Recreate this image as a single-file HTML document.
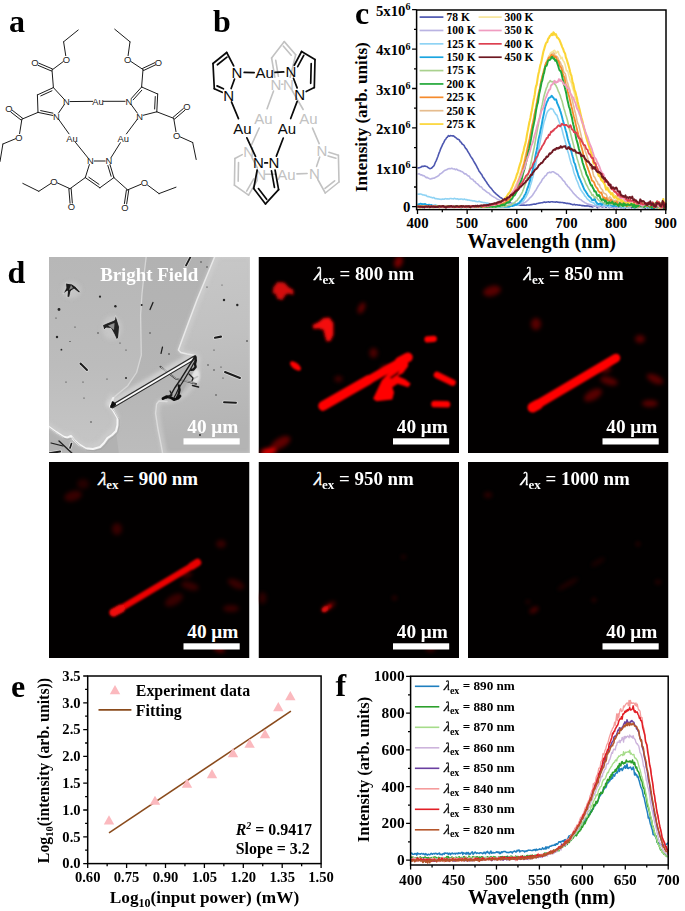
<!DOCTYPE html>
<html><head><meta charset="utf-8"><title>Figure</title>
<style>
html,body{margin:0;padding:0;background:#fff;}
body{width:685px;height:911px;overflow:hidden;font-family:"Liberation Serif",serif;}
svg{display:block;}
text{white-space:pre;}
</style></head><body>
<svg width="685" height="911" viewBox="0 0 685 911">
<rect width="685" height="911" fill="#fff"/>
<g stroke-linecap="round">
<line x1="64.22" y1="104.66" x2="58.48" y2="113.14" stroke="#1c1c1c" stroke-width="1" />
<line x1="52.78" y1="115.45" x2="38" y2="112.4" stroke="#1c1c1c" stroke-width="1" />
<line x1="52.95" y1="113.14" x2="40.68" y2="110.61" stroke="#1c1c1c" stroke-width="1" />
<line x1="38" y1="112.4" x2="37.4" y2="94.9" stroke="#1c1c1c" stroke-width="1" />
<line x1="37.4" y1="94.9" x2="53.4" y2="87.6" stroke="#1c1c1c" stroke-width="1" />
<line x1="40.75" y1="95.9" x2="51.95" y2="90.79" stroke="#1c1c1c" stroke-width="1" />
<line x1="53.4" y1="87.6" x2="63.79" y2="98.88" stroke="#1c1c1c" stroke-width="1" />
<line x1="53.4" y1="87.6" x2="52" y2="70" stroke="#1c1c1c" stroke-width="1" />
<line x1="52.45" y1="68.94" x2="38.86" y2="63.18" stroke="#1c1c1c" stroke-width="1" />
<line x1="51.55" y1="71.06" x2="37.96" y2="65.3" stroke="#1c1c1c" stroke-width="1" />
<line x1="52" y1="70" x2="63.34" y2="61.52" stroke="#1c1c1c" stroke-width="1" />
<line x1="65.74" y1="55.64" x2="63.6" y2="41.8" stroke="#1c1c1c" stroke-width="1" />
<line x1="63.6" y1="41.8" x2="78.2" y2="30" stroke="#1c1c1c" stroke-width="1" />
<line x1="38" y1="112.4" x2="21.9" y2="119.2" stroke="#1c1c1c" stroke-width="1" />
<line x1="22.61" y1="118.29" x2="12.43" y2="110.37" stroke="#1c1c1c" stroke-width="1" />
<line x1="21.19" y1="120.11" x2="11.01" y2="112.18" stroke="#1c1c1c" stroke-width="1" />
<line x1="21.9" y1="119.2" x2="19.59" y2="133.65" stroke="#1c1c1c" stroke-width="1" />
<line x1="15.58" y1="138.72" x2="2.9" y2="144" stroke="#1c1c1c" stroke-width="1" />
<line x1="2.9" y1="144" x2="0" y2="161.5" stroke="#1c1c1c" stroke-width="1" />
<line x1="130.97" y1="104.3" x2="137.43" y2="113.2" stroke="#1c1c1c" stroke-width="1" />
<line x1="143.18" y1="115.28" x2="156.8" y2="111.8" stroke="#1c1c1c" stroke-width="1" />
<line x1="156.8" y1="111.8" x2="157.7" y2="94" stroke="#1c1c1c" stroke-width="1" />
<line x1="154.64" y1="109.01" x2="155.27" y2="96.55" stroke="#1c1c1c" stroke-width="1" />
<line x1="157.7" y1="94" x2="141.6" y2="87" stroke="#1c1c1c" stroke-width="1" />
<line x1="141.6" y1="87" x2="131.27" y2="98.54" stroke="#1c1c1c" stroke-width="1" />
<line x1="141.76" y1="90.27" x2="133.18" y2="99.85" stroke="#1c1c1c" stroke-width="1" />
<line x1="141.6" y1="87" x2="143" y2="69.5" stroke="#1c1c1c" stroke-width="1" />
<line x1="143.49" y1="70.54" x2="155.64" y2="64.82" stroke="#1c1c1c" stroke-width="1" />
<line x1="142.51" y1="68.46" x2="154.66" y2="62.74" stroke="#1c1c1c" stroke-width="1" />
<line x1="143" y1="69.5" x2="130.68" y2="61.34" stroke="#1c1c1c" stroke-width="1" />
<line x1="128.1" y1="55.63" x2="130" y2="41.8" stroke="#1c1c1c" stroke-width="1" />
<line x1="130" y1="41.8" x2="114.7" y2="29.2" stroke="#1c1c1c" stroke-width="1" />
<line x1="156.8" y1="111.8" x2="173.7" y2="118.3" stroke="#1c1c1c" stroke-width="1" />
<line x1="174.45" y1="119.17" x2="184.84" y2="110.28" stroke="#1c1c1c" stroke-width="1" />
<line x1="172.95" y1="117.43" x2="183.34" y2="108.53" stroke="#1c1c1c" stroke-width="1" />
<line x1="173.7" y1="118.3" x2="175.98" y2="131.65" stroke="#1c1c1c" stroke-width="1" />
<line x1="179.98" y1="136.81" x2="192.7" y2="142.5" stroke="#1c1c1c" stroke-width="1" />
<line x1="192.7" y1="142.5" x2="196.2" y2="159.5" stroke="#1c1c1c" stroke-width="1" />
<line x1="70" y1="101.56" x2="92.64" y2="101.35" stroke="#1c1c1c" stroke-width="1" />
<line x1="103.36" y1="101.3" x2="125.1" y2="101.3" stroke="#1c1c1c" stroke-width="1" />
<line x1="94.2" y1="161" x2="105.2" y2="161" stroke="#1c1c1c" stroke-width="1" />
<line x1="109.97" y1="164.54" x2="113.9" y2="177.6" stroke="#1c1c1c" stroke-width="1" />
<line x1="107.85" y1="165.49" x2="111.11" y2="176.3" stroke="#1c1c1c" stroke-width="1" />
<line x1="113.9" y1="177.6" x2="99.9" y2="187.8" stroke="#1c1c1c" stroke-width="1" />
<line x1="99.9" y1="187.8" x2="85.3" y2="177.6" stroke="#1c1c1c" stroke-width="1" />
<line x1="99.03" y1="184.38" x2="88.81" y2="177.24" stroke="#1c1c1c" stroke-width="1" />
<line x1="85.3" y1="177.6" x2="89.39" y2="164.53" stroke="#1c1c1c" stroke-width="1" />
<line x1="85.3" y1="177.6" x2="70" y2="188.7" stroke="#1c1c1c" stroke-width="1" />
<line x1="68.85" y1="188.79" x2="70.05" y2="203.21" stroke="#1c1c1c" stroke-width="1" />
<line x1="71.15" y1="188.61" x2="72.34" y2="203.02" stroke="#1c1c1c" stroke-width="1" />
<line x1="70" y1="188.7" x2="57.37" y2="182.94" stroke="#1c1c1c" stroke-width="1" />
<line x1="50.9" y1="183.42" x2="38.8" y2="191.3" stroke="#1c1c1c" stroke-width="1" />
<line x1="38.8" y1="191.3" x2="22.8" y2="183.4" stroke="#1c1c1c" stroke-width="1" />
<line x1="113.9" y1="177.6" x2="127.6" y2="189.9" stroke="#1c1c1c" stroke-width="1" />
<line x1="126.46" y1="189.73" x2="124.41" y2="203.57" stroke="#1c1c1c" stroke-width="1" />
<line x1="128.74" y1="190.07" x2="126.68" y2="203.91" stroke="#1c1c1c" stroke-width="1" />
<line x1="127.6" y1="189.9" x2="141.09" y2="184.23" stroke="#1c1c1c" stroke-width="1" />
<line x1="147.47" y1="185.01" x2="159" y2="193.6" stroke="#1c1c1c" stroke-width="1" />
<line x1="159" y1="193.6" x2="176" y2="187.2" stroke="#1c1c1c" stroke-width="1" />
<line x1="58.55" y1="119.21" x2="68.98" y2="133.83" stroke="#1c1c1c" stroke-width="1" />
<line x1="75.47" y1="142.38" x2="88.18" y2="158.12" stroke="#1c1c1c" stroke-width="1" />
<line x1="137.39" y1="119.17" x2="126.41" y2="133.9" stroke="#1c1c1c" stroke-width="1" />
<line x1="120.35" y1="142.75" x2="110.87" y2="157.87" stroke="#1c1c1c" stroke-width="1" />
</g>
<g font-family='"Liberation Sans", sans-serif' font-size="9.4" font-weight="normal" fill="#1c1c1c" text-anchor="middle">
<text x="66.3" y="104.98">N</text>
<text x="56.4" y="119.58">N</text>
<text x="35" y="66.18">O</text>
<text x="66.3" y="62.68">O</text>
<text x="8.8" y="112.38">O</text>
<text x="19" y="140.68">O</text>
<text x="98" y="104.68">Au</text>
<text x="128.8" y="104.68">N</text>
<text x="139.6" y="119.58">N</text>
<text x="158.5" y="65.58">O</text>
<text x="127.6" y="62.68">O</text>
<text x="186.9" y="110.38">O</text>
<text x="176.6" y="138.68">O</text>
<text x="72.1" y="141.58">Au</text>
<text x="123.2" y="141.58">Au</text>
<text x="90.5" y="164.38">N</text>
<text x="108.9" y="164.38">N</text>
<text x="71.5" y="210.18">O</text>
<text x="54" y="184.78">O</text>
<text x="125" y="210.78">O</text>
<text x="144.5" y="186.18">O</text>
</g>
<g stroke-linecap="round">
<line x1="281.6" y1="84.3" x2="282.9" y2="84.3" stroke="#c2c2c2" stroke-width="1.6" />
<line x1="290.2" y1="77.3" x2="295.7" y2="54.7" stroke="#c2c2c2" stroke-width="1.6" />
<line x1="295.7" y1="54.7" x2="284.3" y2="41.6" stroke="#c2c2c2" stroke-width="1.6" />
<line x1="291.2" y1="55.16" x2="283.22" y2="45.99" stroke="#c2c2c2" stroke-width="1.6" />
<line x1="284.3" y1="41.6" x2="271.6" y2="58" stroke="#c2c2c2" stroke-width="1.6" />
<line x1="271.6" y1="58" x2="274.81" y2="77.2" stroke="#c2c2c2" stroke-width="1.6" />
<line x1="275.73" y1="60.27" x2="278.41" y2="76.29" stroke="#c2c2c2" stroke-width="1.6" />
<line x1="251.95" y1="157.67" x2="257.35" y2="167.93" stroke="#c2c2c2" stroke-width="1.6" />
<line x1="257.08" y1="180.52" x2="248.6" y2="195.1" stroke="#c2c2c2" stroke-width="1.6" />
<line x1="253.73" y1="178.92" x2="246.67" y2="191.05" stroke="#c2c2c2" stroke-width="1.6" />
<line x1="248.6" y1="195.1" x2="234.4" y2="185.2" stroke="#c2c2c2" stroke-width="1.6" />
<line x1="234.4" y1="185.2" x2="234.9" y2="158.5" stroke="#c2c2c2" stroke-width="1.6" />
<line x1="238.17" y1="181.26" x2="238.52" y2="162.57" stroke="#c2c2c2" stroke-width="1.6" />
<line x1="234.9" y1="158.5" x2="242.23" y2="154.65" stroke="#c2c2c2" stroke-width="1.6" />
<line x1="319.71" y1="157.03" x2="316.59" y2="166.37" stroke="#c2c2c2" stroke-width="1.6" />
<line x1="317.8" y1="179.49" x2="325.3" y2="193" stroke="#c2c2c2" stroke-width="1.6" />
<line x1="325.3" y1="193" x2="339" y2="182" stroke="#c2c2c2" stroke-width="1.6" />
<line x1="325.04" y1="188.46" x2="334.63" y2="180.76" stroke="#c2c2c2" stroke-width="1.6" />
<line x1="339" y1="182" x2="338.4" y2="155.2" stroke="#c2c2c2" stroke-width="1.6" />
<line x1="338.4" y1="155.2" x2="328.89" y2="152.3" stroke="#c2c2c2" stroke-width="1.6" />
<line x1="335.89" y1="158.3" x2="328.09" y2="155.93" stroke="#c2c2c2" stroke-width="1.6" />
<line x1="273.53" y1="91.06" x2="267.08" y2="108.69" stroke="#c2c2c2" stroke-width="1.6" />
<line x1="259.18" y1="128.01" x2="251.58" y2="144.74" stroke="#c2c2c2" stroke-width="1.6" />
<line x1="292.12" y1="90.52" x2="303.15" y2="109.48" stroke="#c2c2c2" stroke-width="1.6" />
<line x1="312.52" y1="128.09" x2="319.16" y2="143.58" stroke="#c2c2c2" stroke-width="1.6" />
<line x1="296.93" y1="173.89" x2="307.11" y2="173.48" stroke="#c2c2c2" stroke-width="1.6" />
<line x1="265.2" y1="174.3" x2="276.06" y2="174.3" stroke="#c2c2c2" stroke-width="1.6" />
</g>
<g font-family='"Liberation Sans", sans-serif' font-size="15" font-weight="normal" fill="#c2c2c2" text-anchor="middle">
<text x="276" y="89.7">N</text>
<text x="288.5" y="89.7">N</text>
<text x="263.5" y="123.9">Au</text>
<text x="308.4" y="123.9">Au</text>
<text x="286.5" y="179.7">Au</text>
<text x="248.6" y="156.7">N</text>
<text x="260.7" y="179.7">N</text>
<text x="322" y="155.6">N</text>
<text x="314.3" y="178.6">N</text>
</g>
<g stroke-linecap="round">
<line x1="234.56" y1="79.07" x2="231.14" y2="88.53" stroke="#0a0a0a" stroke-width="1.7" />
<line x1="222.15" y1="92.3" x2="214.3" y2="88.7" stroke="#0a0a0a" stroke-width="1.7" />
<line x1="223.42" y1="88.81" x2="217.02" y2="85.88" stroke="#0a0a0a" stroke-width="1.7" />
<line x1="214.3" y1="88.7" x2="213" y2="63.5" stroke="#0a0a0a" stroke-width="1.7" />
<line x1="213" y1="63.5" x2="226.7" y2="52.5" stroke="#0a0a0a" stroke-width="1.7" />
<line x1="217.37" y1="64.74" x2="226.96" y2="57.04" stroke="#0a0a0a" stroke-width="1.7" />
<line x1="226.7" y1="52.5" x2="233.68" y2="65.91" stroke="#0a0a0a" stroke-width="1.7" />
<line x1="293.47" y1="78.32" x2="297.13" y2="87.88" stroke="#0a0a0a" stroke-width="1.7" />
<line x1="306.19" y1="91.49" x2="314.3" y2="87.6" stroke="#0a0a0a" stroke-width="1.7" />
<line x1="314.3" y1="87.6" x2="315" y2="59.6" stroke="#0a0a0a" stroke-width="1.7" />
<line x1="310.71" y1="83.31" x2="311.2" y2="63.71" stroke="#0a0a0a" stroke-width="1.7" />
<line x1="315" y1="59.6" x2="301.6" y2="51.5" stroke="#0a0a0a" stroke-width="1.7" />
<line x1="301.6" y1="51.5" x2="294.28" y2="65.24" stroke="#0a0a0a" stroke-width="1.7" />
<line x1="303.77" y1="55.3" x2="297.69" y2="66.72" stroke="#0a0a0a" stroke-width="1.7" />
<line x1="244.2" y1="72.46" x2="254.16" y2="72.67" stroke="#0a0a0a" stroke-width="1.7" />
<line x1="275.03" y1="72.38" x2="283.71" y2="71.96" stroke="#0a0a0a" stroke-width="1.7" />
<line x1="264.8" y1="162.9" x2="267.5" y2="162.9" stroke="#0a0a0a" stroke-width="1.7" />
<line x1="275.07" y1="169.99" x2="278.6" y2="189.6" stroke="#0a0a0a" stroke-width="1.7" />
<line x1="271.49" y1="170.94" x2="274.43" y2="187.31" stroke="#0a0a0a" stroke-width="1.7" />
<line x1="278.6" y1="189.6" x2="265.5" y2="203.9" stroke="#0a0a0a" stroke-width="1.7" />
<line x1="265.5" y1="203.9" x2="253.7" y2="188.5" stroke="#0a0a0a" stroke-width="1.7" />
<line x1="266.67" y1="199.34" x2="258.41" y2="188.56" stroke="#0a0a0a" stroke-width="1.7" />
<line x1="253.7" y1="188.5" x2="257.17" y2="169.98" stroke="#0a0a0a" stroke-width="1.7" />
<line x1="231.48" y1="101.94" x2="238.47" y2="118.67" stroke="#0a0a0a" stroke-width="1.7" />
<line x1="246.88" y1="137.78" x2="255.48" y2="156.36" stroke="#0a0a0a" stroke-width="1.7" />
<line x1="297.16" y1="101.34" x2="290.68" y2="118.53" stroke="#0a0a0a" stroke-width="1.7" />
<line x1="283.28" y1="138.05" x2="276.37" y2="156.17" stroke="#0a0a0a" stroke-width="1.7" />
</g>
<g font-family='"Liberation Sans", sans-serif' font-size="15" font-weight="normal" fill="#0a0a0a" text-anchor="middle">
<text x="237" y="77.7">N</text>
<text x="228.7" y="100.7">N</text>
<text x="264.6" y="78.3">Au</text>
<text x="290.9" y="77">N</text>
<text x="299.7" y="100">N</text>
<text x="242.5" y="133.7">Au</text>
<text x="287" y="133.7">Au</text>
<text x="258.5" y="168.3">N</text>
<text x="273.8" y="168.3">N</text>
</g>
<defs><clipPath id="clipc"><rect x="416.6" y="10" width="251.4" height="199.6"/></clipPath></defs>
<g clip-path="url(#clipc)">
<polyline points="417.5,168.3 418.12,168.01 418.74,167.81 419.36,167.76 419.98,167.54 420.6,167.31 421.22,166.98 421.84,166.37 422.46,166.27 423.09,166.45 423.71,166.17 424.33,165.95 424.95,166.03 425.57,166.34 426.19,166.52 426.81,166.48 427.43,167 428.05,167.52 428.67,167.95 429.29,168.39 429.91,168.59 430.53,168.49 431.15,168.31 431.77,167.94 432.39,167.21 433.02,166.59 433.64,166.14 434.26,165.13 434.88,163.47 435.5,162 436.12,160.82 436.74,159.41 437.36,157.73 437.98,156.2 438.6,154.19 439.22,152.59 439.84,151.22 440.46,149.32 441.08,147.93 441.7,146.69 442.32,145.15 442.95,143.79 443.57,142.85 444.19,141.7 444.81,140.06 445.43,139.47 446.05,138.73 446.67,137.59 447.29,137.31 447.91,136.34 448.53,135.61 449.15,136.08 449.77,136.09 450.39,135.63 451.01,135.72 451.63,135.77 452.25,135.86 452.88,136.03 453.5,135.88 454.12,136.45 454.74,137.03 455.36,137.32 455.98,137.71 456.6,138.29 457.22,138.91 457.84,139.18 458.46,139.38 459.08,139.65 459.7,140.76 460.32,141.84 460.94,142.08 461.56,143.05 462.19,144.04 462.81,144.39 463.43,144.82 464.05,145.49 464.67,146.68 465.29,147.79 465.91,148.67 466.53,149.21 467.15,150.2 467.77,151.53 468.39,152.36 469.01,153.32 469.63,154.44 470.25,155.66 470.87,156.66 471.49,157.58 472.12,158.41 472.74,159.27 473.36,160.56 473.98,161.63 474.6,162.77 475.22,163.77 475.84,164.79 476.46,165.95 477.08,167.24 477.7,168.34 478.32,169.47 478.94,170.9 479.56,171.72 480.18,172.58 480.8,173.53 481.42,174.07 482.05,175.23 482.67,176.65 483.29,177.48 483.91,178.28 484.53,179.29 485.15,180.32 485.77,181.12 486.39,181.93 487.01,183.05 487.63,184 488.25,184.7 488.87,185.66 489.49,186.45 490.11,187.21 490.73,187.9 491.35,188.53 491.98,189.37 492.6,190.18 493.22,190.9 493.84,191.74 494.46,192.51 495.08,192.88 495.7,193.6 496.32,194.15 496.94,194.68 497.56,195.25 498.18,195.69 498.8,196.21 499.42,196.61 500.04,197.34 500.66,197.69 501.28,197.83 501.9,198.4 502.53,198.99 503.15,199.39 503.77,199.84 504.39,200.08 505.01,200.39 505.63,200.83 506.25,201.18 506.87,201.53 507.49,201.87 508.11,201.97 508.73,202.12 509.35,202.4 509.97,202.62 510.59,202.99 511.21,203.24 511.83,203.42 512.46,203.58 513.08,203.74 513.7,203.93 514.32,204.17 514.94,204.36 515.56,204.22 516.18,204.33 516.8,204.68 517.42,204.69 518.04,204.57 518.66,204.81 519.28,205.02 519.9,205.02 520.52,205.21 521.14,205.13 521.76,205.02 522.39,205.11 523.01,205.19 523.63,205.17 524.25,205.16 524.87,205.2 525.49,205.24 526.11,205.31 526.73,205.07 527.35,204.97 527.97,205.02 528.59,204.93 529.21,204.94 529.83,204.91 530.45,204.75 531.07,204.65 531.69,204.64 532.32,204.52 532.94,204.31 533.56,204.15 534.18,204.12 534.8,204.12 535.42,204.16 536.04,203.92 536.66,203.59 537.28,203.57 537.9,203.48 538.52,203.28 539.14,203.13 539.76,203 540.38,202.99 541,202.82 541.62,202.78 542.25,202.73 542.87,202.46 543.49,202.35 544.11,202.12 544.73,201.97 545.35,202.16 545.97,202.38 546.59,202.12 547.21,201.99 547.83,202.01 548.45,201.79 549.07,201.9 549.69,202.15 550.31,201.95 550.93,201.73 551.56,201.78 552.18,201.78 552.8,201.85 553.42,202.01 554.04,201.97 554.66,201.94 555.28,202.12 555.9,202.02 556.52,201.91 557.14,201.97 557.76,202.11 558.38,202.27 559,202.33 559.62,202.42 560.24,202.38 560.86,202.45 561.49,202.52 562.11,202.5 562.73,202.43 563.35,202.68 563.97,202.87 564.59,202.85 565.21,203.03 565.83,203.25 566.45,203.39 567.07,203.29 567.69,203.36 568.31,203.53 568.93,203.65 569.55,203.66 570.17,203.74 570.79,204.14 571.41,204.3 572.04,204.38 572.66,204.71 573.28,204.68 573.9,204.37 574.52,204.42 575.14,204.74 575.76,204.91 576.38,204.81 577,204.8 577.62,204.98 578.24,205.08 578.86,205.17 579.48,205.17 580.1,205.21 580.72,205.33 581.35,205.54 581.97,205.59 582.59,205.62 583.21,205.64 583.83,205.75 584.45,205.91 585.07,205.86 585.69,206.02 586.31,205.92 586.93,205.74 587.55,205.97 588.17,206.07 588.79,206.04 589.41,206.36 590.03,206.41 590.65,206.23 591.27,206.28 591.9,206.83 592.52,207.04 593.14,206.6 593.76,205.87 594.38,205.63 595,206.27 595.62,205.68 596.24,205.98 596.86,206.99 597.48,207.66 598.1,206.66 598.72,205.24 599.34,205.59 599.96,205.76 600.58,206.18 601.21,206.43 601.83,206.62 602.45,206.85 603.07,206.7 603.69,205.82 604.31,205.57 604.93,206.39 605.55,206.98 606.17,207.28 606.79,206.16 607.41,205.57 608.03,206.37 608.65,206.81 609.27,207.42 609.89,207.28 610.51,206.26 611.13,206.43 611.76,207 612.38,206.92 613,206.74 613.62,207.45 614.24,207.63 614.86,207.25 615.48,206.68 616.1,206.63 616.72,206.79 617.34,205.61 617.96,206.07 618.58,207.17 619.2,206.91 619.82,206.6 620.44,207.21 621.07,206.97 621.69,205.42 622.31,205.79 622.93,206.94 623.55,207.34 624.17,207.07 624.79,207.18 625.41,207.91 626.03,206.61 626.65,206.51 627.27,206.61 627.89,205.35 628.51,205.78 629.13,206.28 629.75,205.41 630.37,205.79 631,207.11 631.62,207.7 632.24,207.38 632.86,205.91 633.48,205.44 634.1,206.69 634.72,207.63 635.34,207.4 635.96,206.81 636.58,206.66 637.2,206.7 637.82,206.44 638.44,206.7 639.06,206.87 639.68,206.61 640.3,206.64 640.92,206.48 641.55,205.47 642.17,205.43 642.79,206.37 643.41,207.54 644.03,207.37 644.65,207.5 645.27,208.43 645.89,206.99 646.51,205.85 647.13,206.38 647.75,207.83 648.37,208.03 648.99,207.4 649.61,206.73 650.23,204.58 650.86,204.81 651.48,207.15 652.1,208.31 652.72,207.75 653.34,206.91 653.96,207.92 654.58,207.68 655.2,207.71 655.82,206.74 656.44,204.44 657.06,204.4 657.68,206.03 658.3,206.65 658.92,206.26 659.54,207.32 660.16,207.59 660.78,208.76 661.41,209.3 662.03,207.56 662.65,205.89 663.27,206.67 663.89,204.98 664.51,207.75 665.13,209.3 665.75,207.61" fill="none" stroke="#4d57b0" stroke-width="1.6" stroke-linejoin="round"/>
<polyline points="417.5,173.94 418.12,173.96 418.74,173.84 419.36,173.81 419.98,174.44 420.6,174.88 421.22,174.71 421.84,174.7 422.46,175.59 423.09,175.75 423.71,175.59 424.33,175.95 424.95,176.51 425.57,177.19 426.19,177.66 426.81,177.4 427.43,177.48 428.05,177.9 428.67,178.18 429.29,178.61 429.91,178.9 430.53,179.06 431.15,178.53 431.77,178.65 432.39,178.53 433.02,178.06 433.64,178.27 434.26,178.19 434.88,177.78 435.5,177.36 436.12,177.01 436.74,176.78 437.36,176.31 437.98,175.91 438.6,175.65 439.22,174.97 439.84,174.03 440.46,173.86 441.08,173.56 441.7,172.89 442.32,172.63 442.95,171.84 443.57,171.29 444.19,170.73 444.81,170.39 445.43,170.27 446.05,169.8 446.67,169.76 447.29,169.29 447.91,168.92 448.53,168.71 449.15,168.53 449.77,168.81 450.39,168.75 451.01,168.45 451.63,168.21 452.25,168.47 452.88,168.76 453.5,169.02 454.12,168.95 454.74,168.92 455.36,169.63 455.98,169.54 456.6,169.04 457.22,169.58 457.84,170.3 458.46,170.36 459.08,170.62 459.7,170.64 460.32,170.86 460.94,171.42 461.56,171.44 462.19,171.79 462.81,172.19 463.43,172.62 464.05,173.37 464.67,173.96 465.29,173.72 465.91,173.83 466.53,174.63 467.15,175.03 467.77,175.52 468.39,175.99 469.01,176.13 469.63,176.85 470.25,178.06 470.87,178.57 471.49,179.05 472.12,179.23 472.74,179.36 473.36,180.23 473.98,181.19 474.6,181.62 475.22,181.66 475.84,182.66 476.46,183.37 477.08,183.62 477.7,184.08 478.32,184.64 478.94,185.42 479.56,186.04 480.18,186.7 480.8,186.77 481.42,187.03 482.05,187.86 482.67,188.66 483.29,189.42 483.91,189.86 484.53,190.1 485.15,190.57 485.77,191.08 486.39,191.73 487.01,192.21 487.63,192.54 488.25,192.83 488.87,193.04 489.49,193.7 490.11,194.5 490.73,194.93 491.35,195.34 491.98,195.85 492.6,196.19 493.22,196.63 493.84,196.94 494.46,197.21 495.08,197.63 495.7,198 496.32,198.47 496.94,198.9 497.56,199.18 498.18,199.45 498.8,199.72 499.42,199.96 500.04,200.43 500.66,200.7 501.28,200.97 501.9,201.31 502.53,201.46 503.15,201.85 503.77,202.05 504.39,202.04 505.01,202.29 505.63,202.55 506.25,202.77 506.87,203.01 507.49,203.18 508.11,203.31 508.73,203.43 509.35,203.64 509.97,203.77 510.59,203.77 511.21,203.92 511.83,204.08 512.46,204.11 513.08,204.31 513.7,204.38 514.32,204.26 514.94,204.32 515.56,204.34 516.18,204.44 516.8,204.49 517.42,204.35 518.04,204.25 518.66,204.23 519.28,204.32 519.9,204.19 520.52,203.81 521.14,203.61 521.76,203.52 522.39,203.56 523.01,203.26 523.63,202.85 524.25,202.9 524.87,202.52 525.49,202.05 526.11,201.82 526.73,201.29 527.35,200.54 527.97,199.99 528.59,199.54 529.21,198.7 529.83,197.9 530.45,197.43 531.07,196.93 531.69,196.32 532.32,195.59 532.94,194.54 533.56,193.52 534.18,192.66 534.8,191.64 535.42,190.8 536.04,189.98 536.66,188.74 537.28,187.62 537.9,186.52 538.52,185.51 539.14,184.7 539.76,183.67 540.38,182.76 541,182.12 541.62,180.84 542.25,179.58 542.87,178.69 543.49,178.13 544.11,177.42 544.73,176.4 545.35,175.76 545.97,175.44 546.59,174.71 547.21,173.5 547.83,172.87 548.45,172.8 549.07,172.58 549.69,172.05 550.31,172.51 550.93,172.65 551.56,171.93 552.18,171.82 552.8,171.68 553.42,171.74 554.04,172.26 554.66,172.71 555.28,172.91 555.9,173.44 556.52,174.02 557.14,174.14 557.76,174.2 558.38,174.94 559,175.91 559.62,176.42 560.24,176.75 560.86,177.45 561.49,178.1 562.11,178.98 562.73,180.01 563.35,180.6 563.97,181.17 564.59,181.71 565.21,182.9 565.83,184.03 566.45,184.5 567.07,185.25 567.69,186.35 568.31,186.86 568.93,187.33 569.55,188.21 570.17,189.14 570.79,189.83 571.41,190.56 572.04,191.3 572.66,192.13 573.28,193.12 573.9,193.66 574.52,194.33 575.14,194.93 575.76,195.45 576.38,196.28 577,196.9 577.62,197.42 578.24,197.88 578.86,198.45 579.48,199.12 580.1,199.41 580.72,199.59 581.35,199.96 581.97,200.63 582.59,201.23 583.21,201.46 583.83,201.86 584.45,202.46 585.07,202.76 585.69,202.93 586.31,203.31 586.93,203.78 587.55,204.09 588.17,204.11 588.79,204.26 589.41,204.54 590.03,204.65 590.65,204.76 591.27,204.97 591.9,205.06 592.52,205.49 593.14,206.07 593.76,206.26 594.38,205.59 595,205.17 595.62,206.24 596.24,206.49 596.86,206.3 597.48,205.83 598.1,206.6 598.72,207.56 599.34,206.98 599.96,205.18 600.58,204.53 601.21,205.94 601.83,206.1 602.45,205.01 603.07,205.53 603.69,206.81 604.31,206.09 604.93,205.66 605.55,205.96 606.17,206.49 606.79,205.86 607.41,204.73 608.03,205.44 608.65,205.98 609.27,207.33 609.89,207.36 610.51,206.42 611.13,206.53 611.76,206.09 612.38,206.49 613,207.72 613.62,207.36 614.24,206.87 614.86,207.24 615.48,207.17 616.1,207.18 616.72,208.06 617.34,207.25 617.96,205.93 618.58,205.99 619.2,205.1 619.82,205.66 620.44,207.61 621.07,208.09 621.69,207.78 622.31,207.58 622.93,206.92 623.55,207.69 624.17,207.56 624.79,207.3 625.41,207.32 626.03,206.6 626.65,206.92 627.27,206.9 627.89,207.02 628.51,207.29 629.13,207.88 629.75,207.58 630.37,205.76 631,204.72 631.62,205 632.24,205.65 632.86,206.68 633.48,206.3 634.1,205.98 634.72,206.76 635.34,206.89 635.96,206.8 636.58,206.88 637.2,206.97 637.82,207.3 638.44,207.45 639.06,205.72 639.68,205.56 640.3,206.86 640.92,206.55 641.55,206.06 642.17,206.91 642.79,207.38 643.41,206.33 644.03,206.09 644.65,206.5 645.27,205.83 645.89,206.25 646.51,207.03 647.13,206.95 647.75,206.11 648.37,207 648.99,208.46 649.61,207.54 650.23,206.6 650.86,205.73 651.48,205.11 652.1,206.85 652.72,207.4 653.34,206.3 653.96,207.58 654.58,206.82 655.2,207.07 655.82,209.3 656.44,209.24 657.06,208.7 657.68,209.06 658.3,207.01 658.92,205.91 659.54,204.43 660.16,205 660.78,208.87 661.41,209.3 662.03,208.91 662.65,209.3 663.27,207.78 663.89,207 664.51,209.3 665.13,208.58 665.75,205.82" fill="none" stroke="#b9b3e2" stroke-width="1.6" stroke-linejoin="round"/>
<polyline points="417.5,194.3 418.12,194.2 418.74,194.11 419.36,194.1 419.98,194.01 420.6,193.99 421.22,194.2 421.84,194.29 422.46,194.73 423.09,194.96 423.71,194.92 424.33,195.03 424.95,195.4 425.57,195.36 426.19,195.33 426.81,196.02 427.43,196.54 428.05,196.61 428.67,196.56 429.29,196.85 429.91,197.04 430.53,197.24 431.15,197.36 431.77,197.57 432.39,197.85 433.02,197.74 433.64,197.48 434.26,197.94 434.88,198.56 435.5,198.65 436.12,198.56 436.74,198.7 437.36,198.97 437.98,198.86 438.6,198.99 439.22,199.18 439.84,199.13 440.46,199.33 441.08,199.5 441.7,199.24 442.32,198.98 442.95,198.94 443.57,199.23 444.19,199.26 444.81,198.83 445.43,198.65 446.05,198.77 446.67,198.98 447.29,198.84 447.91,198.78 448.53,199.05 449.15,199.07 449.77,198.64 450.39,198.48 451.01,198.52 451.63,198.64 452.25,198.68 452.88,198.71 453.5,198.9 454.12,198.43 454.74,198.31 455.36,198.8 455.98,198.96 456.6,198.86 457.22,198.69 457.84,198.86 458.46,199.36 459.08,199.37 459.7,199.14 460.32,199.13 460.94,198.98 461.56,199 462.19,199.14 462.81,199.43 463.43,199.49 464.05,199.06 464.67,199.14 465.29,199.51 465.91,199.68 466.53,199.52 467.15,199.78 467.77,200.16 468.39,200.03 469.01,199.99 469.63,200.22 470.25,200.38 470.87,200.45 471.49,200.58 472.12,200.65 472.74,200.95 473.36,201.03 473.98,200.83 474.6,201.08 475.22,201.35 475.84,201.21 476.46,201.44 477.08,201.62 477.7,201.73 478.32,201.69 478.94,201.29 479.56,201.27 480.18,201.76 480.8,202.06 481.42,202.12 482.05,202.32 482.67,202.22 483.29,202.53 483.91,202.71 484.53,202.63 485.15,202.68 485.77,202.75 486.39,203.16 487.01,203.25 487.63,203.15 488.25,203.28 488.87,203.42 489.49,203.59 490.11,204.07 490.73,203.96 491.35,203.64 491.98,203.84 492.6,204.02 493.22,203.98 493.84,204.14 494.46,204.48 495.08,204.52 495.7,204.33 496.32,204.58 496.94,204.66 497.56,204.63 498.18,205.03 498.8,204.83 499.42,204.76 500.04,205.19 500.66,205.29 501.28,205.04 501.9,204.88 502.53,205.13 503.15,205.3 503.77,205.19 504.39,205.39 505.01,205.49 505.63,205.44 506.25,205.61 506.87,205.71 507.49,205.66 508.11,205.62 508.73,205.73 509.35,205.81 509.97,205.58 510.59,205.49 511.21,205.52 511.83,205.36 512.46,205.38 513.08,205.19 513.7,205.33 514.32,205.47 514.94,205.31 515.56,205.05 516.18,204.63 516.8,205.01 517.42,205.2 518.04,204.6 518.66,204.09 519.28,203.78 519.9,203.56 520.52,203.2 521.14,202.64 521.76,202.21 522.39,201.57 523.01,201.25 523.63,200.59 524.25,199.59 524.87,198.65 525.49,197.52 526.11,196.73 526.73,195.43 527.35,194.13 527.97,192.93 528.59,191.51 529.21,189.69 529.83,187.51 530.45,185.38 531.07,183.44 531.69,181.24 532.32,178.89 532.94,176.69 533.56,174 534.18,171.05 534.8,168.46 535.42,165.88 536.04,162.85 536.66,159.71 537.28,156.77 537.9,153.33 538.52,149.97 539.14,146.89 539.76,143.78 540.38,140.59 541,137.03 541.62,134.16 542.25,130.57 542.87,127.36 543.49,124.62 544.11,121.74 544.73,120.12 545.35,118.31 545.97,115.81 546.59,113.77 547.21,112.29 547.83,111.05 548.45,110.67 549.07,109.82 549.69,109.43 550.31,108.94 550.93,108.35 551.56,108.94 552.18,109.05 552.8,109.11 553.42,110.18 554.04,111.69 554.66,112.41 555.28,113.52 555.9,114.6 556.52,114.47 557.14,115.88 557.76,117.71 558.38,119.41 559,121.23 559.62,122.63 560.24,124.62 560.86,126.25 561.49,127.65 562.11,129.86 562.73,132.54 563.35,135.1 563.97,137.17 564.59,139.18 565.21,141.38 565.83,143.61 566.45,145.64 567.07,148.51 567.69,151.37 568.31,152.84 568.93,155.12 569.55,157.8 570.17,159.98 570.79,162.29 571.41,164.32 572.04,165.47 572.66,167.27 573.28,170.11 573.9,172.5 574.52,174.21 575.14,175.6 575.76,177.45 576.38,179.5 577,180.77 577.62,182.02 578.24,183.77 578.86,185.58 579.48,187.17 580.1,188.38 580.72,189.73 581.35,190.63 581.97,191.46 582.59,192.55 583.21,193.11 583.83,193.93 584.45,195.32 585.07,196.2 585.69,196.59 586.31,197.57 586.93,198.59 587.55,199.11 588.17,199.79 588.79,200.09 589.41,200.71 590.03,201.57 590.65,201.67 591.27,201.94 591.9,202.26 592.52,202.31 593.14,202.84 593.76,202.62 594.38,204 595,204.9 595.62,204.29 596.24,204.41 596.86,204.05 597.48,204.82 598.1,205.47 598.72,204.62 599.34,204.18 599.96,205.14 600.58,204.27 601.21,202.64 601.83,204.74 602.45,205.97 603.07,203.76 603.69,203.54 604.31,204.92 604.93,205.54 605.55,206.02 606.17,206.07 606.79,206.11 607.41,205.6 608.03,205.54 608.65,206.25 609.27,206.74 609.89,206.54 610.51,206.39 611.13,206.49 611.76,205.4 612.38,205.1 613,205.43 613.62,205.45 614.24,205.72 614.86,206.01 615.48,206.23 616.1,205.74 616.72,206.2 617.34,205.88 617.96,205.25 618.58,206.45 619.2,206.76 619.82,206.73 620.44,206.37 621.07,206.4 621.69,205.85 622.31,205.9 622.93,207.86 623.55,207.84 624.17,207.7 624.79,207.31 625.41,205.56 626.03,205.18 626.65,206.56 627.27,207.37 627.89,205.59 628.51,204.98 629.13,206.01 629.75,205.59 630.37,204.2 631,204.06 631.62,205.4 632.24,205.94 632.86,205.67 633.48,206.24 634.1,207.2 634.72,206.83 635.34,206.77 635.96,206.84 636.58,206.25 637.2,204.88 637.82,205.43 638.44,206.84 639.06,206.46 639.68,206.14 640.3,205.45 640.92,205.99 641.55,207.07 642.17,207.73 642.79,207.79 643.41,206.55 644.03,206 644.65,206.9 645.27,207.14 645.89,206.55 646.51,206.03 647.13,206.42 647.75,206.93 648.37,207.81 648.99,208.53 649.61,206.03 650.23,206.83 650.86,208.45 651.48,206.49 652.1,206.53 652.72,207.48 653.34,207.22 653.96,206.47 654.58,206.5 655.2,208.44 655.82,208.58 656.44,207.52 657.06,208.01 657.68,206.8 658.3,205.4 658.92,204.57 659.54,205.94 660.16,205.9 660.78,203.7 661.41,203.35 662.03,202.99 662.65,204.71 663.27,206.92 663.89,205.51 664.51,207.28 665.13,208.24 665.75,206.98" fill="none" stroke="#8fd3f4" stroke-width="1.6" stroke-linejoin="round"/>
<polyline points="417.5,204.08 418.12,204.29 418.74,204.34 419.36,204.08 419.98,203.82 420.6,203.68 421.22,203.83 421.84,204.03 422.46,204.17 423.09,204.14 423.71,204.11 424.33,204.14 424.95,203.93 425.57,204.1 426.19,204.65 426.81,204.86 427.43,204.95 428.05,205.1 428.67,204.8 429.29,204.71 429.91,205.21 430.53,205.25 431.15,204.96 431.77,205.21 432.39,205.58 433.02,205.68 433.64,205.64 434.26,205.59 434.88,205.55 435.5,205.55 436.12,205.63 436.74,205.68 437.36,205.82 437.98,206.29 438.6,206.46 439.22,206.25 439.84,206.34 440.46,206.3 441.08,206.34 441.7,206.63 442.32,206.41 442.95,206.22 443.57,206.41 444.19,206.4 444.81,206.3 445.43,206.4 446.05,206.9 446.67,207.06 447.29,206.79 447.91,206.85 448.53,206.76 449.15,206.47 449.77,206.57 450.39,206.9 451.01,206.56 451.63,206.47 452.25,206.92 452.88,206.83 453.5,206.6 454.12,206.73 454.74,206.68 455.36,206.65 455.98,206.89 456.6,206.8 457.22,206.57 457.84,206.68 458.46,206.74 459.08,206.67 459.7,206.32 460.32,206.41 460.94,206.61 461.56,206.52 462.19,206.72 462.81,206.62 463.43,206.48 464.05,206.4 464.67,206.48 465.29,206.74 465.91,206.86 466.53,206.7 467.15,206.55 467.77,206.43 468.39,206.45 469.01,206.5 469.63,206.34 470.25,206.47 470.87,206.88 471.49,207.07 472.12,207.06 472.74,206.68 473.36,206.6 473.98,206.65 474.6,206.45 475.22,206.38 475.84,206.33 476.46,206.58 477.08,206.74 477.7,206.72 478.32,206.66 478.94,206.75 479.56,206.78 480.18,206.48 480.8,206.71 481.42,206.9 482.05,206.79 482.67,206.8 483.29,206.56 483.91,206.59 484.53,206.6 485.15,206.81 485.77,206.77 486.39,206.63 487.01,206.7 487.63,206.59 488.25,207.03 488.87,207.16 489.49,206.77 490.11,206.45 490.73,206.45 491.35,206.62 491.98,206.86 492.6,206.7 493.22,206.25 493.84,206.44 494.46,206.72 495.08,206.95 495.7,206.8 496.32,206.2 496.94,206.22 497.56,206.42 498.18,206.44 498.8,206.75 499.42,206.63 500.04,206.66 500.66,206.87 501.28,206.66 501.9,206.5 502.53,206.47 503.15,206.53 503.77,206.67 504.39,206.89 505.01,206.76 505.63,206.65 506.25,206.82 506.87,206.86 507.49,206.71 508.11,206.75 508.73,206.81 509.35,206.72 509.97,206.44 510.59,206.07 511.21,205.72 511.83,205.88 512.46,206.13 513.08,205.65 513.7,205.41 514.32,205.4 514.94,204.91 515.56,204.66 516.18,204.79 516.8,204.61 517.42,204.04 518.04,203.4 518.66,203.2 519.28,202.88 519.9,202.04 520.52,201.18 521.14,200.66 521.76,199.89 522.39,198.86 523.01,198.31 523.63,197.44 524.25,195.98 524.87,194.82 525.49,193.94 526.11,192.48 526.73,190.46 527.35,188.48 527.97,187.25 528.59,185.18 529.21,182.97 529.83,181.17 530.45,178.44 531.07,176.05 531.69,173.78 532.32,171.64 532.94,168.82 533.56,165.89 534.18,163.72 534.8,159.85 535.42,155.92 536.04,152.99 536.66,150.16 537.28,146.97 537.9,142.93 538.52,139.54 539.14,136.65 539.76,134.16 540.38,130.92 541,128 541.62,125.34 542.25,121.5 542.87,118.28 543.49,115.51 544.11,112.49 544.73,109.17 545.35,106.27 545.97,104.81 546.59,102.86 547.21,101.39 547.83,100.48 548.45,98.56 549.07,97.91 549.69,97.64 550.31,97.21 550.93,96.86 551.56,95.74 552.18,96.27 552.8,97.15 553.42,97.67 554.04,98.82 554.66,99.69 555.28,99.57 555.9,99.2 556.52,100.72 557.14,103.16 557.76,104.46 558.38,105.81 559,107.38 559.62,108.87 560.24,110.86 560.86,112.64 561.49,114.92 562.11,117.32 562.73,119.82 563.35,122 563.97,124.13 564.59,126.3 565.21,128.46 565.83,130.73 566.45,132.66 567.07,135.52 567.69,138.3 568.31,140.56 568.93,142.51 569.55,144.16 570.17,146.53 570.79,149.46 571.41,151.64 572.04,154.26 572.66,156.52 573.28,158.54 573.9,161.78 574.52,163.11 575.14,164.18 575.76,167.09 576.38,169.39 577,171.13 577.62,173.01 578.24,175.08 578.86,176.97 579.48,178.24 580.1,179.67 580.72,181.08 581.35,182.6 581.97,183.8 582.59,185.31 583.21,186.99 583.83,188.44 584.45,189.87 585.07,190.4 585.69,191.4 586.31,192.53 586.93,193.31 587.55,194.46 588.17,195.34 588.79,196.03 589.41,196.78 590.03,197.27 590.65,197.73 591.27,198.54 591.9,199.99 592.52,200 593.14,200.01 593.76,200.03 594.38,198.84 595,199.34 595.62,201.27 596.24,202.19 596.86,202.97 597.48,203.68 598.1,204.03 598.72,203.97 599.34,203.86 599.96,203.4 600.58,203.57 601.21,204.29 601.83,204.92 602.45,204 603.07,203.13 603.69,203.17 604.31,203.12 604.93,203.39 605.55,204.09 606.17,204.62 606.79,202.99 607.41,204.18 608.03,205.13 608.65,203.51 609.27,204 609.89,204.58 610.51,204.14 611.13,205.01 611.76,205.54 612.38,205.7 613,206.37 613.62,206.26 614.24,205.97 614.86,205.55 615.48,205.23 616.1,206.17 616.72,205.3 617.34,203.81 617.96,204.56 618.58,205.47 619.2,205.97 619.82,205.46 620.44,205.18 621.07,206.5 621.69,206.33 622.31,203.64 622.93,205.18 623.55,206.32 624.17,205.03 624.79,205.69 625.41,205.12 626.03,205.76 626.65,206.48 627.27,204.94 627.89,205.16 628.51,206.28 629.13,206.11 629.75,206.13 630.37,205.3 631,205.58 631.62,205.99 632.24,206.2 632.86,206.33 633.48,205.67 634.1,207.59 634.72,207.55 635.34,206.66 635.96,206.93 636.58,205.4 637.2,205.81 637.82,207.35 638.44,205.85 639.06,205.17 639.68,205.12 640.3,205 640.92,206.44 641.55,206.68 642.17,205.44 642.79,204.86 643.41,205.59 644.03,206.12 644.65,206.19 645.27,206.57 645.89,205.37 646.51,204.98 647.13,206.92 647.75,207.29 648.37,206.02 648.99,205.19 649.61,205.82 650.23,206.87 650.86,206.77 651.48,207.67 652.1,208.93 652.72,206.72 653.34,205.94 653.96,206.36 654.58,204.62 655.2,204.29 655.82,205.54 656.44,203.86 657.06,203.05 657.68,205.92 658.3,205.84 658.92,204.88 659.54,206.89 660.16,207.35 660.78,206.45 661.41,209.27 662.03,209.3 662.65,206.99 663.27,207.41 663.89,209.3 664.51,209.3 665.13,206.98 665.75,206.26" fill="none" stroke="#1aa5e0" stroke-width="1.9" stroke-linejoin="round"/>
<polyline points="417.5,206.86 418.12,206.77 418.74,206.78 419.36,206.9 419.98,206.55 420.6,206.61 421.22,206.87 421.84,206.62 422.46,206.6 423.09,206.8 423.71,206.71 424.33,206.52 424.95,206.86 425.57,207.13 426.19,206.96 426.81,207 427.43,206.97 428.05,206.94 428.67,206.78 429.29,206.78 429.91,206.81 430.53,206.63 431.15,206.75 431.77,206.78 432.39,206.45 433.02,206.42 433.64,206.74 434.26,206.8 434.88,206.84 435.5,206.79 436.12,206.54 436.74,206.69 437.36,206.85 437.98,206.57 438.6,206.61 439.22,206.74 439.84,206.82 440.46,206.96 441.08,206.89 441.7,206.47 442.32,206.46 442.95,206.83 443.57,206.85 444.19,206.8 444.81,206.63 445.43,206.58 446.05,206.39 446.67,206.39 447.29,206.47 447.91,206.46 448.53,206.58 449.15,206.82 449.77,206.92 450.39,206.73 451.01,206.74 451.63,207.03 452.25,206.88 452.88,206.63 453.5,206.81 454.12,206.8 454.74,206.77 455.36,206.68 455.98,206.82 456.6,207 457.22,206.79 457.84,206.64 458.46,206.73 459.08,206.83 459.7,206.89 460.32,206.82 460.94,206.55 461.56,206.68 462.19,206.64 462.81,206.37 463.43,206.65 464.05,206.65 464.67,206.79 465.29,207.14 465.91,207.12 466.53,206.93 467.15,206.8 467.77,206.82 468.39,206.76 469.01,206.98 469.63,206.93 470.25,206.83 470.87,206.99 471.49,206.85 472.12,206.92 472.74,207.05 473.36,207.03 473.98,206.84 474.6,206.62 475.22,206.54 475.84,206.76 476.46,206.95 477.08,206.94 477.7,206.76 478.32,206.92 478.94,206.81 479.56,206.6 480.18,206.87 480.8,206.76 481.42,206.51 482.05,206.51 482.67,206.51 483.29,206.54 483.91,206.51 484.53,206.36 485.15,206.54 485.77,206.51 486.39,206.48 487.01,206.66 487.63,206.81 488.25,206.86 488.87,206.63 489.49,206.77 490.11,206.78 490.73,206.55 491.35,206.6 491.98,206.95 492.6,207 493.22,206.6 493.84,206.69 494.46,206.76 495.08,206.98 495.7,206.89 496.32,206.64 496.94,206.61 497.56,206.76 498.18,206.77 498.8,206.53 499.42,206.49 500.04,206.57 500.66,206.74 501.28,206.27 501.9,206.26 502.53,206.63 503.15,206.51 503.77,206.5 504.39,206.23 505.01,205.78 505.63,205.96 506.25,206.34 506.87,205.98 507.49,205.46 508.11,205.37 508.73,205.21 509.35,205.27 509.97,205.26 510.59,205.11 511.21,205.04 511.83,204.42 512.46,204 513.08,203.47 513.7,202.97 514.32,202.97 514.94,202.39 515.56,201.51 516.18,200.98 516.8,200.79 517.42,200.12 518.04,198.97 518.66,198.27 519.28,197.71 519.9,196.49 520.52,195.29 521.14,194.48 521.76,193.34 522.39,191.96 523.01,190.42 523.63,188.75 524.25,186.97 524.87,185.12 525.49,183.77 526.11,181.88 526.73,179.35 527.35,177.16 527.97,174.85 528.59,172.65 529.21,170.57 529.83,167.64 530.45,164.96 531.07,162.85 531.69,159.47 532.32,156.14 532.94,153.38 533.56,150.41 534.18,147.47 534.8,144.14 535.42,140.57 536.04,136.8 536.66,133.97 537.28,130.48 537.9,126.77 538.52,123.96 539.14,120.05 539.76,116.44 540.38,113.93 541,110.14 541.62,106.84 542.25,104.43 542.87,101.22 543.49,98.1 544.11,95.78 544.73,93.54 545.35,91.44 545.97,89.38 546.59,87.58 547.21,86.55 547.83,84.15 548.45,82.73 549.07,82.51 549.69,81.09 550.31,80.56 550.93,81.59 551.56,81.48 552.18,81.8 552.8,81.96 553.42,81.47 554.04,82.72 554.66,84.15 555.28,84.7 555.9,85.42 556.52,86.95 557.14,87.95 557.76,89.69 558.38,91.5 559,92.43 559.62,94.03 560.24,95.52 560.86,97.71 561.49,99.54 562.11,101.18 562.73,103.7 563.35,106.27 563.97,108.66 564.59,110.35 565.21,112.6 565.83,115.06 566.45,116.82 567.07,118.96 567.69,121.28 568.31,124.19 568.93,127.49 569.55,129.59 570.17,131.69 570.79,134.17 571.41,136.75 572.04,139.21 572.66,141.45 573.28,144.01 573.9,146.51 574.52,148.97 575.14,151.37 575.76,153.7 576.38,155.77 577,158.15 577.62,160.13 578.24,162.14 578.86,164.35 579.48,166.34 580.1,168.54 580.72,169.96 581.35,171.79 581.97,174.22 582.59,175.99 583.21,177.42 583.83,178.42 584.45,179.83 585.07,181.51 585.69,183.12 586.31,184.55 586.93,185.51 587.55,186.46 588.17,187.85 588.79,189.15 589.41,190.02 590.03,191.28 590.65,192.27 591.27,193.02 591.9,195.36 592.52,195.63 593.14,194.67 593.76,195.98 594.38,197.75 595,197.24 595.62,196.87 596.24,197.69 596.86,197.53 597.48,198.91 598.1,199.71 598.72,199.96 599.34,200.86 599.96,201.13 600.58,201.43 601.21,201.04 601.83,201.26 602.45,202.27 603.07,202.75 603.69,202.7 604.31,203.27 604.93,203.96 605.55,203.65 606.17,203.86 606.79,204.06 607.41,204.23 608.03,203.14 608.65,202.14 609.27,203.16 609.89,204.06 610.51,203.16 611.13,203.03 611.76,204.43 612.38,204.52 613,204.36 613.62,203.79 614.24,204.04 614.86,203.7 615.48,204.25 616.1,205.11 616.72,205.23 617.34,204.63 617.96,204.28 618.58,205.4 619.2,204.71 619.82,203.99 620.44,205.19 621.07,206.14 621.69,206.33 622.31,206.08 622.93,205.37 623.55,205.67 624.17,206.03 624.79,206.07 625.41,206.13 626.03,205.62 626.65,204.35 627.27,205.78 627.89,206.73 628.51,205.88 629.13,205.55 629.75,205.87 630.37,206.26 631,206.32 631.62,205.86 632.24,205.22 632.86,205.73 633.48,205.58 634.1,205.65 634.72,206.76 635.34,206.3 635.96,205.25 636.58,205.7 637.2,205.31 637.82,204.54 638.44,205.74 639.06,206.9 639.68,205.4 640.3,204.15 640.92,205.47 641.55,206.97 642.17,206.93 642.79,206.55 643.41,207.1 644.03,206.81 644.65,206.64 645.27,207.37 645.89,206.12 646.51,205.82 647.13,206.45 647.75,205.61 648.37,204.99 648.99,205.65 649.61,206.23 650.23,206.63 650.86,205.27 651.48,204 652.1,206.45 652.72,207.06 653.34,205.39 653.96,204.91 654.58,203.77 655.2,202.78 655.82,205.21 656.44,206.8 657.06,207.66 657.68,207.32 658.3,205.66 658.92,202.66 659.54,202.65 660.16,208.71 660.78,209.3 661.41,206.92 662.03,207.75 662.65,209.16 663.27,207.96 663.89,206.23 664.51,205.94 665.13,207.82 665.75,206.38" fill="none" stroke="#a9d18e" stroke-width="1.6" stroke-linejoin="round"/>
<polyline points="417.5,206.79 418.12,206.88 418.74,207.02 419.36,207.07 419.98,206.72 420.6,206.87 421.22,206.99 421.84,206.59 422.46,206.64 423.09,206.72 423.71,206.85 424.33,206.67 424.95,206.28 425.57,206.47 426.19,206.96 426.81,207.18 427.43,206.71 428.05,206.24 428.67,206.35 429.29,206.43 429.91,206.59 430.53,206.84 431.15,206.73 431.77,206.63 432.39,206.89 433.02,206.8 433.64,206.31 434.26,206.67 434.88,207.13 435.5,206.87 436.12,206.75 436.74,207.22 437.36,206.97 437.98,206.53 438.6,206.76 439.22,206.42 439.84,206.31 440.46,206.81 441.08,206.81 441.7,206.86 442.32,207.01 442.95,206.76 443.57,206.73 444.19,206.87 444.81,206.49 445.43,206.26 446.05,206.41 446.67,206.47 447.29,206.53 447.91,206.37 448.53,206.45 449.15,206.38 449.77,206.54 450.39,206.91 451.01,206.98 451.63,207 452.25,206.67 452.88,206.36 453.5,206.56 454.12,206.81 454.74,206.76 455.36,206.89 455.98,207.03 456.6,206.89 457.22,206.99 457.84,206.98 458.46,206.68 459.08,206.81 459.7,206.99 460.32,207.11 460.94,206.62 461.56,206.61 462.19,206.66 462.81,206.33 463.43,206.66 464.05,206.96 464.67,206.72 465.29,206.22 465.91,206.56 466.53,206.91 467.15,206.57 467.77,206.46 468.39,206.3 469.01,206.45 469.63,206.7 470.25,206.82 470.87,206.55 471.49,206.46 472.12,207.2 472.74,207.1 473.36,206.74 473.98,206.38 474.6,206.42 475.22,206.75 475.84,206.58 476.46,206.31 477.08,206.42 477.7,206.51 478.32,206.4 478.94,206.63 479.56,206.7 480.18,206.64 480.8,206.8 481.42,206.59 482.05,206.67 482.67,206.66 483.29,206.25 483.91,206.46 484.53,206.74 485.15,206.75 485.77,206.52 486.39,206.33 487.01,206.34 487.63,206.27 488.25,206.39 488.87,206.49 489.49,206.63 490.11,206.5 490.73,206.15 491.35,206.31 491.98,206.08 492.6,205.83 493.22,206.45 493.84,206.49 494.46,206.17 495.08,205.9 495.7,205.11 496.32,205.27 496.94,205.57 497.56,205.38 498.18,205.19 498.8,204.86 499.42,204.51 500.04,204.6 500.66,204.33 501.28,204.09 501.9,204.06 502.53,203.4 503.15,203.01 503.77,203.05 504.39,202.94 505.01,202.46 505.63,201.92 506.25,201.16 506.87,200.89 507.49,200.48 508.11,199.55 508.73,198.9 509.35,198.26 509.97,197.36 510.59,196.59 511.21,195.89 511.83,195 512.46,193.88 513.08,193.38 513.7,192.42 514.32,190.97 514.94,190.11 515.56,189 516.18,188.01 516.8,186.5 517.42,184.77 518.04,183.03 518.66,181.58 519.28,179.66 519.9,177.46 520.52,175.98 521.14,174.27 521.76,172.37 522.39,170.37 523.01,168.12 523.63,165.55 524.25,163.1 524.87,161.04 525.49,158.56 526.11,155.83 526.73,153.05 527.35,149.51 527.97,146.56 528.59,144.34 529.21,142.1 529.83,139.48 530.45,136.49 531.07,132.73 531.69,129.31 532.32,126.38 532.94,123.16 533.56,119.95 534.18,116.01 534.8,113.07 535.42,110.5 536.04,107.35 536.66,103.69 537.28,100.62 537.9,98.29 538.52,95.37 539.14,92.46 539.76,88.73 540.38,84.13 541,81.92 541.62,79.89 542.25,76.69 542.87,75.07 543.49,72.89 544.11,70.19 544.73,68.21 545.35,65.16 545.97,63.83 546.59,62.81 547.21,60.15 547.83,59.18 548.45,58 549.07,56.19 549.69,55.26 550.31,54.74 550.93,53.9 551.56,54.72 552.18,54.13 552.8,51.99 553.42,52.33 554.04,53.16 554.66,54.65 555.28,55.63 555.9,55.87 556.52,56.73 557.14,56.61 557.76,57.56 558.38,59.04 559,60.62 559.62,61.78 560.24,62.07 560.86,63.67 561.49,65.48 562.11,65.79 562.73,67.62 563.35,70.66 563.97,72.23 564.59,73.05 565.21,73.66 565.83,76.03 566.45,79.33 567.07,81.75 567.69,83.14 568.31,85.55 568.93,87.64 569.55,88.97 570.17,91.89 570.79,94.58 571.41,96.71 572.04,98.78 572.66,101.94 573.28,104.55 573.9,106.77 574.52,110 575.14,112.3 575.76,114.59 576.38,117.47 577,120.44 577.62,122.88 578.24,124.28 578.86,125.74 579.48,128.45 580.1,131.13 580.72,133.89 581.35,136.65 581.97,138.71 582.59,141.31 583.21,143.95 583.83,145.8 584.45,147.77 585.07,150.25 585.69,152.13 586.31,153.95 586.93,155.77 587.55,157.66 588.17,159.93 588.79,161.76 589.41,163.54 590.03,165.51 590.65,167.28 591.27,168.58 591.9,169.33 592.52,170.54 593.14,173.64 593.76,176.23 594.38,176.78 595,177.77 595.62,179.11 596.24,180.83 596.86,181.23 597.48,181.95 598.1,184.36 598.72,184.69 599.34,184.32 599.96,186.56 600.58,187.62 601.21,188.63 601.83,189.32 602.45,189.82 603.07,191.85 603.69,192.7 604.31,193.4 604.93,193.73 605.55,193.79 606.17,194.51 606.79,195.56 607.41,198.45 608.03,198.57 608.65,197.96 609.27,198.34 609.89,196.91 610.51,197.32 611.13,198.67 611.76,199.34 612.38,199.54 613,200.11 613.62,200.71 614.24,201.25 614.86,200.44 615.48,200.15 616.1,200.55 616.72,200.93 617.34,201.7 617.96,201.87 618.58,201.83 619.2,201.4 619.82,201.72 620.44,202.81 621.07,203.59 621.69,202.31 622.31,202.14 622.93,203.47 623.55,202.52 624.17,201.79 624.79,202.47 625.41,203.48 626.03,202.47 626.65,202.08 627.27,203.27 627.89,203.69 628.51,204.97 629.13,205.75 629.75,204.71 630.37,203.72 631,204.18 631.62,205.19 632.24,205.98 632.86,205.52 633.48,205.58 634.1,204.88 634.72,203.33 635.34,202.2 635.96,202.41 636.58,204.53 637.2,205.64 637.82,207.42 638.44,207.29 639.06,205.32 639.68,204.4 640.3,203.95 640.92,204.22 641.55,204.49 642.17,204.47 642.79,203.75 643.41,204.83 644.03,206.01 644.65,206.24 645.27,205 645.89,203.39 646.51,203.87 647.13,205.51 647.75,205.95 648.37,205.3 648.99,205.39 649.61,205.38 650.23,205.04 650.86,205.23 651.48,204.95 652.1,204.37 652.72,205.44 653.34,205.81 653.96,205.99 654.58,205.06 655.2,204.89 655.82,205.46 656.44,205.61 657.06,207.7 657.68,206.23 658.3,205.74 658.92,206.04 659.54,204.17 660.16,207.22 660.78,209.12 661.41,207.64 662.03,207.52 662.65,208.54 663.27,206.32 663.89,204.94 664.51,205.48 665.13,205.78 665.75,205.93" fill="none" stroke="#e6bc8e" stroke-width="1.6" stroke-linejoin="round"/>
<polyline points="417.5,206.88 418.12,206.89 418.74,206.57 419.36,206.55 419.98,206.8 420.6,207.07 421.22,206.92 421.84,206.58 422.46,206.68 423.09,206.95 423.71,206.75 424.33,205.97 424.95,206.17 425.57,206.69 426.19,206.53 426.81,207.23 427.43,207.29 428.05,206.84 428.67,206.54 429.29,206.43 429.91,206.95 430.53,206.94 431.15,206.71 431.77,206.79 432.39,206.85 433.02,207.04 433.64,207.08 434.26,206.57 434.88,206.04 435.5,206.05 436.12,206.46 436.74,206.35 437.36,206.17 437.98,206.05 438.6,206.04 439.22,206.47 439.84,206.67 440.46,206.59 441.08,206.58 441.7,206.58 442.32,206.84 442.95,207.4 443.57,207.37 444.19,207.35 444.81,207.17 445.43,206.68 446.05,207.1 446.67,206.94 447.29,206.32 447.91,206.47 448.53,206.27 449.15,205.85 449.77,206.54 450.39,206.74 451.01,206.34 451.63,206.49 452.25,206.37 452.88,206.65 453.5,207.02 454.12,207.04 454.74,207.08 455.36,206.91 455.98,207.07 456.6,207.3 457.22,206.81 457.84,206.58 458.46,206.62 459.08,207.06 459.7,207.34 460.32,207.02 460.94,206.83 461.56,206.83 462.19,206.62 462.81,206.49 463.43,206.71 464.05,206.69 464.67,206.52 465.29,206.64 465.91,206.54 466.53,206.31 467.15,206.55 467.77,206.65 468.39,206.56 469.01,206.32 469.63,206.22 470.25,206.37 470.87,206.39 471.49,206.45 472.12,206.36 472.74,206.39 473.36,207.19 473.98,206.86 474.6,206.33 475.22,206.93 475.84,207 476.46,206.92 477.08,206.36 477.7,206.02 478.32,206.9 478.94,206.88 479.56,206.59 480.18,206.25 480.8,206.4 481.42,207.39 482.05,207.11 482.67,206.63 483.29,206.73 483.91,207.15 484.53,206.92 485.15,205.97 485.77,206.51 486.39,206.6 487.01,206.24 487.63,205.92 488.25,205.63 488.87,206.2 489.49,205.99 490.11,205.76 490.73,206.11 491.35,205.99 491.98,205.89 492.6,206.42 493.22,205.7 493.84,205.25 494.46,205.78 495.08,205.49 495.7,205.58 496.32,205.85 496.94,205.43 497.56,205.04 498.18,204.71 498.8,204.09 499.42,204 500.04,203.9 500.66,203.36 501.28,203.46 501.9,203.24 502.53,202.86 503.15,202.28 503.77,201.52 504.39,201.35 505.01,201.35 505.63,200.83 506.25,200.14 506.87,199.42 507.49,198.63 508.11,198.38 508.73,197.4 509.35,196.23 509.97,195.85 510.59,194.88 511.21,193.89 511.83,193.35 512.46,192.22 513.08,191.28 513.7,190.31 514.32,188.95 514.94,187.11 515.56,185.28 516.18,184.42 516.8,182.92 517.42,181.31 518.04,180.09 518.66,178.11 519.28,176.38 519.9,174.04 520.52,172.14 521.14,171.4 521.76,168.98 522.39,166.57 523.01,164.95 523.63,163.64 524.25,160.82 524.87,156.96 525.49,154.54 526.11,151.91 526.73,148.92 527.35,146.64 527.97,144.2 528.59,141.7 529.21,139.41 529.83,135.72 530.45,132.43 531.07,130.54 531.69,127.55 532.32,123.96 532.94,121.46 533.56,118.08 534.18,114.77 534.8,112.7 535.42,109.99 536.04,105.14 536.66,102.27 537.28,100.06 537.9,95.86 538.52,92.62 539.14,90.73 539.76,88.4 540.38,84.77 541,81.33 541.62,79.12 542.25,77.72 542.87,74.19 543.49,70.34 544.11,68.42 544.73,67.31 545.35,65.2 545.97,62.77 546.59,60.66 547.21,59.86 547.83,58.79 548.45,56.66 549.07,56.23 549.69,54.88 550.31,53.16 550.93,52.81 551.56,51.94 552.18,52.18 552.8,52.21 553.42,50.81 554.04,50.6 554.66,50.27 555.28,51.5 555.9,53.57 556.52,52.95 557.14,52.07 557.76,51.34 558.38,51.87 559,54.64 559.62,55.32 560.24,56.19 560.86,58.7 561.49,57.44 562.11,57.37 562.73,59.84 563.35,60.97 563.97,61.61 564.59,63.23 565.21,65.12 565.83,67.53 566.45,70.82 567.07,70.94 567.69,70.89 568.31,73.27 568.93,75.9 569.55,78.02 570.17,80.52 570.79,81.68 571.41,82.92 572.04,85.61 572.66,87.88 573.28,89.71 573.9,91.8 574.52,94.17 575.14,97.32 575.76,99.67 576.38,100.08 577,102.91 577.62,106.41 578.24,107.94 578.86,109.65 579.48,112.08 580.1,115.66 580.72,117.98 581.35,120.02 581.97,122.91 582.59,124.31 583.21,126.28 583.83,128.37 584.45,128.98 585.07,131.19 585.69,134.44 586.31,137.31 586.93,139.99 587.55,142.12 588.17,144.1 588.79,146.1 589.41,148.12 590.03,149.68 590.65,151.72 591.27,154.05 591.9,157.21 592.52,157.46 593.14,158.05 593.76,159.3 594.38,160.18 595,162.92 595.62,164.81 596.24,167.23 596.86,167.47 597.48,166.88 598.1,170.27 598.72,173.48 599.34,174.36 599.96,176.21 600.58,178.35 601.21,177.58 601.83,178.12 602.45,180.2 603.07,180.65 603.69,182.13 604.31,183.65 604.93,184.24 605.55,186.03 606.17,186.25 606.79,187.24 607.41,187.04 608.03,187.57 608.65,188.29 609.27,189.42 609.89,191.14 610.51,191.91 611.13,193.97 611.76,193.63 612.38,192.8 613,194.4 613.62,194.6 614.24,194.79 614.86,196.04 615.48,195.7 616.1,195.83 616.72,197.8 617.34,197.5 617.96,196.25 618.58,198.06 619.2,199.53 619.82,200.76 620.44,201.32 621.07,200.07 621.69,199.65 622.31,201.1 622.93,201.49 623.55,199.88 624.17,199.98 624.79,201.69 625.41,200.75 626.03,200.23 626.65,201.32 627.27,202.24 627.89,203.52 628.51,204.07 629.13,203.49 629.75,202.98 630.37,202.55 631,202.15 631.62,202.37 632.24,202.72 632.86,203.67 633.48,205.41 634.1,205.17 634.72,204.45 635.34,204.63 635.96,204.25 636.58,204.74 637.2,205.39 637.82,204.69 638.44,203.92 639.06,204.37 639.68,204.17 640.3,203.94 640.92,205.03 641.55,204.91 642.17,202.99 642.79,203.53 643.41,204.06 644.03,202.71 644.65,202.53 645.27,204.08 645.89,203.77 646.51,203.1 647.13,204.76 647.75,205.07 648.37,204.43 648.99,204.22 649.61,204.91 650.23,203.84 650.86,204.35 651.48,206.59 652.1,205.17 652.72,203.43 653.34,203.1 653.96,204.99 654.58,205.03 655.2,203.28 655.82,202.46 656.44,204.5 657.06,206.41 657.68,205.24 658.3,207.6 658.92,208.26 659.54,204.67 660.16,204.34 660.78,206.96 661.41,205.08 662.03,202.57 662.65,202.35 663.27,205.05 663.89,206.71 664.51,203.84 665.13,204.8 665.75,207.77" fill="none" stroke="#f7e59a" stroke-width="1.6" stroke-linejoin="round"/>
<polyline points="417.5,206.53 418.12,206.21 418.74,206.62 419.36,207.48 419.98,207.54 420.6,207.21 421.22,206.94 421.84,206.6 422.46,206.6 423.09,206.88 423.71,206.81 424.33,206.87 424.95,206.91 425.57,206.84 426.19,206.28 426.81,205.98 427.43,206.7 428.05,207.08 428.67,207 429.29,207.13 429.91,207.19 430.53,207 431.15,206.67 431.77,206.61 432.39,206.95 433.02,207.14 433.64,207.22 434.26,206.96 434.88,206.76 435.5,206.51 436.12,206.6 436.74,206.61 437.36,206.43 437.98,206.65 438.6,207.12 439.22,207.38 439.84,206.81 440.46,206.26 441.08,206.37 441.7,206.5 442.32,206.63 442.95,206.86 443.57,206.91 444.19,206.64 444.81,206.43 445.43,206.68 446.05,206.82 446.67,206.65 447.29,206.52 447.91,206.81 448.53,206.52 449.15,206.29 449.77,206.64 450.39,206.39 451.01,206.18 451.63,206.51 452.25,206.61 452.88,206.81 453.5,207.05 454.12,207.3 454.74,206.91 455.36,206.84 455.98,206.95 456.6,206.73 457.22,207.07 457.84,206.94 458.46,206.68 459.08,206.52 459.7,206.21 460.32,206.26 460.94,206.44 461.56,206.64 462.19,206.67 462.81,206.52 463.43,206.76 464.05,206.81 464.67,206.73 465.29,206.67 465.91,206.57 466.53,206.71 467.15,206.95 467.77,206.69 468.39,206.88 469.01,207.16 469.63,206.49 470.25,206.92 470.87,207.38 471.49,206.67 472.12,206.87 472.74,206.47 473.36,206.66 473.98,206.89 474.6,206.03 475.22,206.13 475.84,206.49 476.46,206.6 477.08,206.73 477.7,206.62 478.32,206.65 478.94,206.86 479.56,206.41 480.18,206.56 480.8,206.83 481.42,206.54 482.05,206.72 482.67,206.48 483.29,206.1 483.91,206.62 484.53,206.66 485.15,206.47 485.77,206.55 486.39,206.32 487.01,206.27 487.63,206.02 488.25,205.95 488.87,205.87 489.49,205.64 490.11,205.58 490.73,205.58 491.35,205.75 491.98,205.75 492.6,205.39 493.22,204.8 493.84,204.32 494.46,204.06 495.08,204.26 495.7,204.37 496.32,204.12 496.94,203.83 497.56,203.33 498.18,202.83 498.8,203.01 499.42,203.03 500.04,202.18 500.66,201.57 501.28,201.5 501.9,200.85 502.53,200.39 503.15,200.19 503.77,199.64 504.39,199.41 505.01,198.47 505.63,197.62 506.25,197.21 506.87,196.32 507.49,195.19 508.11,194.15 508.73,193.37 509.35,192.76 509.97,191.74 510.59,190.58 511.21,189.31 511.83,187.61 512.46,186.38 513.08,184.57 513.7,182.98 514.32,181.83 514.94,180.34 515.56,178.88 516.18,176.91 516.8,174.73 517.42,173.46 518.04,171.5 518.66,168.92 519.28,166.81 519.9,164.61 520.52,162.98 521.14,161.12 521.76,157.72 522.39,154.74 523.01,153.19 523.63,150.49 524.25,147.4 524.87,145.34 525.49,143.15 526.11,140.15 526.73,136.24 527.35,132.61 527.97,129.69 528.59,126.41 529.21,122.87 529.83,120.57 530.45,117.68 531.07,113.86 531.69,110.94 532.32,107.49 532.94,103.66 533.56,100.19 534.18,97.44 534.8,94.22 535.42,89.29 536.04,86.26 536.66,84.77 537.28,80.92 537.9,76.63 538.52,73.42 539.14,71.24 539.76,67.99 540.38,64.92 541,63.24 541.62,60.44 542.25,57.29 542.87,54.08 543.49,51.29 544.11,49.43 544.73,47.13 545.35,45.08 545.97,43.25 546.59,42.4 547.21,42.28 547.83,39.64 548.45,38.3 549.07,37.87 549.69,36.23 550.31,35.62 550.93,35.28 551.56,33.8 552.18,34.83 552.8,35.11 553.42,32.35 554.04,33.06 554.66,34.72 555.28,34.71 555.9,34.14 556.52,35.87 557.14,37.6 557.76,37.82 558.38,38.46 559,39.27 559.62,40.31 560.24,41.85 560.86,43.48 561.49,45 562.11,46.87 562.73,48.12 563.35,49.46 563.97,51.74 564.59,52.58 565.21,53.88 565.83,57.42 566.45,58.75 567.07,60.48 567.69,62.91 568.31,64.71 568.93,67.08 569.55,69.27 570.17,72.02 570.79,74.45 571.41,75.57 572.04,79.14 572.66,82.57 573.28,83.78 573.9,86.84 574.52,90.22 575.14,91.28 575.76,93.41 576.38,96.04 577,98.23 577.62,101.72 578.24,104.34 578.86,106.69 579.48,108.97 580.1,111.63 580.72,114.62 581.35,117.27 581.97,119.31 582.59,121.56 583.21,124.96 583.83,127.96 584.45,129.87 585.07,132.24 585.69,134.86 586.31,137.29 586.93,139.52 587.55,141.28 588.17,143.04 588.79,145.36 589.41,147.12 590.03,149.23 590.65,150.91 591.27,152.56 591.9,154.73 592.52,157.76 593.14,162.08 593.76,163.62 594.38,163.15 595,163.33 595.62,166.13 596.24,167.76 596.86,168.51 597.48,170.88 598.1,173.98 598.72,175.82 599.34,175.62 599.96,176.57 600.58,177.54 601.21,180.06 601.83,180.66 602.45,180.53 603.07,181.88 603.69,182.73 604.31,183.41 604.93,185.11 605.55,187.74 606.17,189.57 606.79,188.59 607.41,188 608.03,189.65 608.65,191.18 609.27,191.96 609.89,192.35 610.51,193.26 611.13,194.38 611.76,193.31 612.38,193.27 613,195.67 613.62,197.21 614.24,197.78 614.86,196.92 615.48,196.38 616.1,197.43 616.72,198.3 617.34,198.75 617.96,199.87 618.58,199.17 619.2,198.52 619.82,198.07 620.44,199.1 621.07,201.09 621.69,200.28 622.31,200.6 622.93,202.32 623.55,203 624.17,202.24 624.79,201.6 625.41,201.92 626.03,201.67 626.65,201.13 627.27,201.73 627.89,202.51 628.51,203.03 629.13,202.82 629.75,202.19 630.37,202.63 631,203.04 631.62,203.4 632.24,204.71 632.86,205.24 633.48,203.92 634.1,203.07 634.72,202.62 635.34,202.95 635.96,203.49 636.58,202.74 637.2,202.73 637.82,204.04 638.44,204.86 639.06,204.44 639.68,205.01 640.3,204.84 640.92,203.59 641.55,204.25 642.17,203.69 642.79,203.61 643.41,205.05 644.03,205.06 644.65,205.42 645.27,205.03 645.89,204.6 646.51,203.78 647.13,203.35 647.75,204.14 648.37,204.77 648.99,206.34 649.61,206.31 650.23,205.9 650.86,205.03 651.48,204.3 652.1,203.62 652.72,202.84 653.34,203.63 653.96,204.13 654.58,204.79 655.2,204.34 655.82,203.52 656.44,205.08 657.06,205.61 657.68,201.55 658.3,202.21 658.92,205.86 659.54,206.68 660.16,208.34 660.78,205.83 661.41,203.72 662.03,204.98 662.65,202.36 663.27,198.98 663.89,203.06 664.51,205.31 665.13,202.9 665.75,203.93" fill="none" stroke="#fbd535" stroke-width="2.1" stroke-linejoin="round"/>
<polyline points="417.5,206.62 418.12,206.62 418.74,206.43 419.36,206.32 419.98,206.53 420.6,206.42 421.22,206.33 421.84,206.47 422.46,206.56 423.09,206.34 423.71,206.31 424.33,206.63 424.95,206.86 425.57,206.91 426.19,206.94 426.81,206.86 427.43,206.64 428.05,207.01 428.67,207.05 429.29,206.58 429.91,206.56 430.53,206.83 431.15,206.64 431.77,206.6 432.39,207.03 433.02,207.1 433.64,206.89 434.26,206.53 434.88,206.33 435.5,206.46 436.12,206.87 436.74,207.02 437.36,206.97 437.98,206.88 438.6,207.04 439.22,206.99 439.84,206.57 440.46,206.61 441.08,206.65 441.7,206.78 442.32,207.11 442.95,207.06 443.57,206.61 444.19,206.32 444.81,206.6 445.43,206.57 446.05,206.55 446.67,206.5 447.29,206.36 447.91,206.69 448.53,206.64 449.15,206.7 449.77,206.99 450.39,207.11 451.01,206.91 451.63,206.66 452.25,206.72 452.88,206.78 453.5,206.52 454.12,206.53 454.74,206.9 455.36,206.61 455.98,206.24 456.6,206.4 457.22,206.94 457.84,207.1 458.46,206.7 459.08,206.59 459.7,206.43 460.32,206.67 460.94,206.82 461.56,206.69 462.19,206.58 462.81,206.48 463.43,206.53 464.05,206.63 464.67,207.05 465.29,207.13 465.91,207 466.53,206.98 467.15,206.67 467.77,206.26 468.39,206.42 469.01,206.83 469.63,206.9 470.25,206.84 470.87,206.56 471.49,206.39 472.12,206.56 472.74,206.68 473.36,207.11 473.98,207.17 474.6,207.02 475.22,206.82 475.84,206.61 476.46,206.81 477.08,206.89 477.7,206.48 478.32,206.57 478.94,207 479.56,206.87 480.18,206.82 480.8,206.85 481.42,206.63 482.05,206.25 482.67,206.64 483.29,206.94 483.91,206.61 484.53,206.61 485.15,206.63 485.77,206.66 486.39,206.44 487.01,206.44 487.63,206.61 488.25,206.51 488.87,206.44 489.49,206.43 490.11,206.24 490.73,206.17 491.35,206.27 491.98,206.22 492.6,206.37 493.22,206.44 493.84,206.38 494.46,206.12 495.08,205.98 495.7,206.1 496.32,205.82 496.94,205.43 497.56,205.64 498.18,205.3 498.8,204.82 499.42,204.96 500.04,204.58 500.66,204.34 501.28,204.4 501.9,203.77 502.53,203.58 503.15,203.69 503.77,203.02 504.39,202.83 505.01,202.62 505.63,201.93 506.25,201.02 506.87,200.76 507.49,200.68 508.11,199.82 508.73,199.18 509.35,198.87 509.97,198.1 510.59,197.08 511.21,196.26 511.83,195.19 512.46,194.14 513.08,193.29 513.7,192.38 514.32,191.56 514.94,190.47 515.56,188.94 516.18,187.67 516.8,186.29 517.42,184.9 518.04,183.03 518.66,180.72 519.28,179.43 519.9,178.03 520.52,176.11 521.14,173.93 521.76,171.71 522.39,169.87 523.01,167.82 523.63,165.51 524.25,163.33 524.87,160.73 525.49,158.11 526.11,155.53 526.73,152.6 527.35,149.67 527.97,146.88 528.59,144 529.21,141.32 529.83,138.44 530.45,135.16 531.07,132.19 531.69,128.95 532.32,125.52 532.94,123.05 533.56,120.06 534.18,116.65 534.8,113.1 535.42,110.06 536.04,107.7 536.66,104.41 537.28,100.22 537.9,96.94 538.52,94.49 539.14,91.17 539.76,89.04 540.38,86.09 541,82.24 541.62,79.48 542.25,76.76 542.87,74.35 543.49,72.41 544.11,70.19 544.73,67.93 545.35,64.9 545.97,63.08 546.59,62.23 547.21,61.21 547.83,60.34 548.45,58.18 549.07,57.38 549.69,57.74 550.31,56.63 550.93,55.97 551.56,54.71 552.18,55.61 552.8,56.48 553.42,55.18 554.04,56.24 554.66,57.37 555.28,57.19 555.9,56.79 556.52,58.28 557.14,60.77 557.76,60.92 558.38,60.61 559,62.52 559.62,65.69 560.24,66.34 560.86,67 561.49,68.86 562.11,70.58 562.73,73.15 563.35,75.3 563.97,76.52 564.59,77.81 565.21,81.6 565.83,84.88 566.45,85.51 567.07,87.64 567.69,91.39 568.31,93.7 568.93,95.69 569.55,98.28 570.17,101 570.79,103.68 571.41,106.28 572.04,108.67 572.66,111.44 573.28,114.32 573.9,116.72 574.52,118.79 575.14,121.24 575.76,124.36 576.38,126.91 577,129.33 577.62,131.71 578.24,134.21 578.86,136.49 579.48,138.71 580.1,141.72 580.72,144.64 581.35,146.71 581.97,148.73 582.59,151.27 583.21,154.04 583.83,156.67 584.45,158.25 585.07,159.59 585.69,161.46 586.31,163.94 586.93,165.76 587.55,167.39 588.17,169.32 588.79,170.79 589.41,172.73 590.03,174.57 590.65,176.4 591.27,177.95 591.9,180.48 592.52,180.95 593.14,181.03 593.76,181.98 594.38,183 595,185.17 595.62,186.28 596.24,187.18 596.86,188.02 597.48,188.53 598.1,190.47 598.72,191.55 599.34,191.71 599.96,192.69 600.58,192.91 601.21,192.34 601.83,193.81 602.45,195.75 603.07,197.53 603.69,197.96 604.31,197.36 604.93,199.13 605.55,199.16 606.17,197.89 606.79,198.95 607.41,199.95 608.03,200.47 608.65,200.12 609.27,200.79 609.89,201.76 610.51,199.91 611.13,199.96 611.76,201.13 612.38,201.49 613,202.73 613.62,202.87 614.24,202.09 614.86,202.89 615.48,203.1 616.1,201.87 616.72,201.57 617.34,203.45 617.96,204.84 618.58,204.98 619.2,203.84 619.82,202.59 620.44,202.92 621.07,203.92 621.69,205.16 622.31,204.66 622.93,203.96 623.55,204.6 624.17,204.65 624.79,203.8 625.41,203.81 626.03,204.9 626.65,206.38 627.27,205.96 627.89,204.62 628.51,204.67 629.13,205.07 629.75,205.38 630.37,204.72 631,204.37 631.62,204.77 632.24,205.36 632.86,205.85 633.48,205.19 634.1,205.46 634.72,206.36 635.34,205.97 635.96,204.5 636.58,204.21 637.2,204.08 637.82,204.31 638.44,205.41 639.06,206.2 639.68,206.39 640.3,204.69 640.92,204.16 641.55,204.61 642.17,204.4 642.79,204.87 643.41,205.45 644.03,205.39 644.65,204.88 645.27,204.69 645.89,204.82 646.51,205 647.13,205.85 647.75,206.17 648.37,206.35 648.99,205.44 649.61,206.37 650.23,207.43 650.86,203.68 651.48,203.74 652.1,206.92 652.72,206.68 653.34,204.36 653.96,204.48 654.58,205.16 655.2,204.88 655.82,205.96 656.44,202.53 657.06,201.95 657.68,206.26 658.3,206.97 658.92,205.87 659.54,204.73 660.16,204.2 660.78,204.54 661.41,207.56 662.03,207.06 662.65,205.49 663.27,206.7 663.89,208.49 664.51,208.99 665.13,207.89 665.75,207.08" fill="none" stroke="#f58b2c" stroke-width="1.8" stroke-linejoin="round"/>
<polyline points="417.5,207 418.12,206.99 418.74,206.66 419.36,206.91 419.98,207.06 420.6,207.01 421.22,206.69 421.84,207.04 422.46,207.29 423.09,207.11 423.71,207.13 424.33,206.61 424.95,206.66 425.57,206.8 426.19,206.85 426.81,206.47 427.43,206.11 428.05,206.28 428.67,206.74 429.29,207.2 429.91,206.7 430.53,206.52 431.15,206.79 431.77,206.68 432.39,206.89 433.02,206.8 433.64,206.54 434.26,206.6 434.88,206.74 435.5,206.73 436.12,206.74 436.74,206.65 437.36,206.27 437.98,206.28 438.6,206.4 439.22,206.46 439.84,207.13 440.46,207.09 441.08,206.58 441.7,206.74 442.32,206.74 442.95,207.05 443.57,207.1 444.19,206.68 444.81,206.27 445.43,206.54 446.05,207.02 446.67,206.59 447.29,206.58 447.91,206.45 448.53,206.26 449.15,206.87 449.77,206.68 450.39,206.15 451.01,206.65 451.63,206.67 452.25,206.44 452.88,206.45 453.5,206.47 454.12,207.1 454.74,206.92 455.36,206.4 455.98,206.07 456.6,205.91 457.22,206.2 457.84,206.61 458.46,206.86 459.08,206.87 459.7,206.93 460.32,206.93 460.94,207.28 461.56,207.19 462.19,206.67 462.81,206.18 463.43,206.01 464.05,206.64 464.67,206.68 465.29,206.84 465.91,207.08 466.53,207.21 467.15,206.79 467.77,206.28 468.39,206.82 469.01,206.96 469.63,206.52 470.25,206.4 470.87,206.52 471.49,206.8 472.12,207.01 472.74,206.81 473.36,206.49 473.98,206.68 474.6,207.1 475.22,206.69 475.84,206.65 476.46,206.67 477.08,206.42 477.7,206.46 478.32,206.15 478.94,206.19 479.56,206.39 480.18,206.72 480.8,207.02 481.42,206.69 482.05,206.23 482.67,206.07 483.29,205.91 483.91,206.13 484.53,206.56 485.15,206.41 485.77,206.44 486.39,206.65 487.01,206.87 487.63,206.64 488.25,206.63 488.87,206.72 489.49,206.77 490.11,206.64 490.73,206.53 491.35,206.56 491.98,206.65 492.6,206.89 493.22,206.28 493.84,206.32 494.46,206.51 495.08,206.39 495.7,206.83 496.32,206.61 496.94,205.97 497.56,206.19 498.18,206.07 498.8,205.91 499.42,206.13 500.04,205.85 500.66,205.64 501.28,205.02 501.9,205.03 502.53,205.18 503.15,204.44 503.77,204.79 504.39,205.13 505.01,204.32 505.63,203.75 506.25,203.47 506.87,202.76 507.49,202.53 508.11,202.58 508.73,202.64 509.35,201.86 509.97,200.91 510.59,200.29 511.21,199.39 511.83,199.08 512.46,197.98 513.08,196.6 513.7,195.93 514.32,195.52 514.94,194.82 515.56,193.6 516.18,192.46 516.8,191.38 517.42,189.87 518.04,188.15 518.66,186.69 519.28,185.33 519.9,183.44 520.52,181.52 521.14,180.8 521.76,179.13 522.39,176.37 523.01,173.8 523.63,171.66 524.25,169.73 524.87,167.45 525.49,164.69 526.11,162.04 526.73,159.79 527.35,157.14 527.97,153.91 528.59,150.91 529.21,148.72 529.83,145.24 530.45,141.74 531.07,138.65 531.69,134.97 532.32,131.33 532.94,127.69 533.56,125.04 534.18,122.15 534.8,119.05 535.42,114.83 536.04,110.62 536.66,107.33 537.28,104.3 537.9,102.59 538.52,98.41 539.14,94.12 539.76,91.63 540.38,88.56 541,85.29 541.62,82.14 542.25,80.53 542.87,77.58 543.49,74.47 544.11,72.94 544.73,69.45 545.35,66.58 545.97,65.84 546.59,65.71 547.21,63.89 547.83,61.16 548.45,60.15 549.07,60.25 549.69,59.93 550.31,59.4 550.93,58.49 551.56,57.16 552.18,56.75 552.8,57.88 553.42,58.71 554.04,58.45 554.66,59.54 555.28,60.73 555.9,60.12 556.52,60.98 557.14,62.89 557.76,64.58 558.38,66.5 559,68.79 559.62,70.51 560.24,70.68 560.86,71.42 561.49,73.44 562.11,76.32 562.73,79.14 563.35,82.1 563.97,84.57 564.59,86.37 565.21,89.19 565.83,91.58 566.45,94.3 567.07,98.28 567.69,100.98 568.31,103.64 568.93,106.55 569.55,108.02 570.17,110.29 570.79,113.52 571.41,115.73 572.04,118.11 572.66,121.64 573.28,124.41 573.9,126.82 574.52,130.12 575.14,132.83 575.76,136.08 576.38,139.2 577,141.31 577.62,143.36 578.24,145.98 578.86,148.73 579.48,150.68 580.1,152.52 580.72,154.92 581.35,157.23 581.97,159.82 582.59,162.46 583.21,164.3 583.83,166.3 584.45,168.49 585.07,169.77 585.69,171.5 586.31,174.01 586.93,175.48 587.55,176.3 588.17,177.97 588.79,179.63 589.41,181.19 590.03,183.02 590.65,184.38 591.27,185.53 591.9,185.32 592.52,187.14 593.14,188.35 593.76,189.27 594.38,191.51 595,191.16 595.62,191.44 596.24,192.64 596.86,194.94 597.48,195.62 598.1,195.88 598.72,195.05 599.34,195.12 599.96,197.28 600.58,198.44 601.21,199.38 601.83,199.95 602.45,199.42 603.07,199.16 603.69,199.82 604.31,200.46 604.93,201.5 605.55,200.52 606.17,201.12 606.79,203.41 607.41,202.77 608.03,202.57 608.65,203.35 609.27,202.21 609.89,202.65 610.51,202.85 611.13,202.93 611.76,202.68 612.38,201.53 613,202.93 613.62,204.05 614.24,204.4 614.86,204.24 615.48,203.06 616.1,204.22 616.72,204.45 617.34,204.46 617.96,205.68 618.58,206.05 619.2,204.2 619.82,203.07 620.44,204.33 621.07,204.86 621.69,204.38 622.31,205.35 622.93,206.07 623.55,203.33 624.17,203.63 624.79,205.08 625.41,204.44 626.03,205.01 626.65,205.46 627.27,204.35 627.89,204.27 628.51,204.68 629.13,205.06 629.75,205.13 630.37,204.89 631,204.18 631.62,203.78 632.24,204.9 632.86,206.96 633.48,206.37 634.1,204.33 634.72,205.4 635.34,207.19 635.96,207.36 636.58,205.5 637.2,205.47 637.82,206.38 638.44,205.57 639.06,204.5 639.68,204.68 640.3,205.55 640.92,205.9 641.55,204.81 642.17,203.79 642.79,204.91 643.41,206.51 644.03,206.98 644.65,205.72 645.27,205.69 645.89,205.51 646.51,204.79 647.13,205.19 647.75,204.97 648.37,204.79 648.99,205.97 649.61,206.68 650.23,203.99 650.86,204.73 651.48,207.29 652.1,205.2 652.72,204.88 653.34,206.77 653.96,208.02 654.58,206.65 655.2,204.1 655.82,203.09 656.44,204.15 657.06,204.54 657.68,205.85 658.3,206.97 658.92,206.55 659.54,206.57 660.16,204.67 660.78,203.41 661.41,205.82 662.03,205.55 662.65,204.79 663.27,208.22 663.89,207.81 664.51,208.54 665.13,208.32 665.75,205.53" fill="none" stroke="#21a838" stroke-width="1.95" stroke-linejoin="round"/>
<polyline points="417.5,206.74 418.12,206.63 418.74,206.65 419.36,206.76 419.98,207 420.6,206.99 421.22,206.87 421.84,206.97 422.46,206.81 423.09,206.68 423.71,207 424.33,207.36 424.95,207.09 425.57,206.66 426.19,206.53 426.81,206.44 427.43,206.25 428.05,206.33 428.67,206.6 429.29,206.92 429.91,207.11 430.53,206.99 431.15,206.74 431.77,206.6 432.39,206.65 433.02,206.73 433.64,206.6 434.26,206.53 434.88,206.6 435.5,206.57 436.12,206.75 436.74,207.03 437.36,206.81 437.98,206.51 438.6,206.66 439.22,206.83 439.84,206.31 440.46,206.39 441.08,206.9 441.7,206.69 442.32,206.88 442.95,206.91 443.57,206.3 444.19,206.13 444.81,206.38 445.43,206.45 446.05,206.55 446.67,206.48 447.29,206.53 447.91,206.82 448.53,206.77 449.15,206.49 449.77,206.44 450.39,206.49 451.01,206.98 451.63,206.87 452.25,205.97 452.88,205.94 453.5,206.49 454.12,206.94 454.74,206.82 455.36,206.84 455.98,206.75 456.6,206.66 457.22,206.61 457.84,206.22 458.46,206.83 459.08,207.06 459.7,206.78 460.32,207.13 460.94,207.11 461.56,206.87 462.19,206.52 462.81,206.79 463.43,206.79 464.05,206.05 464.67,206.15 465.29,206.45 465.91,206.57 466.53,206.93 467.15,206.81 467.77,206.48 468.39,206.44 469.01,205.99 469.63,205.98 470.25,206.42 470.87,206.24 471.49,206.61 472.12,207.16 472.74,206.95 473.36,206.84 473.98,206.61 474.6,206.54 475.22,206.31 475.84,205.92 476.46,206.11 477.08,206.49 477.7,206.5 478.32,206.24 478.94,206.57 479.56,206.65 480.18,206.26 480.8,206.26 481.42,206.06 482.05,205.82 482.67,206.29 483.29,206.48 483.91,206.45 484.53,206.31 485.15,206.27 485.77,206.15 486.39,205.84 487.01,205.77 487.63,205.82 488.25,206.26 488.87,205.79 489.49,205.44 490.11,205.43 490.73,205.21 491.35,205.26 491.98,204.86 492.6,204.81 493.22,204.77 493.84,205.02 494.46,204.99 495.08,204.56 495.7,204.61 496.32,204.37 496.94,204.07 497.56,203.51 498.18,203.76 498.8,203.87 499.42,203.37 500.04,202.85 500.66,202.49 501.28,202.33 501.9,202 502.53,201.6 503.15,200.91 503.77,200.75 504.39,200.54 505.01,200.32 505.63,199.79 506.25,198.77 506.87,198.44 507.49,197.82 508.11,197.58 508.73,197.67 509.35,196.85 509.97,195.84 510.59,194.78 511.21,193.92 511.83,193.15 512.46,192.11 513.08,191.34 513.7,190.93 514.32,190.18 514.94,188.31 515.56,187.56 516.18,187.09 516.8,184.94 517.42,183.58 518.04,183 518.66,181.88 519.28,180.09 519.9,178.39 520.52,177.5 521.14,176.19 521.76,174.36 522.39,172.71 523.01,170.77 523.63,169.6 524.25,168.85 524.87,166.9 525.49,164.08 526.11,162.18 526.73,160.87 527.35,158.39 527.97,156.92 528.59,155.51 529.21,153.36 529.83,151.67 530.45,149.39 531.07,146.75 531.69,145.06 532.32,143.76 532.94,141.9 533.56,139.35 534.18,136.72 534.8,134.57 535.42,132.65 536.04,130.82 536.66,127.7 537.28,125.43 537.9,123.44 538.52,120.94 539.14,119.24 539.76,118.1 540.38,115.36 541,112.42 541.62,110.36 542.25,109.43 542.87,108.79 543.49,106.94 544.11,104.66 544.73,101.15 545.35,98.59 545.97,97.42 546.59,95.98 547.21,93.93 547.83,92.63 548.45,91.36 549.07,89.72 549.69,89.85 550.31,88.93 550.93,85.76 551.56,84.7 552.18,84.59 552.8,83.83 553.42,83.24 554.04,81.54 554.66,80.81 555.28,81.58 555.9,82.86 556.52,82.3 557.14,81.43 557.76,82.08 558.38,80.45 559,79.03 559.62,80.76 560.24,80.88 560.86,79.75 561.49,81.04 562.11,81.27 562.73,82.23 563.35,83.88 563.97,84.35 564.59,84.94 565.21,84.31 565.83,85.21 566.45,87.2 567.07,87.87 567.69,88.04 568.31,88.7 568.93,89.38 569.55,90.7 570.17,93.05 570.79,94.14 571.41,94.67 572.04,96.2 572.66,97.41 573.28,97.33 573.9,99.23 574.52,101.63 575.14,102.13 575.76,104.03 576.38,106.72 577,108.54 577.62,109.53 578.24,110.37 578.86,112.32 579.48,114.24 580.1,115.27 580.72,116.6 581.35,119.62 581.97,121.77 582.59,122.83 583.21,124.26 583.83,126.19 584.45,128.57 585.07,130.44 585.69,132.7 586.31,134.27 586.93,135.53 587.55,137.08 588.17,139 588.79,141.11 589.41,142.81 590.03,144.76 590.65,145.79 591.27,147.24 591.9,149.04 592.52,151.21 593.14,153.11 593.76,155.17 594.38,157.2 595,157.81 595.62,158.5 596.24,159.47 596.86,161.54 597.48,162.49 598.1,163.63 598.72,165.26 599.34,166.19 599.96,167.99 600.58,170.1 601.21,171.08 601.83,172.42 602.45,173.59 603.07,173.65 603.69,174.47 604.31,176.69 604.93,179.34 605.55,180.16 606.17,180.35 606.79,180.52 607.41,181.68 608.03,183.56 608.65,183.68 609.27,184.75 609.89,186.24 610.51,185.53 611.13,185.18 611.76,186.71 612.38,188.31 613,190.13 613.62,190.62 614.24,190.58 614.86,191.45 615.48,192.46 616.1,193.21 616.72,193.55 617.34,193.88 617.96,193.31 618.58,193.79 619.2,196.35 619.82,197.71 620.44,198.1 621.07,198.4 621.69,197.37 622.31,196.97 622.93,198.11 623.55,198.55 624.17,199 624.79,200.44 625.41,201.17 626.03,201.1 626.65,199.51 627.27,200.1 627.89,200.47 628.51,198.96 629.13,200.13 629.75,201.25 630.37,201.75 631,201.93 631.62,201.29 632.24,201.45 632.86,201.4 633.48,200.8 634.1,201.38 634.72,202.09 635.34,202.5 635.96,202.62 636.58,203.43 637.2,203.51 637.82,202.77 638.44,203.71 639.06,202.55 639.68,202.72 640.3,204.77 640.92,204.05 641.55,204.83 642.17,205.61 642.79,205.42 643.41,205.6 644.03,204.77 644.65,204.01 645.27,203.28 645.89,203.02 646.51,202.97 647.13,203.13 647.75,204.35 648.37,204 648.99,204.05 649.61,205.51 650.23,203.86 650.86,202.63 651.48,203.81 652.1,203.86 652.72,203.23 653.34,205.36 653.96,206.43 654.58,206.32 655.2,206.16 655.82,205.65 656.44,204.26 657.06,202.84 657.68,205.49 658.3,206.21 658.92,206.78 659.54,206.77 660.16,204.46 660.78,204.16 661.41,207.67 662.03,208.61 662.65,205.11 663.27,204.17 663.89,203.17 664.51,205.64 665.13,206.69 665.75,205.7" fill="none" stroke="#f09cc0" stroke-width="1.8" stroke-linejoin="round"/>
<polyline points="417.5,206.68 418.12,206.62 418.74,206.53 419.36,206.7 419.98,206.79 420.6,206.89 421.22,207.16 421.84,206.87 422.46,206.63 423.09,207.01 423.71,207.15 424.33,206.86 424.95,206.45 425.57,206.27 426.19,206.4 426.81,206.89 427.43,207.04 428.05,206.65 428.67,206.57 429.29,206.58 429.91,206.69 430.53,206.46 431.15,206.16 431.77,206.48 432.39,206.9 433.02,206.53 433.64,206.46 434.26,206.61 434.88,206.18 435.5,206.55 436.12,206.83 436.74,206.73 437.36,206.69 437.98,206.58 438.6,206.33 439.22,206.28 439.84,206.62 440.46,206.53 441.08,206.57 441.7,206.83 442.32,206.4 442.95,206.47 443.57,206.94 444.19,206.79 444.81,206.89 445.43,207.26 446.05,206.9 446.67,206.67 447.29,206.94 447.91,206.87 448.53,206.95 449.15,207.07 449.77,206.87 450.39,206.27 451.01,206.17 451.63,206.46 452.25,206.84 452.88,206.97 453.5,206.92 454.12,206.78 454.74,206.61 455.36,206.74 455.98,206.71 456.6,206.82 457.22,207.06 457.84,206.86 458.46,206.83 459.08,207.14 459.7,206.95 460.32,206.86 460.94,206.76 461.56,206.46 462.19,206.46 462.81,206.6 463.43,206.63 464.05,206.51 464.67,206.83 465.29,206.91 465.91,206.74 466.53,207.01 467.15,206.84 467.77,206.69 468.39,206.58 469.01,206.31 469.63,206.8 470.25,207 470.87,206.24 471.49,206.07 472.12,206.14 472.74,206.26 473.36,206.74 473.98,206.93 474.6,206.54 475.22,206.16 475.84,206.39 476.46,206.58 477.08,206.38 477.7,206.61 478.32,206.68 478.94,206.06 479.56,205.59 480.18,205.85 480.8,205.87 481.42,205.9 482.05,206.31 482.67,206.56 483.29,206.2 483.91,205.82 484.53,205.52 485.15,205.33 485.77,205.64 486.39,205.94 487.01,205.63 487.63,205.29 488.25,205.5 488.87,205.73 489.49,205.44 490.11,204.77 490.73,204.93 491.35,204.97 491.98,204.66 492.6,204.37 493.22,204.28 493.84,204 494.46,203.9 495.08,204.16 495.7,204.03 496.32,204.2 496.94,204.07 497.56,203.21 498.18,202.8 498.8,202.91 499.42,202.66 500.04,202.64 500.66,202.5 501.28,201.74 501.9,201.26 502.53,201.21 503.15,200.85 503.77,200 504.39,199.92 505.01,199.78 505.63,199.63 506.25,199.78 506.87,198.94 507.49,198.1 508.11,197.75 508.73,197.42 509.35,197.04 509.97,196.25 510.59,195.3 511.21,194.98 511.83,195.16 512.46,194.26 513.08,193.17 513.7,192.68 514.32,192.14 514.94,191.1 515.56,190.44 516.18,190.17 516.8,189.91 517.42,189.44 518.04,188.4 518.66,187.49 519.28,186.43 519.9,185.79 520.52,184.59 521.14,183.8 521.76,183.49 522.39,182.24 523.01,181.53 523.63,180.5 524.25,179.01 524.87,178.27 525.49,176.9 526.11,175.76 526.73,175.2 527.35,174.46 527.97,173.98 528.59,172.81 529.21,171.3 529.83,170.13 530.45,168.66 531.07,168.15 531.69,167.64 532.32,166.31 532.94,164.31 533.56,162.71 534.18,162.17 534.8,161.18 535.42,159.49 536.04,158.05 536.66,157.1 537.28,156.51 537.9,154.97 538.52,152.86 539.14,151.9 539.76,150.39 540.38,149.5 541,148.9 541.62,147.38 542.25,145.99 542.87,145.25 543.49,144.3 544.11,143.31 544.73,141.95 545.35,140.27 545.97,139.54 546.59,138.1 547.21,137.79 547.83,137.76 548.45,135.37 549.07,134.54 549.69,135.17 550.31,133.5 550.93,131.69 551.56,132.11 552.18,131.26 552.8,130.47 553.42,130.81 554.04,129.77 554.66,128.77 555.28,128.68 555.9,128.12 556.52,127.61 557.14,126.99 557.76,126.13 558.38,125.47 559,125.39 559.62,126.17 560.24,126.41 560.86,125.73 561.49,124.22 562.11,123.63 562.73,124.7 563.35,124.68 563.97,125.01 564.59,125.08 565.21,124.84 565.83,125.14 566.45,124.86 567.07,125.63 567.69,126.06 568.31,126.78 568.93,127.33 569.55,126.69 570.17,125.11 570.79,125.77 571.41,128.2 572.04,129.55 572.66,129.66 573.28,130.56 573.9,132.06 574.52,131.78 575.14,132.66 575.76,132.83 576.38,132.52 577,134.26 577.62,135.81 578.24,136.97 578.86,138.19 579.48,138.28 580.1,138.28 580.72,139.23 581.35,140.32 581.97,141.67 582.59,142.6 583.21,143.96 583.83,145.1 584.45,144.89 585.07,145.39 585.69,147.22 586.31,148.93 586.93,149.25 587.55,149.48 588.17,151.67 588.79,153.6 589.41,154 590.03,154.46 590.65,155.95 591.27,157.24 591.9,158.01 592.52,157.71 593.14,158.22 593.76,161.27 594.38,162.94 595,163.07 595.62,163.34 596.24,166.04 596.86,167.43 597.48,168.65 598.1,170.4 598.72,171.36 599.34,172.78 599.96,173.3 600.58,174.01 601.21,174.06 601.83,173.7 602.45,175.2 603.07,177.51 603.69,177.65 604.31,179.18 604.93,182.01 605.55,180.88 606.17,179.88 606.79,180.53 607.41,181.95 608.03,184.3 608.65,185.27 609.27,184.75 609.89,185.66 610.51,187.25 611.13,188.37 611.76,189.36 612.38,188.49 613,188.04 613.62,190.03 614.24,191.67 614.86,191.85 615.48,191.34 616.1,192.3 616.72,193.32 617.34,194.49 617.96,195.71 618.58,194.51 619.2,193.57 619.82,195.06 620.44,196.6 621.07,195.76 621.69,195.92 622.31,197.19 622.93,196.99 623.55,196.89 624.17,196.87 624.79,196.83 625.41,198.25 626.03,199.15 626.65,199.13 627.27,200.22 627.89,201.08 628.51,199.88 629.13,200.53 629.75,200.77 630.37,199.82 631,200.77 631.62,200.84 632.24,200.66 632.86,200.45 633.48,201.19 634.1,202.28 634.72,202.36 635.34,201.21 635.96,200.63 636.58,202.55 637.2,203.49 637.82,203.5 638.44,203.42 639.06,202.98 639.68,201.69 640.3,203.07 640.92,203.97 641.55,202.68 642.17,203.85 642.79,204.32 643.41,204.28 644.03,204.25 644.65,203.41 645.27,204.46 645.89,204.35 646.51,203.69 647.13,203.6 647.75,203.08 648.37,203.29 648.99,203.19 649.61,203.31 650.23,203.74 650.86,205.42 651.48,204.94 652.1,203.58 652.72,202.22 653.34,204.86 653.96,207.23 654.58,204.14 655.2,205.29 655.82,206.76 656.44,203.01 657.06,201.07 657.68,204.59 658.3,204.6 658.92,202.01 659.54,202.8 660.16,203.83 660.78,204.55 661.41,206.29 662.03,207.41 662.65,205.16 663.27,204.21 663.89,202.53 664.51,203.22 665.13,209.3 665.75,209.3" fill="none" stroke="#dd4050" stroke-width="1.8" stroke-linejoin="round"/>
<polyline points="417.5,206.65 418.12,206.58 418.74,206.62 419.36,206.87 419.98,206.57 420.6,206.54 421.22,206.7 421.84,206.62 422.46,207.02 423.09,206.67 423.71,206.94 424.33,207.41 424.95,206.8 425.57,206.69 426.19,206.63 426.81,206.58 427.43,206.82 428.05,206.36 428.67,206.31 429.29,206.79 429.91,206.97 430.53,207.09 431.15,206.73 431.77,206.46 432.39,206.59 433.02,206.85 433.64,206.71 434.26,206.92 434.88,207.13 435.5,206.83 436.12,206.93 436.74,206.85 437.36,206.81 437.98,207.01 438.6,206.5 439.22,206.18 439.84,206.3 440.46,206.44 441.08,206.49 441.7,206.34 442.32,206.28 442.95,205.95 443.57,206.25 444.19,206.69 444.81,206.65 445.43,207.43 446.05,207.71 446.67,206.97 447.29,206.55 447.91,206.67 448.53,206.57 449.15,206.18 449.77,206.5 450.39,206.47 451.01,206.02 451.63,206.21 452.25,206.78 452.88,206.56 453.5,206.39 454.12,206.77 454.74,206.71 455.36,206.74 455.98,206.53 456.6,206.26 457.22,206.22 457.84,206.26 458.46,206.67 459.08,206.82 459.7,206.46 460.32,206.51 460.94,206.07 461.56,206.03 462.19,206.75 462.81,206.45 463.43,206.16 464.05,206.4 464.67,206.59 465.29,206.48 465.91,206.25 466.53,206.16 467.15,206.38 467.77,206.44 468.39,206.18 469.01,206.09 469.63,206.89 470.25,207.22 470.87,206.71 471.49,206.55 472.12,206.33 472.74,206.06 473.36,205.94 473.98,206.12 474.6,206.22 475.22,205.79 475.84,205.88 476.46,206.15 477.08,205.65 477.7,205.6 478.32,206.31 478.94,206.26 479.56,205.86 480.18,205.9 480.8,205.54 481.42,205.35 482.05,205.57 482.67,205.41 483.29,205.19 483.91,205.28 484.53,205.23 485.15,205.12 485.77,205.17 486.39,205.23 487.01,205.05 487.63,205.06 488.25,205.24 488.87,204.63 489.49,204.29 490.11,204.45 490.73,204.3 491.35,204.16 491.98,203.98 492.6,203.82 493.22,203.85 493.84,203.5 494.46,203.3 495.08,203.1 495.7,203.2 496.32,203.49 496.94,202.62 497.56,202.2 498.18,202.37 498.8,202.02 499.42,201.88 500.04,201.71 500.66,201.74 501.28,201.61 501.9,200.96 502.53,200.43 503.15,199.76 503.77,199.81 504.39,199.31 505.01,198.91 505.63,199.52 506.25,199.65 506.87,198.36 507.49,197.38 508.11,197.58 508.73,197.37 509.35,197.09 509.97,196.11 510.59,195.4 511.21,194.83 511.83,194.41 512.46,195.13 513.08,194.36 513.7,193.29 514.32,193.11 514.94,192.02 515.56,191.5 516.18,191.08 516.8,190.45 517.42,190.48 518.04,189.75 518.66,189.12 519.28,188.29 519.9,187.16 520.52,186.92 521.14,186.41 521.76,185.59 522.39,185.24 523.01,184.46 523.63,183.77 524.25,183.19 524.87,182.76 525.49,182.25 526.11,181.03 526.73,180.65 527.35,180.25 527.97,179.42 528.59,178.24 529.21,177.57 529.83,176.94 530.45,175.27 531.07,174.54 531.69,175.07 532.32,174.4 532.94,172.51 533.56,171.91 534.18,171.11 534.8,169.93 535.42,169.46 536.04,169.08 536.66,168.73 537.28,167.97 537.9,166.94 538.52,165.81 539.14,164.88 539.76,164.52 540.38,163.95 541,162.87 541.62,162.98 542.25,162.84 542.87,161.73 543.49,160.75 544.11,159.79 544.73,159.14 545.35,158.79 545.97,157.66 546.59,156.41 547.21,157.02 547.83,156.57 548.45,155.7 549.07,154.21 549.69,153.29 550.31,153.91 550.93,153.1 551.56,152.5 552.18,152.1 552.8,150.66 553.42,150.07 554.04,150.06 554.66,149.16 555.28,149.84 555.9,149.18 556.52,147.9 557.14,148.03 557.76,148.68 558.38,148.52 559,147.56 559.62,148.18 560.24,146.92 560.86,146.14 561.49,147.53 562.11,147.67 562.73,146.95 563.35,146.37 563.97,146.57 564.59,146.55 565.21,146.07 565.83,147.58 566.45,148.81 567.07,148.74 567.69,148.52 568.31,147.26 568.93,147.09 569.55,148.73 570.17,149.48 570.79,148.49 571.41,148.86 572.04,149.77 572.66,149.56 573.28,150.84 573.9,150.88 574.52,149.97 575.14,150.44 575.76,151.55 576.38,152.68 577,152.86 577.62,152.7 578.24,152.76 578.86,153.27 579.48,152.78 580.1,152.62 580.72,154.48 581.35,156.04 581.97,155.24 582.59,155.59 583.21,156.32 583.83,155.86 584.45,157.44 585.07,158.99 585.69,159.25 586.31,160.14 586.93,161.28 587.55,161.65 588.17,161.35 588.79,162 589.41,163.15 590.03,163.8 590.65,165 591.27,164.71 591.9,166.18 592.52,168.77 593.14,166.81 593.76,168.14 594.38,168.76 595,167.08 595.62,169.05 596.24,170.64 596.86,171.53 597.48,171.93 598.1,171.57 598.72,172.49 599.34,172.07 599.96,172.52 600.58,173.21 601.21,173.74 601.83,176.54 602.45,177.51 603.07,176.75 603.69,178.81 604.31,178.75 604.93,178.15 605.55,179.57 606.17,180.97 606.79,181.83 607.41,181.48 608.03,182.4 608.65,183.17 609.27,185.18 609.89,184.74 610.51,184.53 611.13,187.85 611.76,188.28 612.38,187.78 613,187.16 613.62,187.75 614.24,188.47 614.86,189.02 615.48,188.07 616.1,187.44 616.72,188.12 617.34,189.77 617.96,191.2 618.58,191.61 619.2,192.12 619.82,191.36 620.44,193.39 621.07,195.13 621.69,195.22 622.31,195.88 622.93,195.96 623.55,195.94 624.17,196.83 624.79,196.43 625.41,195.37 626.03,196.72 626.65,197.83 627.27,197.23 627.89,197.32 628.51,198.12 629.13,197.7 629.75,196.92 630.37,197.3 631,198.31 631.62,197.67 632.24,196.6 632.86,198.5 633.48,200.02 634.1,199.17 634.72,199.87 635.34,200.63 635.96,200.27 636.58,201.23 637.2,201.62 637.82,202.4 638.44,202.8 639.06,203.27 639.68,201.54 640.3,199.37 640.92,200.24 641.55,201.21 642.17,201.52 642.79,201.02 643.41,201.15 644.03,201.53 644.65,202.95 645.27,203.4 645.89,203.27 646.51,204.51 647.13,205.11 647.75,204.08 648.37,202.49 648.99,204.01 649.61,203.53 650.23,201.14 650.86,203.05 651.48,204.91 652.1,204.73 652.72,203.39 653.34,203.75 653.96,206.01 654.58,205.34 655.2,206.5 655.82,206.85 656.44,203.18 657.06,203.01 657.68,203.49 658.3,203.27 658.92,203.36 659.54,203.84 660.16,205.98 660.78,206.56 661.41,205.56 662.03,203.47 662.65,200.95 663.27,202.17 663.89,205.82 664.51,207.67 665.13,206.85 665.75,203.45" fill="none" stroke="#6e1822" stroke-width="1.95" stroke-linejoin="round"/>
</g>
<rect x="416.6" y="10" width="249.4" height="199.6" fill="none" stroke="#000" stroke-width="1.5"/>
<path d="M416.6 206.7h-4.5 M416.6 187h-2.6 M416.6 167.3h-4.5 M416.6 147.6h-2.6 M416.6 127.9h-4.5 M416.6 108.2h-2.6 M416.6 88.5h-4.5 M416.6 68.8h-2.6 M416.6 49.1h-4.5 M416.6 29.4h-2.6 M416.6 9.7h-4.5 M417.5 209.6v4.5 M442.32 209.6v2.6 M467.15 209.6v4.5 M491.98 209.6v2.6 M516.8 209.6v4.5 M541.62 209.6v2.6 M566.45 209.6v4.5 M591.27 209.6v2.6 M616.1 209.6v4.5 M640.92 209.6v2.6 M665.75 209.6v4.5" stroke="#000" stroke-width="1.3" fill="none"/>
<g font-family='"Liberation Serif", serif' font-weight="bold" font-size="14.8" fill="#000">
<text x="410.5" y="211.5" text-anchor="end">0</text>
<text x="410.5" y="173.5" text-anchor="end">1x10<tspan font-size="10" dy="-5.8">6</tspan></text>
<text x="410.5" y="134.1" text-anchor="end">2x10<tspan font-size="10" dy="-5.8">6</tspan></text>
<text x="410.5" y="94.7" text-anchor="end">3x10<tspan font-size="10" dy="-5.8">6</tspan></text>
<text x="410.5" y="55.3" text-anchor="end">4x10<tspan font-size="10" dy="-5.8">6</tspan></text>
<text x="410.5" y="15.9" text-anchor="end">5x10<tspan font-size="10" dy="-5.8">6</tspan></text>
<text x="417.5" y="227.6" text-anchor="middle">400</text>
<text x="467.15" y="227.6" text-anchor="middle">500</text>
<text x="516.8" y="227.6" text-anchor="middle">600</text>
<text x="566.45" y="227.6" text-anchor="middle">700</text>
<text x="616.1" y="227.6" text-anchor="middle">800</text>
<text x="665.75" y="227.6" text-anchor="middle">900</text>
</g>
<text x="541.7" y="248.3" text-anchor="middle" font-family='"Liberation Serif", serif' font-weight="bold" font-size="20.2" fill="#000">Wavelength (nm)</text>
<text transform="translate(366.8,117.2) rotate(-90)" text-anchor="middle" font-family='"Liberation Serif", serif' font-weight="bold" font-size="17" fill="#000">Intensity (arb. units)</text>
<g font-family='"Liberation Serif", serif' font-weight="bold" font-size="11.5" fill="#000">
<line x1="419.6" x2="443.4" y1="17.1" y2="17.1" stroke="#4d57b0" stroke-width="1.7"/>
<text x="446.5" y="21">78 K</text>
<line x1="419.6" x2="443.4" y1="30.47" y2="30.47" stroke="#b9b3e2" stroke-width="1.7"/>
<text x="446.5" y="34.37">100 K</text>
<line x1="419.6" x2="443.4" y1="43.84" y2="43.84" stroke="#8fd3f4" stroke-width="1.7"/>
<text x="446.5" y="47.74">125 K</text>
<line x1="419.6" x2="443.4" y1="57.21" y2="57.21" stroke="#1aa5e0" stroke-width="1.7"/>
<text x="446.5" y="61.11">150 K</text>
<line x1="419.6" x2="443.4" y1="70.58" y2="70.58" stroke="#a9d18e" stroke-width="1.7"/>
<text x="446.5" y="74.48">175 K</text>
<line x1="419.6" x2="443.4" y1="83.95" y2="83.95" stroke="#21a838" stroke-width="1.7"/>
<text x="446.5" y="87.85">200 K</text>
<line x1="419.6" x2="443.4" y1="97.32" y2="97.32" stroke="#f58b2c" stroke-width="1.7"/>
<text x="446.5" y="101.22">225 K</text>
<line x1="419.6" x2="443.4" y1="110.69" y2="110.69" stroke="#e6bc8e" stroke-width="1.7"/>
<text x="446.5" y="114.59">250 K</text>
<line x1="419.6" x2="443.4" y1="124.06" y2="124.06" stroke="#fbd535" stroke-width="1.7"/>
<text x="446.5" y="127.96">275 K</text>
<line x1="478.6" x2="501.7" y1="17.1" y2="17.1" stroke="#f7e59a" stroke-width="1.7"/>
<text x="504.4" y="21">300 K</text>
<line x1="478.6" x2="501.7" y1="30.47" y2="30.47" stroke="#f09cc0" stroke-width="1.7"/>
<text x="504.4" y="34.37">350 K</text>
<line x1="478.6" x2="501.7" y1="43.84" y2="43.84" stroke="#dd4050" stroke-width="1.7"/>
<text x="504.4" y="47.74">400 K</text>
<line x1="478.6" x2="501.7" y1="57.21" y2="57.21" stroke="#6e1822" stroke-width="1.7"/>
<text x="504.4" y="61.11">450 K</text>
</g>
<defs>
<clipPath id="cd0"><rect x="49" y="257" width="200.5" height="196"/></clipPath>
<clipPath id="cd1"><rect x="258.5" y="257" width="200.5" height="196"/></clipPath>
<clipPath id="cd2"><rect x="468" y="257" width="200.5" height="196"/></clipPath>
<clipPath id="cd3"><rect x="49" y="462" width="200.5" height="196"/></clipPath>
<clipPath id="cd4"><rect x="258.5" y="462" width="200.5" height="196"/></clipPath>
<clipPath id="cd5"><rect x="468" y="462" width="200.5" height="196"/></clipPath>
<filter id="bl03" x="-20%" y="-20%" width="140%" height="140%"><feGaussianBlur stdDeviation="0.45"/></filter>
<filter id="bl05" x="-20%" y="-20%" width="140%" height="140%"><feGaussianBlur stdDeviation="0.6"/></filter>
<filter id="bl1" x="-20%" y="-20%" width="140%" height="140%"><feGaussianBlur stdDeviation="1.1"/></filter>
<filter id="bl15" x="-30%" y="-30%" width="160%" height="160%"><feGaussianBlur stdDeviation="1.6"/></filter>
<filter id="bl2" x="-50%" y="-50%" width="200%" height="200%"><feGaussianBlur stdDeviation="2.2"/></filter>
<linearGradient id="gL" gradientUnits="userSpaceOnUse" x1="0" y1="0" x2="0" y2="196"><stop offset="0" stop-color="#b7b7b7"/><stop offset="0.55" stop-color="#bcbcbc"/><stop offset="1" stop-color="#c6c6c6"/></linearGradient>
<linearGradient id="gM" gradientUnits="userSpaceOnUse" x1="0" y1="0" x2="0" y2="196"><stop offset="0" stop-color="#b2b2b2"/><stop offset="0.6" stop-color="#b5b5b5"/><stop offset="1" stop-color="#bcbcbc"/></linearGradient>
<linearGradient id="gR" gradientUnits="userSpaceOnUse" x1="0" y1="0" x2="30" y2="196"><stop offset="0" stop-color="#c9c9c9"/><stop offset="0.5" stop-color="#c1c1c1"/><stop offset="1" stop-color="#b4b4b4"/></linearGradient>
</defs>
<g clip-path="url(#cd0)">
<rect x="49" y="257" width="200.5" height="196" fill="#b5b5b5"/>
<g transform="translate(49 257)">
<rect x="-1" y="-1" width="203" height="199" fill="url(#gM)"/>
<path d="M-2 -2 L97.4 -2 L95 18 L93 36.5 L91.6 58 L92.3 98 L87.6 115.5 L78.8 128.7 L70 136 L64.2 141 L61 149 L64 153 L68.6 161 L68.5 168 L67 174 L63 178 L58.4 181.2 L55 186 L51 190 L44 192 L36.5 191.4 L30 187.5 L24.8 182.7 L21.9 179 L18 180.6 L14.6 179.8 L7 175 L-2 168.5 Z" fill="url(#gL)"/>
<path d="M-2 168.5 L7 175 L14.6 179.8 L18 180.6 L21.9 179 L24.8 182.7 L30 187.5 L36.5 191.4 L44 192 L51 190 L55 186 L58.4 181.2 L63 178 L67 174 L70 198 L-2 198 Z" fill="#b2b2b2"/>
<path d="M166.4 -2 L158.4 17.5 L148.2 42.3 L139.4 65.7 L131.4 87.6 L129.4 93 L131.8 95.6 L138 97 L146 98.5 L148 102 L146.5 108 L147.5 114 L143 120 L146 126 L140 130 L136 136 L128 141 L118 144.5 L110 144 L107.6 147 L106.6 156.4 L108.8 171 L111.7 185.6 L114 198 L202 198 L202 -2 Z" fill="url(#gR)"/>
<g fill="none" stroke-linecap="round" stroke-linejoin="round" filter="url(#bl2)">
<path d="M166.4 -2 L158.4 17.5 L148.2 42.3 L139.4 65.7 L131.4 87.6 L129.4 93 L131.8 95.6 L138 97 L146 98.5 L148 102 L146.5 108 L147.5 114 L143 120 L146 126 L140 130 L136 136 L128 141 L118 144.5 L110 144 L107.6 147 L106.6 156.4 L108.8 171 L111.7 185.6 L114 198 L202 198 L202 -2 Z" stroke="#d2d2d2" stroke-width="3" transform="translate(1.5 0)"/>
<path d="M64.2 141 L61 149 L64 153 L68.6 161 L68.5 168 L67 174 L63 178 L58.4 181.2 L55 186 L51 190 L44 192 L36.5 191.4 L30 187.5 L24.8 182.7 L21.9 179 L18 180.6 L14.6 179.8 L7 175 L-2 168.5" stroke="#cdcdcd" stroke-width="4" transform="translate(-1.5 -2.5)"/>
</g>
<g fill="none" stroke-linecap="round" stroke-linejoin="round" filter="url(#bl05)">
<path d="M97.4 -2 L95 18 L93 36.5 L91.6 58 L92.3 98 L87.6 115.5 L78.8 128.7 L70 136 L64.2 141" stroke="#d6d6d6" stroke-width="1.3"/>
<path d="M166.4 -2 L158.4 17.5 L148.2 42.3 L139.4 65.7 L131.4 87.6 L129.4 93 L131.8 95.6 L138 97 L146 98.5" stroke="#e9e9e9" stroke-width="1.5"/>
<path d="M118 144.5 L110 144 L107.6 147 L106.6 156.4 L108.8 171 L111.7 185.6 L114 198" stroke="#dcdcdc" stroke-width="1.4"/>
<path d="M64.2 141 L61 149 L64 153 L68.6 161 L68.5 168 L67 174 L63 178 L58.4 181.2 L55 186 L51 190 L44 192 L36.5 191.4 L30 187.5 L24.8 182.7 L21.9 179 L18 180.6 L14.6 179.8 L7 175 L-2 168.5" stroke="#f6f6f6" stroke-width="2.1"/>
<path d="M64.2 141 L61 149 L64 153 L68.6 161 L68.5 168 L67 174 L63 178 L58.4 181.2 L55 186 L51 190 L44 192 L36.5 191.4 L30 187.5 L24.8 182.7 L21.9 179 L18 180.6 L14.6 179.8 L7 175 L-2 168.5" stroke="#9c9c9c" stroke-width="1" transform="translate(1.6 1.8)" opacity="0.55"/>
</g>
<g fill="none" stroke-linecap="round" filter="url(#bl03)">
<path d="M111.4 109.6 L126.8 121.8 L138 124.5 L147.2 126.9" stroke="#2a2a2a" stroke-width="1.7"/>
<path d="M112 110.1 L126.8 121.6 L138 124.3 L145 126.2" stroke="#dcdcdc" stroke-width="0.7"/>
<path d="M144 122 L148.5 119.5 M143.5 128.5 L149.5 130" stroke="#1c1c1c" stroke-width="1.5"/>
</g>
<line x1="60" y1="147" x2="140" y2="100" stroke="#dedede" stroke-width="5" stroke-linecap="round" filter="url(#bl2)" opacity="0.8"/>
<g stroke-linecap="round" filter="url(#bl03)">
<line x1="63.5" y1="149.3" x2="145.5" y2="100.6" stroke="#2a2a2a" stroke-width="4.2"/>
<line x1="67" y1="147.3" x2="144" y2="101.6" stroke="#fbfbfb" stroke-width="1.9"/>
<path d="M61.8 150.2 L63.6 144.8 L66.6 147.2 Z" fill="#0e0e0e" stroke="#0e0e0e" stroke-width="1.3" stroke-linejoin="round"/>
</g>
<ellipse cx="147" cy="119" rx="4" ry="7" fill="#ececec" opacity="0.8" filter="url(#bl1)"/>
<path d="M146 100 L141 111 L133 122 L125 132 L116 141 L124 144 L131 140 L137 128 L145 114 Z" fill="#a8a8a8" opacity="0.55"/>
<g fill="none" stroke="#1e1e1e" stroke-width="1.5" stroke-linecap="round" stroke-linejoin="round" filter="url(#bl03)">
<path d="M146.2 99.5 L146.8 103.5 L146 107 L146.6 110 L144.5 112.5 L142 112.8" stroke-width="2.4" stroke="#161616"/>
<path d="M145 101 L139 110.6 L131.9 121.8 L125.7 131 L121.7 138.2 L117 141"/>
<path d="M146 104 L141 113 L135 123 L129.8 131 L127 137 L124.5 141.5" stroke-width="1.3"/>
<path d="M129.8 128.5 L130.6 133 L129.5 137.5 L128 140.5" stroke-width="2.3" stroke="#141414"/>
<path d="M114 141.6 L118 139.6 L122 140.6 L125 142.6 L129 141.2 L131 139" stroke-width="2.8" stroke="#111"/>
<path d="M121 134 L123 138 L120 140" stroke-width="1.2"/>
<path d="M140 117 L144 121 L143 124" stroke-width="1.2"/>
</g>
<g filter="url(#bl03)">
<ellipse cx="22.5" cy="33" rx="9.5" ry="8.5" fill="#d0d0d0" opacity="0.55" filter="url(#bl2)"/>
<ellipse cx="63" cy="71" rx="10" ry="12" fill="#d0d0d0" opacity="0.55" filter="url(#bl2)"/>
<path d="M16.5 26 L23 27 L26.5 29.5 L31.5 35 L30 36 L25 32 L22 34 L20.5 40.5 L18 40 L18.5 34 L14 37 L17 31 Z" fill="#1e1e1e" stroke="#dadada" stroke-width="0.8"/>
<path d="M22 28 L24 31 L20 33 Z" fill="#8a8a8a"/>
<path d="M53.5 68 L58 66 L65.5 63 L66.5 58.5 L68 62 L70.5 70 L69.5 81 L67.5 82.5 L65 77 L62 71.5 L57 71 L55 73 Z" fill="#242424" stroke="#dadada" stroke-width="0.8"/>
<path d="M59 68.5 L65.5 66 L65 73 Z" fill="#8e8e8e"/>
<line x1="31.5" y1="106.5" x2="38" y2="113" stroke="#dadada" stroke-width="3.5" stroke-linecap="round"/>
<line x1="176" y1="115" x2="191" y2="121" stroke="#dadada" stroke-width="3.6" stroke-linecap="round"/>
<line x1="175" y1="145.2" x2="187" y2="145.8" stroke="#dadada" stroke-width="3.5" stroke-linecap="round"/>
<line x1="166" y1="80.8" x2="172" y2="79.6" stroke="#dadada" stroke-width="3.7" stroke-linecap="round"/>
<line x1="142" y1="-1" x2="137" y2="8.5" stroke="#dadada" stroke-width="3.3" stroke-linecap="round"/>
<line x1="-1" y1="196.5" x2="11" y2="194.5" stroke="#dadada" stroke-width="3.8000000000000003" stroke-linecap="round"/>
<line x1="22.5" y1="186.5" x2="21" y2="191" stroke="#dadada" stroke-width="3.2" stroke-linecap="round"/>
<line x1="31.5" y1="106.5" x2="38" y2="113" stroke="#1c1c1c" stroke-width="1.9" stroke-linecap="round"/>
<line x1="176" y1="115" x2="191" y2="121" stroke="#1c1c1c" stroke-width="2.0" stroke-linecap="round"/>
<line x1="175" y1="145.2" x2="187" y2="145.8" stroke="#1c1c1c" stroke-width="1.9" stroke-linecap="round"/>
<line x1="166" y1="80.8" x2="172" y2="79.6" stroke="#1c1c1c" stroke-width="2.1" stroke-linecap="round"/>
<line x1="142" y1="-1" x2="137" y2="8.5" stroke="#1c1c1c" stroke-width="1.7" stroke-linecap="round"/>
<line x1="104" y1="45.5" x2="101" y2="52.5" stroke="#1c1c1c" stroke-width="1.3" stroke-linecap="round"/>
<line x1="113.5" y1="90" x2="112" y2="96.5" stroke="#1c1c1c" stroke-width="1.2" stroke-linecap="round"/>
<line x1="10" y1="184" x2="26" y2="199" stroke="#1c1c1c" stroke-width="1.3" stroke-linecap="round"/>
<line x1="2" y1="186" x2="14" y2="189" stroke="#1c1c1c" stroke-width="1.2" stroke-linecap="round"/>
<line x1="-1" y1="196.5" x2="11" y2="194.5" stroke="#1c1c1c" stroke-width="2.2" stroke-linecap="round"/>
<line x1="22.5" y1="186.5" x2="21" y2="191" stroke="#1c1c1c" stroke-width="1.6" stroke-linecap="round"/>
<circle cx="10" cy="52.5" r="1.4" fill="#262626"/>
<circle cx="8" cy="80" r="1.2" fill="#262626"/>
<circle cx="51" cy="39.7" r="1.1" fill="#262626"/>
<circle cx="66.4" cy="49.3" r="1.2" fill="#262626"/>
<circle cx="92.7" cy="47.9" r="1.0" fill="#262626"/>
<circle cx="12.4" cy="92.7" r="0.9" fill="#262626"/>
<circle cx="175" cy="43" r="1.2" fill="#262626"/>
<circle cx="188.3" cy="48" r="1.2" fill="#262626"/>
<circle cx="198" cy="84" r="0.8" fill="#262626"/>
<circle cx="77" cy="121" r="1.0" fill="#262626"/>
<circle cx="120" cy="97" r="0.8" fill="#262626"/>
<circle cx="159" cy="108" r="0.7" fill="#262626"/>
<circle cx="165" cy="113" r="0.7" fill="#262626"/>
<circle cx="167" cy="138" r="0.7" fill="#262626"/>
<circle cx="151" cy="178" r="0.9" fill="#262626"/>
<circle cx="35" cy="141" r="0.6" fill="#262626"/>
<circle cx="17" cy="125" r="0.6" fill="#262626"/>
<circle cx="42" cy="165" r="0.7" fill="#262626"/>
<circle cx="26" cy="70" r="0.6" fill="#262626"/>
<circle cx="80" cy="20" r="0.5" fill="#262626"/>
<circle cx="7" cy="61" r="0.6" fill="#262626"/>
<circle cx="49" cy="76" r="0.7" fill="#262626"/>
<circle cx="71" cy="86" r="0.6" fill="#262626"/>
<circle cx="21" cy="84.5" r="0.6" fill="#262626"/>
<circle cx="101" cy="76" r="0.7" fill="#262626"/>
<circle cx="158" cy="30" r="0.6" fill="#262626"/>
<circle cx="173" cy="28" r="0.5" fill="#262626"/>
<circle cx="152" cy="5" r="0.7" fill="#262626"/>
<circle cx="158" cy="10" r="0.7" fill="#262626"/>
<circle cx="165" cy="93" r="0.6" fill="#262626"/>
<circle cx="172" cy="110" r="0.6" fill="#262626"/>
<circle cx="174" cy="121" r="0.6" fill="#262626"/>
<circle cx="77" cy="93" r="0.6" fill="#262626"/>
<circle cx="34" cy="125" r="0.6" fill="#262626"/>
<circle cx="58" cy="122" r="0.6" fill="#262626"/>
</g>
</g>
</g>
<text x="149.2" y="280.6" text-anchor="middle" font-family='"Liberation Serif", serif' font-weight="bold" font-size="18.9" fill="#fff">Bright Field</text>
<rect x="183.5" y="438.3" width="56.2" height="6.2" fill="#fff"/><text x="212.8" y="433.2" text-anchor="middle" font-family='"Liberation Serif", serif' font-weight="bold" font-size="19.3" fill="#fff">40 μm</text>
<g clip-path="url(#cd1)">
<rect x="258.5" y="257" width="200.5" height="196" fill="#020000"/>
<g transform="translate(258.5 257)">
<g filter="url(#bl2)">
<ellipse cx="22" cy="186" rx="11" ry="5" transform="rotate(-30 22 186)" fill="#a00000" opacity="0.6"/>
<ellipse cx="10" cy="194.5" rx="8" ry="3.4" transform="rotate(-8 10 194.5)" fill="#f00000" opacity="0.95"/>
<ellipse cx="140" cy="5" rx="4" ry="6" transform="rotate(20 140 5)" fill="#b00000" opacity="0.7"/>
<ellipse cx="103" cy="51" rx="3" ry="6" transform="rotate(25 103 51)" fill="#900000" opacity="0.7"/>
<ellipse cx="115" cy="96" rx="4" ry="5" transform="rotate(0 115 96)" fill="#700000" opacity="0.7"/>
<ellipse cx="128" cy="112" rx="6" ry="4" transform="rotate(0 128 112)" fill="#a00000" opacity="0.7"/>
<ellipse cx="80" cy="122" rx="4" ry="3" transform="rotate(0 80 122)" fill="#600000" opacity="0.7"/>
</g>
<g filter="url(#bl1)">
</g><g filter="url(#bl15)">
<path d="M15 30 L19 25 L26 25.5 L30 30 L35 33 L35 38 L30 36.5 L27 38 L24 43 L19 42 L17 37 L14 36 Z" fill="#d20c0c"/>
<path d="M54 68 L60 65 L65 61 L71 60.5 L75 66 L75 78 L72 84 L68 84.5 L66 78 L65 73 L60 71.5 L55 72 Z" fill="#f40808"/>
</g><g filter="url(#bl1)">
<ellipse cx="37" cy="109" rx="6.5" ry="3.2" transform="rotate(38 37 109)" fill="#ff0606" opacity="1"/>
<line x1="169" y1="82.4" x2="175.3" y2="81.8" stroke="#ff0606" stroke-width="6.2" stroke-linecap="round" opacity="1"/>
<line x1="178.5" y1="118" x2="194" y2="125.6" stroke="#ff0606" stroke-width="6.6" stroke-linecap="round" opacity="1"/>
<line x1="176" y1="147" x2="188.5" y2="147.3" stroke="#ff0606" stroke-width="6.6" stroke-linecap="round" opacity="1"/>
<line x1="65" y1="148.6" x2="147.5" y2="101.8" stroke="#ff0606" stroke-width="8.4" stroke-linecap="round" opacity="1"/>
<line x1="64.5" y1="148.9" x2="110" y2="122.8" stroke="#ff0606" stroke-width="9.6" stroke-linecap="round" opacity="1"/>
<path d="M60.5 150.5 L63 145 L68 152 L63.5 154 Z" fill="#ff0606"/>
<line x1="141" y1="104.6" x2="149.5" y2="100.2" stroke="#ff0606" stroke-width="9.5" stroke-linecap="round" opacity="1"/>
<path d="M123.3 123.3 L114.6 141.7 L118.1 144.3 L133.8 142.6 L135.6 135.6 L133.8 130.3 L139.1 126.8 L149.6 130.3 L152.2 126.8 L147 122.4 L139.1 118.9 L144.4 116.3 L149.6 109.3 L149.6 102.3 L138 108 Z" fill="#ff0606"/>
<path d="M131 120.5 L141 113.5 L139.5 117.5 L133 122 Z" fill="#300000"/>
</g>
</g>
</g>
<text transform="translate(314.06 279.7) skewX(-9)" font-family='"Liberation Serif", serif' font-style="italic" font-weight="normal" font-size="18.6" fill="#fff" stroke="#fff" stroke-width="0.35">λ</text><text x="322.42" y="279.7" font-family='"Liberation Serif", serif' font-weight="bold" font-size="18.9" fill="#fff"><tspan font-size="13" dy="4.5">ex</tspan><tspan dy="-4.5"> = 800 nm</tspan></text>
<rect x="393" y="438.3" width="56.2" height="6.2" fill="#fff"/><text x="422.3" y="433.2" text-anchor="middle" font-family='"Liberation Serif", serif' font-weight="bold" font-size="19.3" fill="#fff">40 μm</text>
<g clip-path="url(#cd2)">
<rect x="468" y="257" width="200.5" height="196" fill="#020000"/>
<g transform="translate(468 257)">
<g filter="url(#bl2)">
<ellipse cx="24" cy="34" rx="9" ry="5" transform="rotate(-15 24 34)" fill="#d00000" opacity="0.42"/>
<ellipse cx="68" cy="67" rx="5" ry="6" transform="rotate(0 68 67)" fill="#d00000" opacity="0.42"/>
<ellipse cx="172" cy="82" rx="5" ry="4" transform="rotate(0 172 82)" fill="#d00000" opacity="0.42"/>
<ellipse cx="187" cy="122" rx="9" ry="4" transform="rotate(25 187 122)" fill="#d00000" opacity="0.42"/>
<ellipse cx="182" cy="146.5" rx="8" ry="3.5" transform="rotate(0 182 146.5)" fill="#d00000" opacity="0.42"/>
<ellipse cx="125" cy="138" rx="10" ry="5" transform="rotate(-30 125 138)" fill="#d00000" opacity="0.42"/>
<ellipse cx="141" cy="124" rx="9" ry="4" transform="rotate(15 141 124)" fill="#d00000" opacity="0.42"/>
<ellipse cx="137" cy="112" rx="6" ry="4" transform="rotate(0 137 112)" fill="#d00000" opacity="0.42"/>
</g>
<g filter="url(#bl1)">
<line x1="66" y1="149.5" x2="148" y2="101" stroke="#ff0606" stroke-width="8.6" stroke-linecap="round" opacity="1"/>
<line x1="64.5" y1="150.5" x2="70" y2="147.5" stroke="#ff0606" stroke-width="10" stroke-linecap="round" opacity="1"/>
</g>
</g>
</g>
<text transform="translate(523.56 279.7) skewX(-9)" font-family='"Liberation Serif", serif' font-style="italic" font-weight="normal" font-size="18.6" fill="#fff" stroke="#fff" stroke-width="0.35">λ</text><text x="531.92" y="279.7" font-family='"Liberation Serif", serif' font-weight="bold" font-size="18.9" fill="#fff"><tspan font-size="13" dy="4.5">ex</tspan><tspan dy="-4.5"> = 850 nm</tspan></text>
<rect x="602.5" y="438.3" width="56.2" height="6.2" fill="#fff"/><text x="631.8" y="433.2" text-anchor="middle" font-family='"Liberation Serif", serif' font-weight="bold" font-size="19.3" fill="#fff">40 μm</text>
<g clip-path="url(#cd3)">
<rect x="49" y="462" width="200.5" height="196" fill="#020000"/>
<g transform="translate(49 462)">
<g filter="url(#bl2)">
<ellipse cx="24" cy="34" rx="9" ry="5" transform="rotate(-15 24 34)" fill="#d00000" opacity="0.26"/>
<ellipse cx="68" cy="67" rx="5" ry="6" transform="rotate(0 68 67)" fill="#d00000" opacity="0.26"/>
<ellipse cx="172" cy="82" rx="5" ry="4" transform="rotate(0 172 82)" fill="#d00000" opacity="0.26"/>
<ellipse cx="187" cy="122" rx="9" ry="4" transform="rotate(25 187 122)" fill="#d00000" opacity="0.26"/>
<ellipse cx="182" cy="146.5" rx="8" ry="3.5" transform="rotate(0 182 146.5)" fill="#d00000" opacity="0.26"/>
<ellipse cx="125" cy="138" rx="10" ry="5" transform="rotate(-30 125 138)" fill="#d00000" opacity="0.26"/>
<ellipse cx="141" cy="124" rx="9" ry="4" transform="rotate(15 141 124)" fill="#d00000" opacity="0.26"/>
<ellipse cx="137" cy="112" rx="6" ry="4" transform="rotate(0 137 112)" fill="#d00000" opacity="0.26"/>
<ellipse cx="170" cy="187" rx="6" ry="3" transform="rotate(20 170 187)" fill="#d00000" opacity="0.5"/>
<ellipse cx="34" cy="22" rx="6" ry="5" transform="rotate(0 34 22)" fill="#900000" opacity="0.25"/>
</g>
<g filter="url(#bl1)">
<line x1="66" y1="150" x2="148" y2="101" stroke="#ec0606" stroke-width="6.2" stroke-linecap="round" opacity="1"/>
<line x1="64.5" y1="150.5" x2="72" y2="146.5" stroke="#f00808" stroke-width="8.5" stroke-linecap="round" opacity="1"/>
<line x1="143" y1="104" x2="148.5" y2="100.5" stroke="#e80606" stroke-width="7.5" stroke-linecap="round" opacity="1"/>
</g>
</g>
</g>
<text transform="translate(97.96 484.7) skewX(-9)" font-family='"Liberation Serif", serif' font-style="italic" font-weight="normal" font-size="18.6" fill="#fff" stroke="#fff" stroke-width="0.35">λ</text><text x="106.32" y="484.7" font-family='"Liberation Serif", serif' font-weight="bold" font-size="18.9" fill="#fff"><tspan font-size="13" dy="4.5">ex</tspan><tspan dy="-4.5"> = 900 nm</tspan></text>
<rect x="183.5" y="643.3" width="56.2" height="6.2" fill="#fff"/><text x="212.8" y="638.2" text-anchor="middle" font-family='"Liberation Serif", serif' font-weight="bold" font-size="19.3" fill="#fff">40 μm</text>
<g clip-path="url(#cd4)">
<rect x="258.5" y="462" width="200.5" height="196" fill="#020000"/>
<g transform="translate(258.5 462)">
<g filter="url(#bl2)">
<ellipse cx="70" cy="144.5" rx="8" ry="3" transform="rotate(-32 70 144.5)" fill="#b00000" opacity="0.5"/>
</g><g filter="url(#bl1)">
<ellipse cx="66.5" cy="147.2" rx="3.6" ry="2.6" transform="rotate(-32 66.5 147.2)" fill="#f01010" opacity="0.9"/>
<ellipse cx="70" cy="145" rx="3.5" ry="2" transform="rotate(-32 70 145)" fill="#d00808" opacity="0.6"/>
</g><g filter="url(#bl2)">
<ellipse cx="4" cy="136" rx="4" ry="6" transform="rotate(0 4 136)" fill="#800000" opacity="0.35"/>
<ellipse cx="172" cy="187" rx="5" ry="3" transform="rotate(0 172 187)" fill="#900000" opacity="0.4"/>
<ellipse cx="136" cy="136" rx="2" ry="2" transform="rotate(0 136 136)" fill="#900000" opacity="0.5"/>
<ellipse cx="145" cy="95" rx="2" ry="2" transform="rotate(0 145 95)" fill="#800000" opacity="0.4"/>
</g>
</g>
</g>
<text transform="translate(313.66 484.7) skewX(-9)" font-family='"Liberation Serif", serif' font-style="italic" font-weight="normal" font-size="18.6" fill="#fff" stroke="#fff" stroke-width="0.35">λ</text><text x="322.02" y="484.7" font-family='"Liberation Serif", serif' font-weight="bold" font-size="18.9" fill="#fff"><tspan font-size="13" dy="4.5">ex</tspan><tspan dy="-4.5"> = 950 nm</tspan></text>
<rect x="393" y="643.3" width="56.2" height="6.2" fill="#fff"/><text x="422.3" y="638.2" text-anchor="middle" font-family='"Liberation Serif", serif' font-weight="bold" font-size="19.3" fill="#fff">40 μm</text>
<g clip-path="url(#cd5)">
<rect x="468" y="462" width="200.5" height="196" fill="#020000"/>
<g transform="translate(468 462)">
<g filter="url(#bl2)">
<ellipse cx="66" cy="148" rx="5" ry="2.6" transform="rotate(-30 66 148)" fill="#b00000" opacity="0.42"/>
<ellipse cx="60" cy="140" rx="2.5" ry="1.8" transform="rotate(0 60 140)" fill="#900000" opacity="0.35"/>
<ellipse cx="100" cy="122" rx="12" ry="2.4" transform="rotate(-30 100 122)" fill="#700000" opacity="0.3"/>
<ellipse cx="130" cy="100" rx="8" ry="2.4" transform="rotate(-30 130 100)" fill="#700000" opacity="0.25"/>
<ellipse cx="20" cy="33" rx="4" ry="3" transform="rotate(0 20 33)" fill="#800000" opacity="0.35"/>
<ellipse cx="170" cy="82" rx="2" ry="2" transform="rotate(0 170 82)" fill="#900000" opacity="0.4"/>
<ellipse cx="190" cy="120" rx="3" ry="2" transform="rotate(0 190 120)" fill="#800000" opacity="0.35"/>
<ellipse cx="126" cy="138" rx="2" ry="2" transform="rotate(0 126 138)" fill="#900000" opacity="0.45"/>
</g>
</g>
</g>
<text transform="translate(520.14 484.7) skewX(-9)" font-family='"Liberation Serif", serif' font-style="italic" font-weight="normal" font-size="18.6" fill="#fff" stroke="#fff" stroke-width="0.35">λ</text><text x="528.49" y="484.7" font-family='"Liberation Serif", serif' font-weight="bold" font-size="18.9" fill="#fff"><tspan font-size="13" dy="4.5">ex</tspan><tspan dy="-4.5"> = 1000 nm</tspan></text>
<rect x="602.5" y="643.3" width="56.2" height="6.2" fill="#fff"/><text x="631.8" y="638.2" text-anchor="middle" font-family='"Liberation Serif", serif' font-weight="bold" font-size="19.3" fill="#fff">40 μm</text>
<rect x="87.7" y="676" width="233.4" height="187.6" fill="none" stroke="#000" stroke-width="1.5"/>
<path d="M87.7 863.6h-4.5 M87.7 850.2h-2.6 M87.7 836.8h-4.5 M87.7 823.4h-2.6 M87.7 810h-4.5 M87.7 796.6h-2.6 M87.7 783.2h-4.5 M87.7 769.8h-2.6 M87.7 756.4h-4.5 M87.7 743h-2.6 M87.7 729.6h-4.5 M87.7 716.2h-2.6 M87.7 702.8h-4.5 M87.7 689.4h-2.6 M87.7 676h-4.5 M87.7 863.6v4.5 M107.15 863.6v2.6 M126.6 863.6v4.5 M146.05 863.6v2.6 M165.5 863.6v4.5 M184.95 863.6v2.6 M204.4 863.6v4.5 M223.85 863.6v2.6 M243.3 863.6v4.5 M262.75 863.6v2.6 M282.2 863.6v4.5 M301.65 863.6v2.6 M321.1 863.6v4.5" stroke="#000" stroke-width="1.3" fill="none"/>
<g font-family='"Liberation Serif", serif' font-weight="bold" font-size="14.6" fill="#000">
<text x="80.6" y="868.4" text-anchor="end">0.0</text>
<text x="80.6" y="841.6" text-anchor="end">0.5</text>
<text x="80.6" y="814.8" text-anchor="end">1.0</text>
<text x="80.6" y="788" text-anchor="end">1.5</text>
<text x="80.6" y="761.2" text-anchor="end">2.0</text>
<text x="80.6" y="734.4" text-anchor="end">2.5</text>
<text x="80.6" y="707.6" text-anchor="end">3.0</text>
<text x="80.6" y="680.8" text-anchor="end">3.5</text>
<text x="87.7" y="882.3" text-anchor="middle">0.60</text>
<text x="126.6" y="882.3" text-anchor="middle">0.75</text>
<text x="165.5" y="882.3" text-anchor="middle">0.90</text>
<text x="204.4" y="882.3" text-anchor="middle">1.05</text>
<text x="243.3" y="882.3" text-anchor="middle">1.20</text>
<text x="282.2" y="882.3" text-anchor="middle">1.35</text>
<text x="321.1" y="882.3" text-anchor="middle">1.50</text>
</g>
<text x="204.5" y="903.2" text-anchor="middle" font-family='"Liberation Serif", serif' font-weight="bold" font-size="17.25" fill="#000">Log<tspan font-size="12" dy="4">10</tspan><tspan dy="-4">(input power) (mW)</tspan></text>
<text transform="translate(49.3,770.5) rotate(-90)" text-anchor="middle" font-family='"Liberation Serif", serif' font-weight="bold" font-size="15.85" fill="#000">Log<tspan font-size="10.5" dy="3.5">10</tspan><tspan dy="-3.5">(intensity (arb. units))</tspan></text>
<line x1="109" y1="832.8" x2="290.9" y2="711.2" stroke="#8a4b1c" stroke-width="1.6"/>
<path d="M109 815.36 L114.2 824.56 L103.8 824.56 Z" fill="#fbb9be"/>
<path d="M155 795.66 L160.2 804.86 L149.8 804.86 Z" fill="#fbb9be"/>
<path d="M187 778.66 L192.2 787.86 L181.8 787.86 Z" fill="#fbb9be"/>
<path d="M212 768.96 L217.2 778.16 L206.8 778.16 Z" fill="#fbb9be"/>
<path d="M233 747.96 L238.2 757.16 L227.8 757.16 Z" fill="#fbb9be"/>
<path d="M249.6 738.66 L254.8 747.86 L244.4 747.86 Z" fill="#fbb9be"/>
<path d="M265 729.06 L270.2 738.26 L259.8 738.26 Z" fill="#fbb9be"/>
<path d="M278.3 701.96 L283.5 711.16 L273.1 711.16 Z" fill="#fbb9be"/>
<path d="M290.3 690.96 L295.5 700.16 L285.1 700.16 Z" fill="#fbb9be"/>
<path d="M115 685.06 L120.2 694.26 L109.8 694.26 Z" fill="#fbb9be"/>
<line x1="98.5" y1="709.9" x2="131.4" y2="709.9" stroke="#8a4b1c" stroke-width="1.6"/>
<g font-family='"Liberation Serif", serif' font-weight="bold" font-size="15.9" fill="#000">
<text x="135.8" y="695.8">Experiment data</text>
<text x="135.8" y="715.6">Fitting</text>
<text x="235.7" y="835.2"><tspan font-style="italic">R</tspan><tspan font-style="italic" font-size="10" dy="-6">2</tspan><tspan dy="6"> = 0.9417</tspan></text>
<text x="235.7" y="854.4">Slope = 3.2</text>
</g>
<defs><clipPath id="clipf"><rect x="410.6" y="676.2" width="258.6" height="188.8"/></clipPath></defs>
<g clip-path="url(#clipf)">
<polyline points="410.6,853.93 411.29,853.08 411.97,853.16 412.66,854.28 413.35,854.14 414.03,854.29 414.72,853.58 415.41,853.98 416.1,853.46 416.78,855.13 417.47,852.93 418.16,854 418.84,853.5 419.53,854.02 420.22,854.18 420.9,853.63 421.59,853.4 422.28,854.05 422.97,854.02 423.65,853.48 424.34,854.47 425.03,854.88 425.71,853.65 426.4,854.33 427.09,855.13 427.77,854.42 428.46,854.19 429.15,854.65 429.83,854.84 430.52,853.85 431.21,853.29 431.9,854.01 432.58,854.33 433.27,853.6 433.96,853.38 434.64,854.03 435.33,853.48 436.02,853.15 436.7,853.95 437.39,854.33 438.08,853.58 438.77,853.63 439.45,853.08 440.14,854.6 440.83,854.19 441.51,854.3 442.2,854.87 442.89,853.66 443.57,853.39 444.26,854.2 444.95,852.82 445.63,853.18 446.32,853.29 447.01,853.43 447.7,853.06 448.38,854.52 449.07,853.26 449.76,853.26 450.44,854.77 451.13,853.4 451.82,853.77 452.5,853.1 453.19,853.87 453.88,853.59 454.57,853.34 455.25,854.12 455.94,853.16 456.63,853.6 457.31,853.2 458,853.84 458.69,852.79 459.37,853.09 460.06,853.58 460.75,853.04 461.44,852.63 462.12,852.27 462.81,854.42 463.5,852.82 464.18,853.08 464.87,853.42 465.56,854 466.24,852.52 466.93,854.13 467.62,852.94 468.3,852.45 468.99,854.3 469.68,853.45 470.37,854.08 471.05,853.06 471.74,852.23 472.43,851.89 473.11,854.32 473.8,853.52 474.49,852.68 475.17,852.1 475.86,852.83 476.55,853.56 477.24,852.87 477.92,853.06 478.61,853.16 479.3,853.48 479.98,852.74 480.67,852.77 481.36,853.01 482.04,853.07 482.73,853.74 483.42,853.2 484.1,852.1 484.79,852.97 485.48,853.76 486.17,851.95 486.85,852.45 487.54,851.41 488.23,852.71 488.91,853.02 489.6,853.63 490.29,851.83 490.97,851 491.66,853.16 492.35,853.03 493.04,852.21 493.72,853.1 494.41,852.72 495.1,852.74 495.78,852.37 496.47,851.77 497.16,852.43 497.84,851.83 498.53,852.67 499.22,852.16 499.9,853.72 500.59,853.25 501.28,851.78 501.97,852.64 502.65,851.86 503.34,851.86 504.03,851.33 504.71,851.63 505.4,851.47 506.09,852.17 506.77,852.51 507.46,852.51 508.15,852.32 508.84,852.7 509.52,852.29 510.21,851.97 510.9,851.71 511.58,852.06 512.27,853.05 512.96,851.82 513.64,851.59 514.33,851 515.02,851.29 515.7,852.04 516.39,852.05 517.08,850.25 517.77,851.02 518.45,850.28 519.14,850.04 519.83,851.9 520.51,851.08 521.2,850.98 521.89,850.87 522.57,850.83 523.26,850.99 523.95,850.96 524.64,851.98 525.32,851.06 526.01,851.38 526.7,850.75 527.38,851.07 528.07,850.3 528.76,850.1 529.44,850.36 530.13,850.28 530.82,850.35 531.5,850.61 532.19,850.35 532.88,850.47 533.57,849.81 534.25,849.95 534.94,849.49 535.63,850.62 536.31,849.07 537,850.03 537.69,849.9 538.37,849.42 539.06,849.53 539.75,848.86 540.44,849.32 541.12,849.53 541.81,849.27 542.5,847.73 543.18,848.43 543.87,849.08 544.56,848.17 545.24,849.04 545.93,846.67 546.62,848.69 547.31,847.19 547.99,846.96 548.68,848.08 549.37,846.71 550.05,846.03 550.74,846.15 551.43,846.05 552.11,845.33 552.8,845.6 553.49,845.21 554.17,845.23 554.86,844.41 555.55,845.17 556.24,843.66 556.92,844.2 557.61,844.26 558.3,842.92 558.98,841.66 559.67,841.81 560.36,842.48 561.04,841.28 561.73,841.72 562.42,841.13 563.11,840.6 563.79,841.93 564.48,839.76 565.17,840.24 565.85,839.6 566.54,839.75 567.23,839.36 567.91,838.51 568.6,836.76 569.29,835.67 569.97,836.44 570.66,835.11 571.35,835.61 572.04,836.32 572.72,834.22 573.41,833.43 574.1,833.51 574.78,832.34 575.47,831.5 576.16,831.97 576.84,831.78 577.53,830.1 578.22,829.37 578.91,828.75 579.59,826.9 580.28,825.5 580.97,826.44 581.65,824.69 582.34,823.62 583.03,822.93 583.71,821.74 584.4,822.03 585.09,820.11 585.77,818.02 586.46,818.08 587.15,818.32 587.84,816.2 588.52,814.56 589.21,814.28 589.9,814.04 590.58,811.01 591.27,812.46 591.96,809.71 592.64,809.05 593.33,809 594.02,805.54 594.71,805.19 595.39,805.47 596.08,802.56 596.77,802.38 597.45,802.64 598.14,800.24 598.83,798.08 599.51,796.5 600.2,795.78 600.89,794.71 601.57,793.08 602.26,792.61 602.95,789.98 603.64,789.9 604.32,788.6 605.01,787.19 605.7,787.8 606.38,786.33 607.07,782.81 607.76,783.04 608.44,782.69 609.13,780.98 609.82,780.91 610.51,779.09 611.19,779.22 611.88,777.25 612.57,778.49 613.25,774.33 613.94,775.63 614.63,776.09 615.31,773.79 616,773.26 616.69,771.99 617.37,772.88 618.06,770.49 618.75,766.15 619.44,771.43 620.12,769.06 620.81,769.42 621.5,768.45 622.18,770.51 622.87,769.45 623.56,767.3 624.24,767.71 624.93,765.57 625.62,768.27 626.31,767.17 626.99,763.9 627.68,768.31 628.37,768.53 629.05,767.6 629.74,767.79 630.43,766.98 631.11,768.18 631.8,769.67 632.49,769.08 633.18,766.9 633.86,769.32 634.55,774.99 635.24,772.98 635.92,775.03 636.61,774.65 637.3,777.06 637.98,776.32 638.67,779.23 639.36,781.2 640.04,784.02 640.73,786.44 641.42,788.32 642.11,789.71 642.79,793.01 643.48,796.5 644.17,797.51 644.85,801.32 645.54,804.35 646.23,807.83 646.91,810.42 647.6,813.3 648.29,818.05 648.98,817.4 649.66,820.55 650.35,823.93 651.04,825.5 651.72,828.25 652.41,830.35 653.1,834.54 653.78,834.51 654.47,835.55 655.16,836.24 655.84,837.45 656.53,839 657.22,841.99 657.91,843.68 658.59,842.51 659.28,843.59 659.97,843.5 660.65,844.7 661.34,844.79 662.03,846.18 662.71,844.97 663.4,845.59 664.09,844.99 664.78,844.76 665.46,844.91 666.15,844.32 666.84,844.17 667.52,843.25 668.21,842.94" fill="none" stroke="#1f7fbf" stroke-width="1.5" stroke-linejoin="round"/>
<polyline points="410.6,858.35 411.29,858.37 411.97,856.87 412.66,858.06 413.35,857.36 414.03,857.74 414.72,858.36 415.41,858.47 416.1,857.91 416.78,857.83 417.47,857.59 418.16,858.8 418.84,858.37 419.53,858.05 420.22,856.96 420.9,859.5 421.59,857.7 422.28,858.33 422.97,857.7 423.65,858.3 424.34,857.74 425.03,856.97 425.71,857.75 426.4,857.69 427.09,857.73 427.77,858.45 428.46,857.62 429.15,858.1 429.83,858.48 430.52,857.98 431.21,858.1 431.9,857.47 432.58,857.98 433.27,858.29 433.96,857.01 434.64,857.31 435.33,857.12 436.02,857.55 436.7,858 437.39,858.2 438.08,858.11 438.77,857.31 439.45,857.85 440.14,858.87 440.83,857.94 441.51,858.82 442.2,857.8 442.89,858.68 443.57,858.71 444.26,857.82 444.95,857.94 445.63,858.95 446.32,857.4 447.01,856.49 447.7,858.83 448.38,856.7 449.07,858.31 449.76,858.18 450.44,857.97 451.13,858.78 451.82,857.01 452.5,857.52 453.19,858.32 453.88,858.01 454.57,858.8 455.25,858.04 455.94,857.21 456.63,858.91 457.31,858.08 458,857.7 458.69,857.12 459.37,856.92 460.06,858.07 460.75,858.25 461.44,857.48 462.12,857.99 462.81,857.95 463.5,857.05 464.18,856.65 464.87,857.56 465.56,857.85 466.24,857.35 466.93,858.93 467.62,857.72 468.3,858.38 468.99,856.15 469.68,857.22 470.37,857.59 471.05,857.8 471.74,859.28 472.43,857.2 473.11,856.6 473.8,858.11 474.49,857.19 475.17,857.16 475.86,858.61 476.55,857.01 477.24,856.73 477.92,857.45 478.61,857.62 479.3,857.07 479.98,858.56 480.67,857.5 481.36,856.87 482.04,858.34 482.73,856.89 483.42,857.79 484.1,858.85 484.79,857.57 485.48,858.12 486.17,857.28 486.85,858.23 487.54,856.79 488.23,857.93 488.91,857.22 489.6,857.82 490.29,857.64 490.97,856.65 491.66,857.27 492.35,857.65 493.04,858.19 493.72,856.63 494.41,856.89 495.1,857.56 495.78,857.19 496.47,857.99 497.16,857.97 497.84,857.84 498.53,857.07 499.22,857.09 499.9,857.75 500.59,856.79 501.28,856.74 501.97,857.12 502.65,856.55 503.34,857.39 504.03,857.27 504.71,856.88 505.4,857.19 506.09,856.64 506.77,857.94 507.46,856.21 508.15,857.61 508.84,857.2 509.52,857.96 510.21,856.67 510.9,856.22 511.58,856.33 512.27,856.47 512.96,857.99 513.64,857.47 514.33,857.24 515.02,857.53 515.7,856.18 516.39,856.76 517.08,856.87 517.77,856.52 518.45,857.42 519.14,857.37 519.83,857.32 520.51,856.4 521.2,856.47 521.89,856.29 522.57,855.94 523.26,857.47 523.95,856.92 524.64,856.43 525.32,857.35 526.01,856.79 526.7,855.75 527.38,855.64 528.07,855.61 528.76,856.23 529.44,856.34 530.13,855.45 530.82,856.33 531.5,855.81 532.19,855.11 532.88,856.14 533.57,856.23 534.25,855.76 534.94,855.29 535.63,855.28 536.31,855.41 537,855.06 537.69,856.36 538.37,855.78 539.06,855.01 539.75,855.62 540.44,855.79 541.12,855.59 541.81,855.29 542.5,854.69 543.18,855.12 543.87,854.16 544.56,853.06 545.24,854.12 545.93,853.03 546.62,853.51 547.31,854.27 547.99,853.51 548.68,853.8 549.37,852.44 550.05,853.5 550.74,851.63 551.43,851.89 552.11,853.39 552.8,851.25 553.49,850.46 554.17,851.76 554.86,850.26 555.55,851.84 556.24,850.13 556.92,851.09 557.61,849.29 558.3,850.48 558.98,850.7 559.67,848.24 560.36,846.55 561.04,848.14 561.73,846.73 562.42,846.81 563.11,846.67 563.79,845.56 564.48,844.36 565.17,845.92 565.85,844.14 566.54,843.78 567.23,844.52 567.91,841.77 568.6,840.96 569.29,842.48 569.97,839.9 570.66,840.51 571.35,840.03 572.04,838.12 572.72,838.38 573.41,837.6 574.1,835.96 574.78,835.38 575.47,834.9 576.16,835.87 576.84,835.19 577.53,832.24 578.22,832.99 578.91,831.25 579.59,831.32 580.28,829.67 580.97,829.61 581.65,826.25 582.34,827.43 583.03,825.66 583.71,824.67 584.4,822.43 585.09,823.57 585.77,821.28 586.46,820.3 587.15,818.52 587.84,817.4 588.52,817.04 589.21,815.21 589.9,814.55 590.58,812.56 591.27,811.83 591.96,811.08 592.64,809.24 593.33,807.59 594.02,804.51 594.71,805.81 595.39,803.74 596.08,801.32 596.77,803.43 597.45,801.8 598.14,799.95 598.83,797.57 599.51,793.69 600.2,794.43 600.89,792.28 601.57,792.43 602.26,793.45 602.95,792.02 603.64,787.28 604.32,786.88 605.01,787.2 605.7,783.4 606.38,785.03 607.07,780.95 607.76,779.42 608.44,780.68 609.13,779.93 609.82,776.67 610.51,777.74 611.19,774.5 611.88,775.79 612.57,772.54 613.25,772.38 613.94,772.06 614.63,771.7 615.31,769.55 616,771.19 616.69,768.55 617.37,767.95 618.06,766 618.75,767.61 619.44,763.52 620.12,765.34 620.81,765.79 621.5,762.33 622.18,761.58 622.87,763.39 623.56,763.89 624.24,762.53 624.93,763.14 625.62,762.5 626.31,760.13 626.99,761.44 627.68,761.69 628.37,761.46 629.05,761.96 629.74,760.96 630.43,761.05 631.11,762.74 631.8,762.47 632.49,760.11 633.18,762.98 633.86,764.32 634.55,762.44 635.24,765.72 635.92,768.04 636.61,767.14 637.3,770.28 637.98,771.28 638.67,771.96 639.36,774.24 640.04,776.87 640.73,778.69 641.42,780.92 642.11,781.35 642.79,785.82 643.48,788.22 644.17,788.17 644.85,793.6 645.54,794.37 646.23,797.45 646.91,801.84 647.6,806.02 648.29,807.22 648.98,810.01 649.66,812.73 650.35,816.48 651.04,818.39 651.72,821.06 652.41,825.85 653.1,826.42 653.78,829.99 654.47,833.02 655.16,835.13 655.84,835.63 656.53,838.41 657.22,842.44 657.91,842.86 658.59,844.71 659.28,846.29 659.97,847.96 660.65,849.92 661.34,849.48 662.03,851.79 662.71,852.35 663.4,853.35 664.09,854.17 664.78,853.84 665.46,854.65 666.15,855.84 666.84,856.43 667.52,856.46 668.21,855.81" fill="none" stroke="#2ca02c" stroke-width="1.6" stroke-linejoin="round"/>
<polyline points="410.6,858.66 411.29,858.61 411.97,858.9 412.66,858.86 413.35,858.62 414.03,859.68 414.72,857.9 415.41,859.13 416.1,859.02 416.78,858.04 417.47,858.61 418.16,858.7 418.84,859.03 419.53,859.53 420.22,858.63 420.9,858.11 421.59,859.18 422.28,858.02 422.97,859.3 423.65,859.1 424.34,858.46 425.03,858.72 425.71,858.36 426.4,859.09 427.09,859.24 427.77,859.67 428.46,859.33 429.15,859.26 429.83,859.44 430.52,858.54 431.21,859.04 431.9,859.72 432.58,857.42 433.27,859.13 433.96,859.34 434.64,858.05 435.33,858.09 436.02,859.28 436.7,859.44 437.39,859.2 438.08,858.1 438.77,858.84 439.45,859.09 440.14,858.69 440.83,858.05 441.51,859.38 442.2,858.86 442.89,859.37 443.57,857.54 444.26,857.72 444.95,858.16 445.63,858.72 446.32,858.31 447.01,859.72 447.7,858.5 448.38,859.32 449.07,859.31 449.76,858.99 450.44,858.8 451.13,858.32 451.82,858.26 452.5,858.48 453.19,859.1 453.88,858.26 454.57,858.66 455.25,857.99 455.94,859.06 456.63,860.01 457.31,858.83 458,857.47 458.69,858.33 459.37,858.67 460.06,858.11 460.75,858.3 461.44,858.32 462.12,858.82 462.81,858.51 463.5,858.44 464.18,858.87 464.87,859.11 465.56,858.46 466.24,858.03 466.93,858.19 467.62,858.26 468.3,858.25 468.99,857.17 469.68,858.36 470.37,857.96 471.05,857.48 471.74,858.45 472.43,858.34 473.11,857.93 473.8,857.6 474.49,858.3 475.17,858.27 475.86,858.4 476.55,859.06 477.24,857.86 477.92,858.56 478.61,859.31 479.3,858.49 479.98,859.3 480.67,858.92 481.36,858.38 482.04,858.86 482.73,857.83 483.42,859.13 484.1,858.23 484.79,858.07 485.48,857.6 486.17,857.87 486.85,858.22 487.54,858.29 488.23,858.35 488.91,857.73 489.6,858.64 490.29,858.03 490.97,858.34 491.66,858.16 492.35,858.41 493.04,857.17 493.72,858.6 494.41,858.12 495.1,858.1 495.78,857.92 496.47,857.99 497.16,858 497.84,857.7 498.53,858.97 499.22,858.18 499.9,858.81 500.59,858.05 501.28,858.76 501.97,858.64 502.65,858.17 503.34,857.41 504.03,857.82 504.71,857.95 505.4,857.37 506.09,858.56 506.77,859.14 507.46,858.27 508.15,858.18 508.84,857.39 509.52,856.91 510.21,858.68 510.9,856.71 511.58,857.16 512.27,857.52 512.96,857.74 513.64,856.66 514.33,857.85 515.02,858.12 515.7,857.78 516.39,858.54 517.08,857.57 517.77,857.85 518.45,857.6 519.14,857.56 519.83,858.26 520.51,857.01 521.2,858.18 521.89,857.17 522.57,858.42 523.26,857.37 523.95,857.95 524.64,857.47 525.32,857.79 526.01,858.54 526.7,857.94 527.38,857.28 528.07,856.95 528.76,857.98 529.44,858.26 530.13,857.56 530.82,857.15 531.5,857.31 532.19,857.33 532.88,856.4 533.57,856.27 534.25,856.3 534.94,857.09 535.63,856.48 536.31,856.53 537,857.07 537.69,855.76 538.37,856.07 539.06,856.25 539.75,855.15 540.44,855.37 541.12,855.2 541.81,854.89 542.5,855.01 543.18,855.9 543.87,855.29 544.56,854.4 545.24,855.16 545.93,854.56 546.62,854.18 547.31,853.43 547.99,853.3 548.68,853.29 549.37,853.64 550.05,852.81 550.74,852.76 551.43,852.86 552.11,851.77 552.8,851.94 553.49,852.31 554.17,850.9 554.86,851.39 555.55,850.58 556.24,851.37 556.92,850.17 557.61,850.28 558.3,849.89 558.98,849.99 559.67,847.32 560.36,848.14 561.04,847.46 561.73,846.49 562.42,846.68 563.11,845.81 563.79,846.34 564.48,844.91 565.17,844.69 565.85,843.58 566.54,843.16 567.23,843.44 567.91,843.07 568.6,841.92 569.29,840.2 569.97,839.67 570.66,838.95 571.35,839.64 572.04,839.27 572.72,837.23 573.41,836.23 574.1,835.55 574.78,834.09 575.47,833.51 576.16,833.22 576.84,832.09 577.53,830.47 578.22,829.52 578.91,828.59 579.59,826.04 580.28,826.6 580.97,825.26 581.65,824.87 582.34,823.32 583.03,821.56 583.71,820.35 584.4,819.63 585.09,818.02 585.77,817 586.46,817.07 587.15,816.77 587.84,811.54 588.52,811.25 589.21,810.54 589.9,810.39 590.58,808.69 591.27,805.38 591.96,807.04 592.64,803.81 593.33,801.49 594.02,800.61 594.71,798.71 595.39,797.94 596.08,794.54 596.77,795.75 597.45,794.56 598.14,791.82 598.83,789.45 599.51,789.19 600.2,786.85 600.89,786.7 601.57,785.82 602.26,782.27 602.95,780.71 603.64,779.34 604.32,779.63 605.01,778.88 605.7,777.56 606.38,775.43 607.07,773.43 607.76,772.22 608.44,772.68 609.13,770.03 609.82,768.99 610.51,767.76 611.19,766.74 611.88,765.8 612.57,764.02 613.25,763.42 613.94,762.35 614.63,762.25 615.31,760.34 616,759.96 616.69,761 617.37,757.81 618.06,757.78 618.75,755.98 619.44,756.37 620.12,755.73 620.81,754.91 621.5,754.64 622.18,754.62 622.87,755.53 623.56,751.74 624.24,754.73 624.93,753.33 625.62,752.22 626.31,752.37 626.99,752.14 627.68,751.94 628.37,751.49 629.05,752.48 629.74,750.11 630.43,754.05 631.11,753.16 631.8,754.12 632.49,754.81 633.18,754.67 633.86,754.35 634.55,757.32 635.24,758.39 635.92,758.29 636.61,759.86 637.3,760.13 637.98,762.72 638.67,765.35 639.36,767.9 640.04,769.63 640.73,772.34 641.42,775.88 642.11,777.34 642.79,780.27 643.48,783.2 644.17,786.35 644.85,787.71 645.54,791.66 646.23,794.69 646.91,799.12 647.6,802.69 648.29,805.39 648.98,808.26 649.66,811.91 650.35,814.98 651.04,817.31 651.72,820.79 652.41,824.57 653.1,827.01 653.78,829.86 654.47,831.91 655.16,835.21 655.84,836.92 656.53,838.58 657.22,841.02 657.91,843.47 658.59,845.06 659.28,846.25 659.97,847.53 660.65,848.69 661.34,850.45 662.03,852.19 662.71,851.67 663.4,853.15 664.09,853.86 664.78,854.58 665.46,855.87 666.15,855.99 666.84,856.11 667.52,856.06 668.21,856.86" fill="none" stroke="#a6dc8a" stroke-width="1.35" stroke-linejoin="round"/>
<polyline points="410.6,861.66 411.29,859.8 411.97,859.42 412.66,858.82 413.35,859.19 414.03,858.05 414.72,858.73 415.41,858.78 416.1,859.04 416.78,860.53 417.47,859.1 418.16,859.26 418.84,859.98 419.53,859.27 420.22,859.37 420.9,859.94 421.59,859.72 422.28,859.81 422.97,859.49 423.65,859.91 424.34,859.28 425.03,860.87 425.71,859.81 426.4,860.71 427.09,859.94 427.77,859.29 428.46,859.61 429.15,859.69 429.83,859.58 430.52,858.61 431.21,860.33 431.9,859.04 432.58,860.58 433.27,859.91 433.96,859.5 434.64,860.15 435.33,859.47 436.02,859.13 436.7,860.36 437.39,859.64 438.08,859.83 438.77,860.84 439.45,859.7 440.14,860.09 440.83,858.72 441.51,860.14 442.2,858.48 442.89,859.91 443.57,858.32 444.26,859.21 444.95,859.27 445.63,859.04 446.32,858.97 447.01,858.64 447.7,858.43 448.38,859.76 449.07,860.34 449.76,861.25 450.44,859.77 451.13,859.03 451.82,859.27 452.5,859.44 453.19,859.73 453.88,859.92 454.57,859.68 455.25,859.24 455.94,860.62 456.63,859.02 457.31,860.42 458,859.58 458.69,859.88 459.37,859.7 460.06,860.13 460.75,860.2 461.44,859.6 462.12,860.14 462.81,857.86 463.5,859.7 464.18,859.85 464.87,859.78 465.56,860.11 466.24,860.99 466.93,859.57 467.62,859.2 468.3,860.36 468.99,859.39 469.68,860.16 470.37,859.4 471.05,859.14 471.74,859.05 472.43,859.08 473.11,859.8 473.8,858.78 474.49,859.63 475.17,859.1 475.86,858.87 476.55,859.51 477.24,860.14 477.92,858.91 478.61,860.01 479.3,859.86 479.98,859.99 480.67,858.73 481.36,859.37 482.04,860.7 482.73,858.78 483.42,857.91 484.1,858.08 484.79,859.59 485.48,859.17 486.17,858.88 486.85,858.63 487.54,859.17 488.23,859.89 488.91,858.69 489.6,858.77 490.29,860.01 490.97,859.39 491.66,858.97 492.35,859.13 493.04,858.79 493.72,858.6 494.41,858.76 495.1,859.17 495.78,859.95 496.47,858.68 497.16,858.16 497.84,857.78 498.53,859.06 499.22,859.06 499.9,858.09 500.59,858.08 501.28,858.78 501.97,858.53 502.65,859.47 503.34,858.59 504.03,859.48 504.71,859.03 505.4,859.01 506.09,859.21 506.77,860.26 507.46,859.42 508.15,858.66 508.84,858.89 509.52,859.09 510.21,858.55 510.9,858.36 511.58,858.24 512.27,859.29 512.96,858.74 513.64,858.95 514.33,859.28 515.02,859.66 515.7,858.74 516.39,859.21 517.08,857.24 517.77,858.67 518.45,858.72 519.14,858.81 519.83,857.32 520.51,859.1 521.2,858.57 521.89,858.93 522.57,858.48 523.26,858.39 523.95,857.62 524.64,859.2 525.32,858.26 526.01,857.16 526.7,858.49 527.38,858.22 528.07,858.63 528.76,859.7 529.44,858.02 530.13,857.13 530.82,858.13 531.5,858.95 532.19,857.52 532.88,857.57 533.57,856.89 534.25,856.87 534.94,857.55 535.63,857.02 536.31,858.35 537,856.36 537.69,856.86 538.37,856.16 539.06,856.05 539.75,856.81 540.44,856.6 541.12,856.95 541.81,857.6 542.5,856.2 543.18,855.86 543.87,856.52 544.56,855.17 545.24,855.4 545.93,854.98 546.62,855.59 547.31,856.04 547.99,854.15 548.68,854.03 549.37,854.27 550.05,854.23 550.74,853.87 551.43,853.5 552.11,853.46 552.8,854.15 553.49,851.97 554.17,853.16 554.86,852.03 555.55,851.65 556.24,850.88 556.92,851.75 557.61,849.42 558.3,849.36 558.98,848.83 559.67,848.03 560.36,848.96 561.04,850.07 561.73,847.16 562.42,845.94 563.11,845.48 563.79,846.09 564.48,845.18 565.17,844.29 565.85,845.13 566.54,843.66 567.23,842.95 567.91,840.65 568.6,841.52 569.29,839.15 569.97,839.49 570.66,839.92 571.35,836.21 572.04,837.7 572.72,835.63 573.41,833.89 574.1,834.63 574.78,834.19 575.47,831.46 576.16,831.17 576.84,831.11 577.53,829.92 578.22,828.27 578.91,826.06 579.59,825.87 580.28,823.92 580.97,821.89 581.65,820.94 582.34,819.51 583.03,818.36 583.71,819.37 584.4,815.66 585.09,815.02 585.77,813.99 586.46,813.37 587.15,812.36 587.84,810.47 588.52,808.02 589.21,807.52 589.9,805.67 590.58,803.93 591.27,801.2 591.96,800.48 592.64,798.73 593.33,795.75 594.02,795.64 594.71,793.13 595.39,793.04 596.08,790.06 596.77,788.59 597.45,786.87 598.14,785.82 598.83,784.7 599.51,782.3 600.2,780.8 600.89,777.62 601.57,776.08 602.26,776.58 602.95,773.06 603.64,772.57 604.32,769.97 605.01,769.35 605.7,768.82 606.38,764.62 607.07,763.67 607.76,763.96 608.44,763.2 609.13,760.26 609.82,759.54 610.51,757.24 611.19,754.78 611.88,752.49 612.57,753.23 613.25,750.02 613.94,749.03 614.63,749.67 615.31,749.95 616,745.98 616.69,745.22 617.37,742.2 618.06,742.33 618.75,742.19 619.44,740.29 620.12,742.71 620.81,740.53 621.5,740.41 622.18,737.42 622.87,738.25 623.56,742.06 624.24,736.37 624.93,738.7 625.62,736.38 626.31,737.63 626.99,736.58 627.68,735.98 628.37,736.45 629.05,737.81 629.74,735.02 630.43,736.29 631.11,736.93 631.8,736.3 632.49,738.11 633.18,735.69 633.86,738.26 634.55,738.83 635.24,739.76 635.92,742.3 636.61,743.84 637.3,743.64 637.98,745.09 638.67,745.75 639.36,748.77 640.04,752.69 640.73,753.23 641.42,755.45 642.11,757.98 642.79,761.61 643.48,766.31 644.17,766.97 644.85,772.27 645.54,774.36 646.23,780.06 646.91,781.33 647.6,786.53 648.29,788.45 648.98,791.57 649.66,795.9 650.35,801.79 651.04,805.27 651.72,808.82 652.41,811.04 653.1,814.77 653.78,818.29 654.47,821.41 655.16,824.31 655.84,827.24 656.53,829.27 657.22,833.29 657.91,835.62 658.59,839.5 659.28,841.28 659.97,842.85 660.65,845.06 661.34,845.77 662.03,846.76 662.71,849.19 663.4,850.49 664.09,851.64 664.78,852.21 665.46,853.55 666.15,853.68 666.84,854.43 667.52,854.99 668.21,855.21" fill="none" stroke="#cdb4dc" stroke-width="1.35" stroke-linejoin="round"/>
<polyline points="410.6,860.18 411.29,860.1 411.97,859.07 412.66,860.23 413.35,859.68 414.03,860.16 414.72,860.49 415.41,860.49 416.1,860.72 416.78,860.19 417.47,860.58 418.16,860.47 418.84,859.41 419.53,860.28 420.22,859.46 420.9,860.02 421.59,859.63 422.28,860.58 422.97,860.09 423.65,858.48 424.34,859.64 425.03,859.53 425.71,860.02 426.4,859.62 427.09,860.91 427.77,860.71 428.46,859.88 429.15,859.63 429.83,860.42 430.52,860.27 431.21,860.38 431.9,860.27 432.58,860.91 433.27,861.06 433.96,860.19 434.64,861.25 435.33,860.76 436.02,860.55 436.7,860.79 437.39,859.96 438.08,860.4 438.77,860.16 439.45,860.75 440.14,860.57 440.83,859.76 441.51,859.85 442.2,860.38 442.89,859.84 443.57,859.95 444.26,859.96 444.95,859.03 445.63,860.31 446.32,859.78 447.01,859.77 447.7,860.19 448.38,860.78 449.07,859.58 449.76,859.85 450.44,859.98 451.13,859.99 451.82,859.98 452.5,860.56 453.19,859.79 453.88,861.14 454.57,859.99 455.25,860.92 455.94,860.18 456.63,859.49 457.31,860.11 458,860.24 458.69,859.59 459.37,860.09 460.06,860.17 460.75,860.15 461.44,858.92 462.12,859.45 462.81,859.56 463.5,860.63 464.18,859.45 464.87,860.68 465.56,859.53 466.24,860.54 466.93,858.56 467.62,860.89 468.3,859.01 468.99,859.27 469.68,860.92 470.37,859.92 471.05,858.82 471.74,859.01 472.43,860.8 473.11,860.05 473.8,860.46 474.49,860.36 475.17,860.1 475.86,858.49 476.55,859.58 477.24,859.79 477.92,859.85 478.61,859.2 479.3,859.17 479.98,860.19 480.67,858.64 481.36,860.27 482.04,859.74 482.73,859.26 483.42,858.43 484.1,859.74 484.79,859.32 485.48,858.66 486.17,859.08 486.85,858.74 487.54,858.78 488.23,859.27 488.91,859.02 489.6,858.82 490.29,859.41 490.97,858.35 491.66,860.64 492.35,859.94 493.04,858.4 493.72,859.04 494.41,859.71 495.1,859.04 495.78,858.57 496.47,859.61 497.16,858.74 497.84,859.3 498.53,859.27 499.22,859.23 499.9,858.45 500.59,859.87 501.28,859.36 501.97,858.68 502.65,859.87 503.34,860.09 504.03,858.68 504.71,859.03 505.4,859.1 506.09,858.9 506.77,859.59 507.46,857.07 508.15,859.56 508.84,859.18 509.52,859.79 510.21,859.12 510.9,857.85 511.58,858.79 512.27,858.4 512.96,859.06 513.64,857.56 514.33,858.59 515.02,859.47 515.7,858.14 516.39,858.84 517.08,858.18 517.77,858.45 518.45,858.34 519.14,858.38 519.83,859.02 520.51,859.36 521.2,857.73 521.89,858.4 522.57,858.09 523.26,858.52 523.95,859.48 524.64,858.95 525.32,857.18 526.01,858.53 526.7,858.21 527.38,858.85 528.07,858.19 528.76,858.02 529.44,857.86 530.13,857.69 530.82,857.97 531.5,857.86 532.19,857.41 532.88,857.11 533.57,857.32 534.25,856 534.94,856.9 535.63,856.82 536.31,857.24 537,856.03 537.69,857.24 538.37,857.5 539.06,856.94 539.75,855.78 540.44,856.8 541.12,855.07 541.81,855.79 542.5,856.62 543.18,855.62 543.87,854.13 544.56,855.68 545.24,855.79 545.93,854.4 546.62,853.67 547.31,853.64 547.99,854.29 548.68,853.71 549.37,853.36 550.05,852.52 550.74,851.59 551.43,852.79 552.11,851.54 552.8,852.3 553.49,851.34 554.17,851.99 554.86,851.5 555.55,850.31 556.24,850.78 556.92,849.15 557.61,849.67 558.3,848.78 558.98,848.4 559.67,848.07 560.36,847.23 561.04,846.03 561.73,844.07 562.42,846.46 563.11,844.82 563.79,844.53 564.48,844.4 565.17,842.88 565.85,843.01 566.54,841.72 567.23,840.03 567.91,841.59 568.6,839.17 569.29,838.2 569.97,838.36 570.66,836.4 571.35,835.61 572.04,835.19 572.72,833.06 573.41,833.93 574.1,831.44 574.78,831.04 575.47,830.57 576.16,828.78 576.84,827.76 577.53,825.66 578.22,826.24 578.91,823.98 579.59,822.9 580.28,819.98 580.97,820.78 581.65,817.65 582.34,818.52 583.03,815.37 583.71,814.3 584.4,812.37 585.09,811.75 585.77,811.25 586.46,809.33 587.15,805.29 587.84,804.59 588.52,803.87 589.21,800.64 589.9,800.38 590.58,798.65 591.27,797.33 591.96,793.41 592.64,790.9 593.33,791.77 594.02,788.8 594.71,786.32 595.39,783.4 596.08,785.82 596.77,781.55 597.45,779.19 598.14,779.38 598.83,775.67 599.51,774 600.2,771.6 600.89,771.03 601.57,768.17 602.26,767.34 602.95,764.26 603.64,762.88 604.32,761.61 605.01,760.9 605.7,755.89 606.38,754.69 607.07,753.18 607.76,753.11 608.44,751.08 609.13,747.23 609.82,746.59 610.51,746.75 611.19,744.2 611.88,742.57 612.57,741.46 613.25,740.86 613.94,736.98 614.63,736.38 615.31,735.97 616,736.29 616.69,733.96 617.37,732.14 618.06,730.04 618.75,730.43 619.44,727.73 620.12,727.94 620.81,728.12 621.5,729.74 622.18,727.1 622.87,726.81 623.56,724.62 624.24,723.51 624.93,721.79 625.62,723.05 626.31,724.09 626.99,719.64 627.68,721.88 628.37,722.44 629.05,722.39 629.74,723.69 630.43,721.35 631.11,721.76 631.8,720.5 632.49,721.36 633.18,722.05 633.86,722.14 634.55,724.67 635.24,725.73 635.92,726.32 636.61,728.96 637.3,729.1 637.98,730.96 638.67,731.65 639.36,734.5 640.04,738.93 640.73,739.21 641.42,740.36 642.11,746.86 642.79,748.75 643.48,751.17 644.17,756.05 644.85,758.81 645.54,761.92 646.23,767.19 646.91,769.53 647.6,773.48 648.29,779.24 648.98,782.16 649.66,785.36 650.35,790.73 651.04,794.35 651.72,798.19 652.41,802.89 653.1,805.67 653.78,809.9 654.47,814.63 655.16,816.84 655.84,819.88 656.53,823.07 657.22,827.17 657.91,829.12 658.59,831.06 659.28,834.34 659.97,835.89 660.65,837.88 661.34,840.72 662.03,841.93 662.71,844.12 663.4,844.55 664.09,846.55 664.78,847.91 665.46,848.46 666.15,849.27 666.84,849.63 667.52,850.11 668.21,851.63" fill="none" stroke="#6a3fa0" stroke-width="1.5" stroke-linejoin="round"/>
<polyline points="410.6,860.44 411.29,859.53 411.97,859.42 412.66,859.77 413.35,857.48 414.03,858.84 414.72,859.91 415.41,859.19 416.1,858.64 416.78,859.51 417.47,861.41 418.16,859.75 418.84,859.79 419.53,857.91 420.22,861.48 420.9,858.43 421.59,859.96 422.28,858.98 422.97,860.07 423.65,859.65 424.34,858.78 425.03,859.72 425.71,858.85 426.4,859.87 427.09,860.16 427.77,859.98 428.46,860.23 429.15,859.88 429.83,858.54 430.52,860.82 431.21,861.26 431.9,859.77 432.58,858.23 433.27,858.8 433.96,858.55 434.64,858.61 435.33,860.39 436.02,859.62 436.7,862.12 437.39,860.26 438.08,859.16 438.77,861.1 439.45,861.55 440.14,860.86 440.83,859.48 441.51,858.62 442.2,857.34 442.89,858.37 443.57,861.02 444.26,861.73 444.95,859.5 445.63,858.67 446.32,861.07 447.01,860.08 447.7,860 448.38,859.56 449.07,859.74 449.76,859.1 450.44,858.61 451.13,859.48 451.82,858.86 452.5,857.73 453.19,860.44 453.88,860.45 454.57,859.04 455.25,857.82 455.94,859.33 456.63,858.48 457.31,859.74 458,858.62 458.69,860 459.37,858.82 460.06,859.06 460.75,859.05 461.44,858.15 462.12,858.42 462.81,859.9 463.5,858.56 464.18,860.87 464.87,858.44 465.56,856.84 466.24,858.82 466.93,858.83 467.62,859.22 468.3,858.51 468.99,859.65 469.68,858.63 470.37,859.46 471.05,859.59 471.74,859.08 472.43,859.23 473.11,860.73 473.8,857.28 474.49,859.01 475.17,860.65 475.86,858.14 476.55,859.12 477.24,858.9 477.92,858.43 478.61,859.86 479.3,861.69 479.98,859.12 480.67,858.79 481.36,858.09 482.04,859.67 482.73,859.21 483.42,858.59 484.1,859.22 484.79,859.15 485.48,858.68 486.17,859.79 486.85,857.45 487.54,859.7 488.23,858.82 488.91,859.13 489.6,859.46 490.29,858.32 490.97,857.88 491.66,857.46 492.35,858.23 493.04,859.14 493.72,857.94 494.41,860.01 495.1,858.64 495.78,858.2 496.47,858.15 497.16,859.67 497.84,859.97 498.53,857.11 499.22,859.05 499.9,860.05 500.59,859.67 501.28,858.52 501.97,857.45 502.65,858.5 503.34,857.4 504.03,858.25 504.71,858.01 505.4,857.53 506.09,858.74 506.77,858.11 507.46,858.7 508.15,858.91 508.84,857.72 509.52,859.03 510.21,858.19 510.9,858.95 511.58,858.29 512.27,858.66 512.96,857.18 513.64,858.07 514.33,858.04 515.02,856.6 515.7,860.66 516.39,859.03 517.08,860.47 517.77,857.97 518.45,857.54 519.14,857.32 519.83,857.62 520.51,858.61 521.2,856.21 521.89,857.47 522.57,857.94 523.26,858.67 523.95,857.24 524.64,858.01 525.32,857.93 526.01,857.28 526.7,857.22 527.38,858.1 528.07,856.16 528.76,858.14 529.44,858.17 530.13,856.82 530.82,856.91 531.5,856.88 532.19,857.24 532.88,856.74 533.57,857.2 534.25,858.09 534.94,855.83 535.63,857.31 536.31,856.49 537,855.51 537.69,856.03 538.37,853.43 539.06,857.06 539.75,856.34 540.44,855.46 541.12,854.17 541.81,855.5 542.5,856.43 543.18,853.92 543.87,855.65 544.56,854.81 545.24,853.64 545.93,854.87 546.62,854.46 547.31,853.38 547.99,853.79 548.68,853.1 549.37,853.98 550.05,852.95 550.74,853.57 551.43,853.7 552.11,850.32 552.8,851.2 553.49,850.42 554.17,851.82 554.86,850.56 555.55,850.33 556.24,851.05 556.92,848.77 557.61,849.51 558.3,848.55 558.98,849.31 559.67,846.42 560.36,846.11 561.04,845.91 561.73,846.59 562.42,845.65 563.11,843.34 563.79,844.15 564.48,842.96 565.17,842.4 565.85,842.92 566.54,839.6 567.23,842.29 567.91,839.32 568.6,838.81 569.29,839.49 569.97,836.66 570.66,835.55 571.35,835.08 572.04,835 572.72,832.69 573.41,830.96 574.1,830.81 574.78,828.13 575.47,827.88 576.16,826.79 576.84,824.91 577.53,825.83 578.22,824.4 578.91,821.96 579.59,820.59 580.28,818.1 580.97,817.05 581.65,816.65 582.34,815.09 583.03,814.1 583.71,812.62 584.4,811.1 585.09,807.9 585.77,807.79 586.46,805.94 587.15,803.59 587.84,802.59 588.52,800.44 589.21,800.94 589.9,795.99 590.58,794.9 591.27,792.36 591.96,790.18 592.64,790.97 593.33,783.62 594.02,784.4 594.71,782.32 595.39,782.77 596.08,777.57 596.77,775.73 597.45,774.62 598.14,771.68 598.83,768.15 599.51,768.18 600.2,766.8 600.89,761.59 601.57,760.9 602.26,759.37 602.95,753.75 603.64,754.62 604.32,752.97 605.01,750.23 605.7,749.1 606.38,746.13 607.07,744.16 607.76,743.32 608.44,740.72 609.13,737.89 609.82,735.82 610.51,733.59 611.19,731.39 611.88,730.35 612.57,728.12 613.25,727.74 613.94,725.82 614.63,722.11 615.31,725.22 616,719.94 616.69,713.97 617.37,720.49 618.06,713.71 618.75,717.6 619.44,712.9 620.12,709.62 620.81,708.68 621.5,711.49 622.18,711.12 622.87,710.4 623.56,705.97 624.24,706.98 624.93,705.59 625.62,704.51 626.31,703.67 626.99,702.95 627.68,703.2 628.37,705.73 629.05,700.34 629.74,707.17 630.43,700.39 631.11,703.43 631.8,702.76 632.49,703.37 633.18,703.25 633.86,702.9 634.55,703.7 635.24,705.57 635.92,702.99 636.61,706.22 637.3,704.08 637.98,707.81 638.67,710.18 639.36,710.01 640.04,711.22 640.73,716.32 641.42,717.7 642.11,717.64 642.79,724.38 643.48,727.26 644.17,729.04 644.85,734.73 645.54,740.37 646.23,743.12 646.91,744.25 647.6,748.16 648.29,752.71 648.98,757.57 649.66,764.48 650.35,766.59 651.04,770.74 651.72,777.96 652.41,780.6 653.1,787 653.78,790.98 654.47,795.36 655.16,802.08 655.84,802.97 656.53,809.91 657.22,813.12 657.91,817.48 658.59,820.17 659.28,823.75 659.97,827.54 660.65,829.24 661.34,833.36 662.03,836.79 662.71,841.8 663.4,841.52 664.09,843.65 664.78,846.14 665.46,847.87 666.15,848.05 666.84,849.03 667.52,849.49 668.21,851.3" fill="none" stroke="#f59c9c" stroke-width="1.3" stroke-linejoin="round"/>
<polyline points="410.6,860.44 411.29,859.82 411.97,860.87 412.66,859.52 413.35,859.76 414.03,860.38 414.72,860.05 415.41,860.15 416.1,860.39 416.78,859.13 417.47,857.98 418.16,859.45 418.84,859.3 419.53,859.87 420.22,860.2 420.9,858.56 421.59,860.2 422.28,859.71 422.97,860.04 423.65,859.58 424.34,859.98 425.03,859.57 425.71,860.76 426.4,860.01 427.09,859.06 427.77,860.6 428.46,860.36 429.15,859.04 429.83,859.66 430.52,859.23 431.21,861.35 431.9,859.81 432.58,860.72 433.27,860.79 433.96,859.62 434.64,859.12 435.33,860.84 436.02,860.58 436.7,860.24 437.39,859.94 438.08,860.71 438.77,858.39 439.45,859.46 440.14,860.06 440.83,860.15 441.51,858.31 442.2,858.36 442.89,860.11 443.57,859.56 444.26,858.97 444.95,860.54 445.63,860.14 446.32,858.88 447.01,860.19 447.7,860.02 448.38,860.6 449.07,860.21 449.76,859.27 450.44,860.23 451.13,860.53 451.82,860.09 452.5,858.53 453.19,859.55 453.88,860.01 454.57,859.54 455.25,859.34 455.94,859.54 456.63,860.77 457.31,859.4 458,859.72 458.69,859.03 459.37,860.43 460.06,858.87 460.75,859.86 461.44,860.63 462.12,858.65 462.81,859.83 463.5,859.24 464.18,859.58 464.87,858.75 465.56,858.73 466.24,858.71 466.93,858.95 467.62,860.45 468.3,860.48 468.99,859.24 469.68,859.98 470.37,859.04 471.05,859.22 471.74,860.23 472.43,859.97 473.11,860.02 473.8,859.84 474.49,859.38 475.17,858.79 475.86,858.35 476.55,859.83 477.24,859.55 477.92,858.16 478.61,858.57 479.3,858.98 479.98,860.63 480.67,859.75 481.36,858.97 482.04,859.44 482.73,857.75 483.42,858.96 484.1,858.82 484.79,859.69 485.48,859.64 486.17,859.37 486.85,859.33 487.54,859.05 488.23,858.64 488.91,858.71 489.6,858.19 490.29,859.7 490.97,858.66 491.66,858.62 492.35,857.72 493.04,858.88 493.72,858.5 494.41,859.22 495.1,858.39 495.78,858.39 496.47,859.03 497.16,858.88 497.84,858.6 498.53,858.17 499.22,859.27 499.9,857.93 500.59,858.69 501.28,857.22 501.97,857.48 502.65,858.67 503.34,858.78 504.03,856.75 504.71,857.91 505.4,857.93 506.09,858.54 506.77,858.33 507.46,857.69 508.15,857.78 508.84,858.69 509.52,857.32 510.21,857.89 510.9,858.68 511.58,857.38 512.27,858.11 512.96,857.46 513.64,858.29 514.33,857.66 515.02,858.92 515.7,857.58 516.39,858.78 517.08,857.64 517.77,859.36 518.45,857.71 519.14,857.16 519.83,857.27 520.51,856.77 521.2,858.2 521.89,856.43 522.57,856.36 523.26,858.13 523.95,857.82 524.64,857.62 525.32,857.21 526.01,857.01 526.7,858.68 527.38,856.62 528.07,857.11 528.76,857.54 529.44,856.19 530.13,856.96 530.82,855.91 531.5,856.23 532.19,856.7 532.88,855.64 533.57,855.78 534.25,856.54 534.94,857.16 535.63,856.36 536.31,855.49 537,855.93 537.69,854.5 538.37,855.36 539.06,855.27 539.75,855.01 540.44,855.74 541.12,855.12 541.81,855.34 542.5,856.32 543.18,855.8 543.87,853.99 544.56,854.61 545.24,854.23 545.93,854.94 546.62,854.17 547.31,853.06 547.99,853.3 548.68,853.48 549.37,851.89 550.05,852.69 550.74,852.63 551.43,851.35 552.11,852.98 552.8,851.15 553.49,851.95 554.17,851.39 554.86,850.97 555.55,850.05 556.24,849.68 556.92,849.14 557.61,848.78 558.3,847.53 558.98,846.88 559.67,847.08 560.36,846.56 561.04,846.83 561.73,846.81 562.42,845.1 563.11,844.92 563.79,843.77 564.48,845.03 565.17,841.25 565.85,843.37 566.54,841.78 567.23,840.4 567.91,841.36 568.6,840.01 569.29,840.28 569.97,839.06 570.66,838.59 571.35,836.24 572.04,835.2 572.72,834.72 573.41,832.59 574.1,831.5 574.78,831.51 575.47,830.61 576.16,829.55 576.84,828.56 577.53,826.05 578.22,825.67 578.91,824.88 579.59,823.53 580.28,821.62 580.97,821.02 581.65,819.08 582.34,817.95 583.03,815.38 583.71,814.05 584.4,814.63 585.09,812.05 585.77,809.75 586.46,809.09 587.15,806.39 587.84,805.1 588.52,803.17 589.21,801.99 589.9,799.9 590.58,797.9 591.27,797.83 591.96,795.49 592.64,793.71 593.33,789.38 594.02,788.7 594.71,786.69 595.39,784.91 596.08,783.57 596.77,781.79 597.45,778.28 598.14,777.42 598.83,773.52 599.51,772.81 600.2,770.86 600.89,769.12 601.57,766.93 602.26,764.77 602.95,761.23 603.64,758.35 604.32,759.86 605.01,756.39 605.7,753.91 606.38,753.58 607.07,751.32 607.76,749.18 608.44,749.31 609.13,744.14 609.82,743 610.51,741.18 611.19,739.16 611.88,737.18 612.57,733.14 613.25,733.77 613.94,731.36 614.63,731.23 615.31,728.65 616,727.86 616.69,726.18 617.37,725.59 618.06,724.11 618.75,721.31 619.44,719.69 620.12,718.8 620.81,718.96 621.5,716.71 622.18,719.03 622.87,713.98 623.56,714.24 624.24,713.05 624.93,711.23 625.62,712.42 626.31,710.17 626.99,711.29 627.68,709.65 628.37,710.4 629.05,709.23 629.74,707.62 630.43,709.97 631.11,709.84 631.8,709.48 632.49,708.75 633.18,705.9 633.86,710.05 634.55,712.06 635.24,710.8 635.92,712.45 636.61,711.93 637.3,712.12 637.98,714.35 638.67,715.29 639.36,718.17 640.04,717.48 640.73,720.5 641.42,720.55 642.11,723 642.79,727.82 643.48,730.11 644.17,732.72 644.85,735.24 645.54,741.4 646.23,743.35 646.91,745.18 647.6,751.28 648.29,755.14 648.98,759.67 649.66,765.27 650.35,767.64 651.04,772.86 651.72,777.51 652.41,781.54 653.1,786.03 653.78,792.94 654.47,795.25 655.16,800.52 655.84,804.13 656.53,808.98 657.22,813.08 657.91,815.44 658.59,819.88 659.28,823.58 659.97,826.89 660.65,829.72 661.34,832.7 662.03,837.14 662.71,838.55 663.4,840.41 664.09,841.84 664.78,843.36 665.46,846.71 666.15,846.32 666.84,849 667.52,849.99 668.21,851.79" fill="none" stroke="#e21e26" stroke-width="1.55" stroke-linejoin="round"/>
<polyline points="410.6,861.28 411.29,859.97 411.97,861.03 412.66,860.95 413.35,860.14 414.03,859.77 414.72,861.85 415.41,861 416.1,860.89 416.78,859.71 417.47,859.28 418.16,860.9 418.84,860.63 419.53,860.31 420.22,860.12 420.9,861.06 421.59,860.3 422.28,861.3 422.97,862.57 423.65,861.73 424.34,860.7 425.03,860.33 425.71,862.28 426.4,861.98 427.09,860.83 427.77,862.99 428.46,860.44 429.15,860.13 429.83,862.71 430.52,860.29 431.21,860.9 431.9,859.85 432.58,860.58 433.27,860.91 433.96,860.67 434.64,860.13 435.33,860.61 436.02,860.7 436.7,861.65 437.39,860.4 438.08,860.68 438.77,859.5 439.45,860.69 440.14,860.73 440.83,861.07 441.51,860.19 442.2,860.78 442.89,861.09 443.57,859.59 444.26,859.47 444.95,860.9 445.63,861.26 446.32,859.86 447.01,861.12 447.7,858.75 448.38,860.64 449.07,859.92 449.76,861.37 450.44,860.55 451.13,859.81 451.82,860.22 452.5,860.84 453.19,858.89 453.88,859.99 454.57,860.6 455.25,860.83 455.94,860.6 456.63,859.54 457.31,860.9 458,860.37 458.69,860.91 459.37,859.55 460.06,860.45 460.75,859.78 461.44,859.95 462.12,860.68 462.81,859.84 463.5,859.67 464.18,861 464.87,859.79 465.56,857.93 466.24,860.41 466.93,859.79 467.62,861.05 468.3,859.87 468.99,860.54 469.68,859.64 470.37,860.16 471.05,860.87 471.74,859.38 472.43,860.21 473.11,860.71 473.8,860 474.49,860.65 475.17,859.75 475.86,860.03 476.55,860.21 477.24,859.52 477.92,860.76 478.61,859.28 479.3,861.19 479.98,858.83 480.67,859.74 481.36,860.01 482.04,860.29 482.73,859.44 483.42,859.88 484.1,859.87 484.79,859.07 485.48,860 486.17,859.85 486.85,859.39 487.54,858.95 488.23,859.73 488.91,859.5 489.6,859.56 490.29,859.08 490.97,858.57 491.66,860.13 492.35,859.58 493.04,859.5 493.72,859.07 494.41,858.45 495.1,859.41 495.78,859.24 496.47,858.62 497.16,860.14 497.84,859.81 498.53,859.57 499.22,859.26 499.9,859.08 500.59,859.54 501.28,858.04 501.97,859.61 502.65,859.26 503.34,858.39 504.03,858.57 504.71,859.05 505.4,858.77 506.09,858.45 506.77,858.96 507.46,858.5 508.15,859.49 508.84,858.82 509.52,859.9 510.21,859.38 510.9,859.51 511.58,857.92 512.27,859 512.96,858.47 513.64,859.24 514.33,858.73 515.02,858.74 515.7,859.08 516.39,857.92 517.08,859.53 517.77,857.99 518.45,856.62 519.14,858.85 519.83,858.25 520.51,859.25 521.2,858.2 521.89,859.27 522.57,857.67 523.26,858.35 523.95,859.19 524.64,858.77 525.32,858.9 526.01,857.99 526.7,857.18 527.38,857.94 528.07,858.38 528.76,858.09 529.44,857.39 530.13,858.99 530.82,856.93 531.5,856.96 532.19,858.76 532.88,856.27 533.57,858.03 534.25,857 534.94,855.97 535.63,857.72 536.31,857.75 537,857.15 537.69,857 538.37,856.24 539.06,856.36 539.75,856.21 540.44,856.08 541.12,855.76 541.81,856.08 542.5,855.15 543.18,855.22 543.87,855.74 544.56,853.68 545.24,855.57 545.93,854.04 546.62,854.84 547.31,853.89 547.99,853.56 548.68,853.1 549.37,852.48 550.05,853.75 550.74,850.98 551.43,852.36 552.11,852.89 552.8,852.95 553.49,850.1 554.17,850.23 554.86,851.01 555.55,850.1 556.24,849.33 556.92,849.75 557.61,849.69 558.3,848.98 558.98,847.91 559.67,848.01 560.36,848.39 561.04,846.49 561.73,847.71 562.42,846.48 563.11,844.5 563.79,844.62 564.48,844.01 565.17,843.47 565.85,842.15 566.54,842.25 567.23,842.93 567.91,840.61 568.6,842.28 569.29,840.76 569.97,837.27 570.66,836.84 571.35,837.1 572.04,835.92 572.72,834.88 573.41,833.23 574.1,833.6 574.78,832.68 575.47,831.45 576.16,829.78 576.84,828.58 577.53,827.97 578.22,825.89 578.91,826.11 579.59,824.13 580.28,823.37 580.97,822.33 581.65,819.19 582.34,819.1 583.03,818.29 583.71,816.01 584.4,815.44 585.09,812.61 585.77,810.89 586.46,809.2 587.15,809.45 587.84,807.07 588.52,803.7 589.21,803.88 589.9,800.9 590.58,798.97 591.27,799.9 591.96,795.81 592.64,794.48 593.33,792.6 594.02,790.05 594.71,789.41 595.39,787.96 596.08,785.63 596.77,784.72 597.45,782.07 598.14,782.69 598.83,777.15 599.51,777.55 600.2,774.62 600.89,773 601.57,771.36 602.26,769.51 602.95,767.73 603.64,767.69 604.32,764.73 605.01,761.09 605.7,761.67 606.38,759.95 607.07,754.78 607.76,754.03 608.44,751.93 609.13,751.99 609.82,750.04 610.51,747.87 611.19,746.52 611.88,745.71 612.57,745.77 613.25,743.48 613.94,742.95 614.63,738.02 615.31,738.97 616,737.43 616.69,735.65 617.37,734.78 618.06,733.05 618.75,733.33 619.44,733.38 620.12,728.52 620.81,730.55 621.5,729.42 622.18,729.03 622.87,728.01 623.56,726.67 624.24,725.2 624.93,726.85 625.62,724.76 626.31,725.54 626.99,722.94 627.68,725.63 628.37,723.83 629.05,722.96 629.74,725.43 630.43,723.65 631.11,723.64 631.8,724.89 632.49,724.36 633.18,723.19 633.86,724.49 634.55,725.83 635.24,726.28 635.92,726.35 636.61,726.41 637.3,728.21 637.98,729.71 638.67,730.35 639.36,735.83 640.04,737.72 640.73,740.92 641.42,739.81 642.11,746 642.79,746.33 643.48,748.5 644.17,754.08 644.85,756.67 645.54,759.8 646.23,762.45 646.91,768.6 647.6,770.64 648.29,774.27 648.98,778.9 649.66,783.01 650.35,786.12 651.04,791.24 651.72,795.55 652.41,799.86 653.1,802.95 653.78,807.65 654.47,810.63 655.16,814.76 655.84,817.46 656.53,822.4 657.22,824.94 657.91,827.8 658.59,830.66 659.28,832.84 659.97,835.95 660.65,837.94 661.34,839.38 662.03,842.2 662.71,845.38 663.4,847.29 664.09,847.34 664.78,849.41 665.46,850.16 666.15,851.54 666.84,851.48 667.52,852.37 668.21,854.62" fill="none" stroke="#b5562b" stroke-width="1.5" stroke-linejoin="round"/>
</g>
<rect x="410.6" y="676.2" width="257.6" height="188.8" fill="none" stroke="#000" stroke-width="1.5"/>
<path d="M410.6 860.2h-4.5 M410.6 841.82h-2.6 M410.6 823.44h-4.5 M410.6 805.06h-2.6 M410.6 786.68h-4.5 M410.6 768.3h-2.6 M410.6 749.92h-4.5 M410.6 731.54h-2.6 M410.6 713.16h-4.5 M410.6 694.78h-2.6 M410.6 676.4h-4.5 M410.6 865v4.5 M432.07 865v2.6 M453.54 865v4.5 M475 865v2.6 M496.47 865v4.5 M517.94 865v2.6 M539.4 865v4.5 M560.87 865v2.6 M582.34 865v4.5 M603.81 865v2.6 M625.28 865v4.5 M646.74 865v2.6 M668.21 865v4.5" stroke="#000" stroke-width="1.3" fill="none"/>
<g font-family='"Liberation Serif", serif' font-weight="bold" font-size="15.4" fill="#000">
<text x="404.6" y="865.2" text-anchor="end">0</text>
<text x="404.6" y="828.44" text-anchor="end">200</text>
<text x="404.6" y="791.68" text-anchor="end">400</text>
<text x="404.6" y="754.92" text-anchor="end">600</text>
<text x="404.6" y="718.16" text-anchor="end">800</text>
<text x="404.6" y="681.4" text-anchor="end">1000</text>
<text x="410.6" y="884.8" text-anchor="middle">400</text>
<text x="453.54" y="884.8" text-anchor="middle">450</text>
<text x="496.47" y="884.8" text-anchor="middle">500</text>
<text x="539.4" y="884.8" text-anchor="middle">550</text>
<text x="582.34" y="884.8" text-anchor="middle">600</text>
<text x="625.28" y="884.8" text-anchor="middle">650</text>
<text x="668.21" y="884.8" text-anchor="middle">700</text>
</g>
<text x="541.7" y="904.4" text-anchor="middle" font-family='"Liberation Serif", serif' font-weight="bold" font-size="20" fill="#000">Wavelength (nm)</text>
<text transform="translate(369,769.5) rotate(-90)" text-anchor="middle" font-family='"Liberation Serif", serif' font-weight="bold" font-size="16.5" fill="#000">Intensity (arb. units)</text>
<g font-family='"Liberation Serif", serif' font-weight="bold" font-size="13.2" fill="#000">
<line x1="414.9" x2="439.3" y1="686.3" y2="686.3" stroke="#1f7fbf" stroke-width="1.6"/>
<text transform="translate(443.8 690.3) skewX(-9)" font-family='"Liberation Serif", serif' font-style="italic" font-weight="normal" font-size="13.4" fill="#000" stroke="#000" stroke-width="0.35">λ</text><text x="449.9" y="690.3" font-family='"Liberation Serif", serif' font-weight="bold" font-size="13.2" fill="#000"><tspan font-size="10" dy="3.3">ex</tspan><tspan dy="-3.3"> = 890 nm</tspan></text>
<line x1="414.9" x2="439.3" y1="706.8" y2="706.8" stroke="#2ca02c" stroke-width="1.6"/>
<text transform="translate(443.8 710.8) skewX(-9)" font-family='"Liberation Serif", serif' font-style="italic" font-weight="normal" font-size="13.4" fill="#000" stroke="#000" stroke-width="0.35">λ</text><text x="449.9" y="710.8" font-family='"Liberation Serif", serif' font-weight="bold" font-size="13.2" fill="#000"><tspan font-size="10" dy="3.3">ex</tspan><tspan dy="-3.3"> = 880 nm</tspan></text>
<line x1="414.9" x2="439.3" y1="727.3" y2="727.3" stroke="#a6dc8a" stroke-width="1.6"/>
<text transform="translate(443.8 731.3) skewX(-9)" font-family='"Liberation Serif", serif' font-style="italic" font-weight="normal" font-size="13.4" fill="#000" stroke="#000" stroke-width="0.35">λ</text><text x="449.9" y="731.3" font-family='"Liberation Serif", serif' font-weight="bold" font-size="13.2" fill="#000"><tspan font-size="10" dy="3.3">ex</tspan><tspan dy="-3.3"> = 870 nm</tspan></text>
<line x1="414.9" x2="439.3" y1="747.8" y2="747.8" stroke="#cdb4dc" stroke-width="1.6"/>
<text transform="translate(443.8 751.8) skewX(-9)" font-family='"Liberation Serif", serif' font-style="italic" font-weight="normal" font-size="13.4" fill="#000" stroke="#000" stroke-width="0.35">λ</text><text x="449.9" y="751.8" font-family='"Liberation Serif", serif' font-weight="bold" font-size="13.2" fill="#000"><tspan font-size="10" dy="3.3">ex</tspan><tspan dy="-3.3"> = 860 nm</tspan></text>
<line x1="414.9" x2="439.3" y1="768.3" y2="768.3" stroke="#6a3fa0" stroke-width="1.6"/>
<text transform="translate(443.8 772.3) skewX(-9)" font-family='"Liberation Serif", serif' font-style="italic" font-weight="normal" font-size="13.4" fill="#000" stroke="#000" stroke-width="0.35">λ</text><text x="449.9" y="772.3" font-family='"Liberation Serif", serif' font-weight="bold" font-size="13.2" fill="#000"><tspan font-size="10" dy="3.3">ex</tspan><tspan dy="-3.3"> = 850 nm</tspan></text>
<line x1="414.9" x2="439.3" y1="788.8" y2="788.8" stroke="#f59c9c" stroke-width="1.6"/>
<text transform="translate(443.8 792.8) skewX(-9)" font-family='"Liberation Serif", serif' font-style="italic" font-weight="normal" font-size="13.4" fill="#000" stroke="#000" stroke-width="0.35">λ</text><text x="449.9" y="792.8" font-family='"Liberation Serif", serif' font-weight="bold" font-size="13.2" fill="#000"><tspan font-size="10" dy="3.3">ex</tspan><tspan dy="-3.3"> = 840 nm</tspan></text>
<line x1="414.9" x2="439.3" y1="809.3" y2="809.3" stroke="#e21e26" stroke-width="1.6"/>
<text transform="translate(443.8 813.3) skewX(-9)" font-family='"Liberation Serif", serif' font-style="italic" font-weight="normal" font-size="13.4" fill="#000" stroke="#000" stroke-width="0.35">λ</text><text x="449.9" y="813.3" font-family='"Liberation Serif", serif' font-weight="bold" font-size="13.2" fill="#000"><tspan font-size="10" dy="3.3">ex</tspan><tspan dy="-3.3"> = 830 nm</tspan></text>
<line x1="414.9" x2="439.3" y1="829.8" y2="829.8" stroke="#b5562b" stroke-width="1.6"/>
<text transform="translate(443.8 833.8) skewX(-9)" font-family='"Liberation Serif", serif' font-style="italic" font-weight="normal" font-size="13.4" fill="#000" stroke="#000" stroke-width="0.35">λ</text><text x="449.9" y="833.8" font-family='"Liberation Serif", serif' font-weight="bold" font-size="13.2" fill="#000"><tspan font-size="10" dy="3.3">ex</tspan><tspan dy="-3.3"> = 820 nm</tspan></text>
</g>
<g font-family='"Liberation Serif", serif' font-weight="bold" font-size="32" fill="#000"><text x="9" y="32">a</text><text x="213" y="32">b</text><text x="355" y="24.3">c</text><text x="7.5" y="283.2">d</text><text x="11" y="696.5">e</text><text x="335.5" y="695.5">f</text></g>
</svg>
</body></html>
